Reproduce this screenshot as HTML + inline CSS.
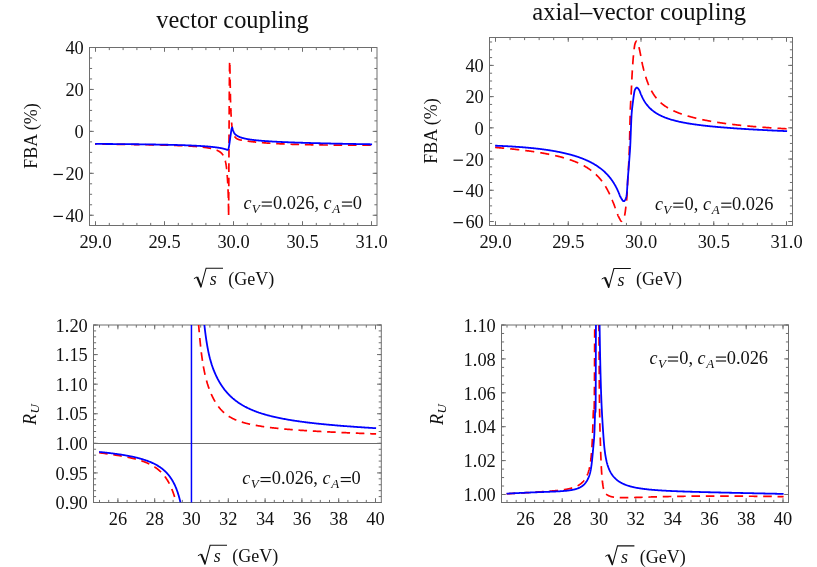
<!DOCTYPE html>
<html><head><meta charset="utf-8"><title>plot</title>
<style>
html,body{margin:0;padding:0;background:#fff;}
svg{display:block;font-family:"Liberation Serif", serif;fill:#111;will-change:transform;opacity:0.999;}
svg text{fill:#111;stroke:none;}
</style></head>
<body>
<svg width="817" height="567" viewBox="0 0 817 567">
<rect width="817" height="567" fill="#fff"/>
<clipPath id="clip1"><rect x="89.5" y="47.5" width="287.5" height="178.0"/></clipPath>
<line x1="95.50" y1="225.50" x2="95.50" y2="222.90" stroke="#6e6e6e" stroke-width="1"/>
<line x1="95.50" y1="47.50" x2="95.50" y2="50.10" stroke="#6e6e6e" stroke-width="1"/>
<line x1="109.30" y1="225.50" x2="109.30" y2="222.90" stroke="#6e6e6e" stroke-width="1"/>
<line x1="109.30" y1="47.50" x2="109.30" y2="50.10" stroke="#6e6e6e" stroke-width="1"/>
<line x1="123.10" y1="225.50" x2="123.10" y2="222.90" stroke="#6e6e6e" stroke-width="1"/>
<line x1="123.10" y1="47.50" x2="123.10" y2="50.10" stroke="#6e6e6e" stroke-width="1"/>
<line x1="136.90" y1="225.50" x2="136.90" y2="222.90" stroke="#6e6e6e" stroke-width="1"/>
<line x1="136.90" y1="47.50" x2="136.90" y2="50.10" stroke="#6e6e6e" stroke-width="1"/>
<line x1="150.70" y1="225.50" x2="150.70" y2="222.90" stroke="#6e6e6e" stroke-width="1"/>
<line x1="150.70" y1="47.50" x2="150.70" y2="50.10" stroke="#6e6e6e" stroke-width="1"/>
<line x1="164.50" y1="225.50" x2="164.50" y2="222.90" stroke="#6e6e6e" stroke-width="1"/>
<line x1="164.50" y1="47.50" x2="164.50" y2="50.10" stroke="#6e6e6e" stroke-width="1"/>
<line x1="178.30" y1="225.50" x2="178.30" y2="222.90" stroke="#6e6e6e" stroke-width="1"/>
<line x1="178.30" y1="47.50" x2="178.30" y2="50.10" stroke="#6e6e6e" stroke-width="1"/>
<line x1="192.10" y1="225.50" x2="192.10" y2="222.90" stroke="#6e6e6e" stroke-width="1"/>
<line x1="192.10" y1="47.50" x2="192.10" y2="50.10" stroke="#6e6e6e" stroke-width="1"/>
<line x1="205.90" y1="225.50" x2="205.90" y2="222.90" stroke="#6e6e6e" stroke-width="1"/>
<line x1="205.90" y1="47.50" x2="205.90" y2="50.10" stroke="#6e6e6e" stroke-width="1"/>
<line x1="219.70" y1="225.50" x2="219.70" y2="222.90" stroke="#6e6e6e" stroke-width="1"/>
<line x1="219.70" y1="47.50" x2="219.70" y2="50.10" stroke="#6e6e6e" stroke-width="1"/>
<line x1="233.50" y1="225.50" x2="233.50" y2="222.90" stroke="#6e6e6e" stroke-width="1"/>
<line x1="233.50" y1="47.50" x2="233.50" y2="50.10" stroke="#6e6e6e" stroke-width="1"/>
<line x1="247.30" y1="225.50" x2="247.30" y2="222.90" stroke="#6e6e6e" stroke-width="1"/>
<line x1="247.30" y1="47.50" x2="247.30" y2="50.10" stroke="#6e6e6e" stroke-width="1"/>
<line x1="261.10" y1="225.50" x2="261.10" y2="222.90" stroke="#6e6e6e" stroke-width="1"/>
<line x1="261.10" y1="47.50" x2="261.10" y2="50.10" stroke="#6e6e6e" stroke-width="1"/>
<line x1="274.90" y1="225.50" x2="274.90" y2="222.90" stroke="#6e6e6e" stroke-width="1"/>
<line x1="274.90" y1="47.50" x2="274.90" y2="50.10" stroke="#6e6e6e" stroke-width="1"/>
<line x1="288.70" y1="225.50" x2="288.70" y2="222.90" stroke="#6e6e6e" stroke-width="1"/>
<line x1="288.70" y1="47.50" x2="288.70" y2="50.10" stroke="#6e6e6e" stroke-width="1"/>
<line x1="302.50" y1="225.50" x2="302.50" y2="222.90" stroke="#6e6e6e" stroke-width="1"/>
<line x1="302.50" y1="47.50" x2="302.50" y2="50.10" stroke="#6e6e6e" stroke-width="1"/>
<line x1="316.30" y1="225.50" x2="316.30" y2="222.90" stroke="#6e6e6e" stroke-width="1"/>
<line x1="316.30" y1="47.50" x2="316.30" y2="50.10" stroke="#6e6e6e" stroke-width="1"/>
<line x1="330.10" y1="225.50" x2="330.10" y2="222.90" stroke="#6e6e6e" stroke-width="1"/>
<line x1="330.10" y1="47.50" x2="330.10" y2="50.10" stroke="#6e6e6e" stroke-width="1"/>
<line x1="343.90" y1="225.50" x2="343.90" y2="222.90" stroke="#6e6e6e" stroke-width="1"/>
<line x1="343.90" y1="47.50" x2="343.90" y2="50.10" stroke="#6e6e6e" stroke-width="1"/>
<line x1="357.70" y1="225.50" x2="357.70" y2="222.90" stroke="#6e6e6e" stroke-width="1"/>
<line x1="357.70" y1="47.50" x2="357.70" y2="50.10" stroke="#6e6e6e" stroke-width="1"/>
<line x1="371.50" y1="225.50" x2="371.50" y2="222.90" stroke="#6e6e6e" stroke-width="1"/>
<line x1="371.50" y1="47.50" x2="371.50" y2="50.10" stroke="#6e6e6e" stroke-width="1"/>
<line x1="95.50" y1="225.50" x2="95.50" y2="221.20" stroke="#6e6e6e" stroke-width="1"/>
<line x1="95.50" y1="47.50" x2="95.50" y2="51.80" stroke="#6e6e6e" stroke-width="1"/>
<text x="95.50" y="248.30" font-size="18.4" text-anchor="middle" font-style="normal">29.0</text>
<line x1="164.50" y1="225.50" x2="164.50" y2="221.20" stroke="#6e6e6e" stroke-width="1"/>
<line x1="164.50" y1="47.50" x2="164.50" y2="51.80" stroke="#6e6e6e" stroke-width="1"/>
<text x="164.50" y="248.30" font-size="18.4" text-anchor="middle" font-style="normal">29.5</text>
<line x1="233.50" y1="225.50" x2="233.50" y2="221.20" stroke="#6e6e6e" stroke-width="1"/>
<line x1="233.50" y1="47.50" x2="233.50" y2="51.80" stroke="#6e6e6e" stroke-width="1"/>
<text x="233.50" y="248.30" font-size="18.4" text-anchor="middle" font-style="normal">30.0</text>
<line x1="302.50" y1="225.50" x2="302.50" y2="221.20" stroke="#6e6e6e" stroke-width="1"/>
<line x1="302.50" y1="47.50" x2="302.50" y2="51.80" stroke="#6e6e6e" stroke-width="1"/>
<text x="302.50" y="248.30" font-size="18.4" text-anchor="middle" font-style="normal">30.5</text>
<line x1="371.50" y1="225.50" x2="371.50" y2="221.20" stroke="#6e6e6e" stroke-width="1"/>
<line x1="371.50" y1="47.50" x2="371.50" y2="51.80" stroke="#6e6e6e" stroke-width="1"/>
<text x="371.50" y="248.30" font-size="18.4" text-anchor="middle" font-style="normal">31.0</text>
<line x1="89.50" y1="47.50" x2="92.10" y2="47.50" stroke="#6e6e6e" stroke-width="1"/>
<line x1="377.00" y1="47.50" x2="374.40" y2="47.50" stroke="#6e6e6e" stroke-width="1"/>
<line x1="89.50" y1="57.98" x2="92.10" y2="57.98" stroke="#6e6e6e" stroke-width="1"/>
<line x1="377.00" y1="57.98" x2="374.40" y2="57.98" stroke="#6e6e6e" stroke-width="1"/>
<line x1="89.50" y1="68.47" x2="92.10" y2="68.47" stroke="#6e6e6e" stroke-width="1"/>
<line x1="377.00" y1="68.47" x2="374.40" y2="68.47" stroke="#6e6e6e" stroke-width="1"/>
<line x1="89.50" y1="78.95" x2="92.10" y2="78.95" stroke="#6e6e6e" stroke-width="1"/>
<line x1="377.00" y1="78.95" x2="374.40" y2="78.95" stroke="#6e6e6e" stroke-width="1"/>
<line x1="89.50" y1="89.44" x2="92.10" y2="89.44" stroke="#6e6e6e" stroke-width="1"/>
<line x1="377.00" y1="89.44" x2="374.40" y2="89.44" stroke="#6e6e6e" stroke-width="1"/>
<line x1="89.50" y1="99.92" x2="92.10" y2="99.92" stroke="#6e6e6e" stroke-width="1"/>
<line x1="377.00" y1="99.92" x2="374.40" y2="99.92" stroke="#6e6e6e" stroke-width="1"/>
<line x1="89.50" y1="110.41" x2="92.10" y2="110.41" stroke="#6e6e6e" stroke-width="1"/>
<line x1="377.00" y1="110.41" x2="374.40" y2="110.41" stroke="#6e6e6e" stroke-width="1"/>
<line x1="89.50" y1="120.89" x2="92.10" y2="120.89" stroke="#6e6e6e" stroke-width="1"/>
<line x1="377.00" y1="120.89" x2="374.40" y2="120.89" stroke="#6e6e6e" stroke-width="1"/>
<line x1="89.50" y1="131.38" x2="92.10" y2="131.38" stroke="#6e6e6e" stroke-width="1"/>
<line x1="377.00" y1="131.38" x2="374.40" y2="131.38" stroke="#6e6e6e" stroke-width="1"/>
<line x1="89.50" y1="141.87" x2="92.10" y2="141.87" stroke="#6e6e6e" stroke-width="1"/>
<line x1="377.00" y1="141.87" x2="374.40" y2="141.87" stroke="#6e6e6e" stroke-width="1"/>
<line x1="89.50" y1="152.35" x2="92.10" y2="152.35" stroke="#6e6e6e" stroke-width="1"/>
<line x1="377.00" y1="152.35" x2="374.40" y2="152.35" stroke="#6e6e6e" stroke-width="1"/>
<line x1="89.50" y1="162.83" x2="92.10" y2="162.83" stroke="#6e6e6e" stroke-width="1"/>
<line x1="377.00" y1="162.83" x2="374.40" y2="162.83" stroke="#6e6e6e" stroke-width="1"/>
<line x1="89.50" y1="173.32" x2="92.10" y2="173.32" stroke="#6e6e6e" stroke-width="1"/>
<line x1="377.00" y1="173.32" x2="374.40" y2="173.32" stroke="#6e6e6e" stroke-width="1"/>
<line x1="89.50" y1="183.81" x2="92.10" y2="183.81" stroke="#6e6e6e" stroke-width="1"/>
<line x1="377.00" y1="183.81" x2="374.40" y2="183.81" stroke="#6e6e6e" stroke-width="1"/>
<line x1="89.50" y1="194.29" x2="92.10" y2="194.29" stroke="#6e6e6e" stroke-width="1"/>
<line x1="377.00" y1="194.29" x2="374.40" y2="194.29" stroke="#6e6e6e" stroke-width="1"/>
<line x1="89.50" y1="204.78" x2="92.10" y2="204.78" stroke="#6e6e6e" stroke-width="1"/>
<line x1="377.00" y1="204.78" x2="374.40" y2="204.78" stroke="#6e6e6e" stroke-width="1"/>
<line x1="89.50" y1="215.26" x2="92.10" y2="215.26" stroke="#6e6e6e" stroke-width="1"/>
<line x1="377.00" y1="215.26" x2="374.40" y2="215.26" stroke="#6e6e6e" stroke-width="1"/>
<line x1="89.50" y1="47.50" x2="93.80" y2="47.50" stroke="#6e6e6e" stroke-width="1"/>
<line x1="377.00" y1="47.50" x2="372.70" y2="47.50" stroke="#6e6e6e" stroke-width="1"/>
<text x="83.80" y="54.20" font-size="18.4" text-anchor="end" font-style="normal">40</text>
<line x1="89.50" y1="89.44" x2="93.80" y2="89.44" stroke="#6e6e6e" stroke-width="1"/>
<line x1="377.00" y1="89.44" x2="372.70" y2="89.44" stroke="#6e6e6e" stroke-width="1"/>
<text x="83.80" y="96.14" font-size="18.4" text-anchor="end" font-style="normal">20</text>
<line x1="89.50" y1="131.38" x2="93.80" y2="131.38" stroke="#6e6e6e" stroke-width="1"/>
<line x1="377.00" y1="131.38" x2="372.70" y2="131.38" stroke="#6e6e6e" stroke-width="1"/>
<text x="83.80" y="138.08" font-size="18.4" text-anchor="end" font-style="normal">0</text>
<line x1="89.50" y1="173.32" x2="93.80" y2="173.32" stroke="#6e6e6e" stroke-width="1"/>
<line x1="377.00" y1="173.32" x2="372.70" y2="173.32" stroke="#6e6e6e" stroke-width="1"/>
<text x="83.80" y="180.02" font-size="18.4" text-anchor="end" font-style="normal">20</text>
<line x1="53.50" y1="174.47" x2="62.90" y2="174.47" stroke="#111" stroke-width="1.2"/>
<line x1="89.50" y1="215.26" x2="93.80" y2="215.26" stroke="#6e6e6e" stroke-width="1"/>
<line x1="377.00" y1="215.26" x2="372.70" y2="215.26" stroke="#6e6e6e" stroke-width="1"/>
<text x="83.80" y="221.96" font-size="18.4" text-anchor="end" font-style="normal">40</text>
<line x1="53.50" y1="216.41" x2="62.90" y2="216.41" stroke="#111" stroke-width="1.2"/>
<rect x="89.5" y="47.5" width="287.5" height="178.0" fill="none" stroke="#6e6e6e" stroke-width="1"/>
<path d="M95.10,144.06 L95.50,144.06 L96.32,144.07 L97.15,144.08 L97.96,144.09 L98.78,144.10 L99.59,144.10 L100.41,144.11 L101.21,144.12 L102.02,144.13 L102.82,144.14 L103.62,144.15 L104.42,144.16 L105.22,144.16 L106.01,144.17 L106.80,144.18 L107.59,144.19 L108.38,144.20 L109.16,144.21 L109.94,144.22 L110.72,144.23 L111.49,144.23 L112.27,144.24 L113.04,144.25 L113.81,144.26 L114.57,144.27 L115.33,144.28 L116.09,144.29 L116.85,144.30 L117.61,144.31 L118.36,144.32 L119.11,144.33 L119.86,144.33 L120.60,144.34 L121.34,144.35 L122.08,144.36 L122.82,144.37 L123.55,144.38 L124.29,144.39 L125.02,144.40 L125.74,144.41 L126.47,144.42 L127.19,144.43 L127.91,144.44 L128.63,144.45 L129.34,144.46 L130.05,144.47 L130.76,144.48 L131.47,144.49 L132.17,144.50 L132.87,144.51 L133.57,144.52 L134.27,144.53 L134.96,144.54 L135.65,144.55 L136.34,144.56 L137.03,144.57 L137.71,144.58 L138.39,144.60 L139.07,144.61 L139.75,144.62 L140.42,144.63 L141.09,144.64 L141.76,144.65 L142.43,144.66 L143.09,144.67 L143.75,144.68 L144.41,144.69 L145.06,144.71 L145.72,144.72 L146.37,144.73 L147.02,144.74 L147.66,144.75 L148.30,144.76 L148.94,144.78 L149.58,144.79 L150.22,144.80 L150.85,144.81 L151.48,144.83 L152.11,144.84 L152.73,144.85 L153.35,144.86 L153.97,144.88 L154.59,144.89 L155.21,144.90 L155.82,144.91 L156.43,144.93 L157.03,144.94 L157.64,144.95 L158.24,144.97 L158.84,144.98 L159.44,145.00 L160.03,145.01 L160.62,145.02 L161.21,145.04 L161.80,145.05 L162.38,145.07 L162.97,145.08 L163.54,145.10 L164.12,145.11 L164.69,145.12 L165.27,145.14 L165.83,145.15 L166.40,145.17 L166.96,145.19 L167.53,145.20 L168.08,145.22 L168.64,145.23 L169.19,145.25 L169.74,145.27 L170.29,145.28 L170.84,145.30 L171.38,145.32 L171.92,145.33 L172.46,145.35 L173.00,145.37 L173.53,145.38 L174.06,145.40 L174.59,145.42 L175.11,145.44 L175.64,145.46 L176.16,145.47 L176.68,145.49 L177.19,145.51 L177.70,145.53 L178.21,145.55 L178.72,145.57 L179.23,145.59 L179.73,145.61 L180.23,145.63 L180.72,145.65 L181.22,145.67 L181.71,145.69 L182.20,145.71 L182.69,145.73 L183.17,145.76 L183.66,145.78 L184.13,145.80 L184.61,145.82 L185.09,145.85 L185.56,145.87 L186.03,145.89 L186.49,145.92 L186.96,145.94 L187.42,145.97 L187.88,145.99 L188.33,146.01 L188.79,146.04 L189.24,146.07 L189.69,146.09 L190.13,146.12 L190.58,146.15 L191.02,146.17 L191.46,146.20 L191.89,146.23 L192.33,146.26 L192.76,146.28 L193.19,146.31 L193.61,146.34 L194.03,146.37 L194.45,146.40 L194.87,146.43 L195.29,146.47 L195.70,146.50 L196.11,146.53 L196.52,146.56 L196.92,146.60 L197.33,146.63 L197.73,146.66 L198.12,146.70 L198.52,146.73 L198.91,146.77 L199.30,146.81 L199.69,146.84 L200.07,146.88 L200.45,146.92 L200.83,146.96 L201.21,147.00 L201.58,147.04 L201.96,147.08 L202.32,147.12 L202.69,147.16 L203.06,147.20 L203.42,147.25 L203.78,147.29 L204.13,147.33 L204.48,147.38 L204.84,147.43 L205.18,147.47 L205.53,147.52 L205.87,147.57 L206.21,147.62 L206.55,147.67 L206.89,147.72 L207.22,147.78 L207.55,147.83 L207.88,147.88 L208.20,147.94 L208.52,147.99 L208.84,148.05 L209.16,148.11 L209.47,148.17 L209.78,148.23 L210.09,148.29 L210.40,148.35 L210.70,148.42 L211.00,148.48 L211.30,148.55 L211.60,148.62 L211.89,148.69 L212.18,148.76 L212.47,148.83 L212.75,148.90 L213.03,148.98 L213.31,149.05 L213.59,149.13 L213.86,149.21 L214.13,149.29 L214.40,149.37 L214.67,149.45 L214.93,149.54 L215.19,149.63 L215.45,149.71 L215.70,149.81 L215.95,149.90 L216.20,149.99 L216.44,150.09 L216.69,150.19 L216.93,150.29 L217.16,150.39 L217.40,150.49 L217.63,150.60 L217.86,150.70 L218.08,150.82 L218.30,150.93 L218.52,151.04 L218.74,151.16 L218.95,151.28 L219.16,151.40 L219.36,151.53 L219.57,151.66 L219.77,151.79 L219.96,151.93 L220.15,152.06 L220.34,152.20 L220.53,152.35 L220.71,152.50 L220.89,152.65 L221.07,152.80 L221.24,152.96 L221.41,153.12 L221.57,153.29 L221.73,153.45 L221.89,153.62 L222.04,153.80 L222.19,153.98 L222.34,154.16 L222.48,154.35 L222.62,154.53 L222.76,154.73 L222.89,154.92 L223.02,155.12 L223.15,155.32 L223.27,155.53 L223.39,155.74 L223.51,155.95 L223.62,156.17 L223.73,156.38 L223.84,156.61 L223.95,156.83 L224.05,157.06 L224.15,157.29 L224.25,157.52 L224.34,157.76 L224.43,158.00 L224.52,158.24 L224.61,158.49 L224.69,158.73 L224.78,158.98 L224.86,159.24 L224.94,159.49 L225.01,159.75 L225.09,160.01 L225.16,160.27 L225.23,160.54 L225.30,160.81 L225.36,161.08 L225.43,161.35 L225.49,161.63 L225.56,161.91 L225.62,162.19 L225.68,162.47 L225.73,162.76 L225.79,163.05 L225.84,163.34 L225.90,163.63 L225.95,163.93 L226.00,164.22 L226.05,164.52 L226.10,164.83 L226.15,165.13 L226.19,165.44 L226.24,165.74 L226.28,166.06 L226.33,166.37 L226.37,166.68 L226.41,167.00 L226.45,167.32 L226.49,167.64 L226.53,167.97 L226.57,168.29 L226.61,168.62 L226.64,168.95 L226.68,169.28 L226.71,169.61 L226.75,169.95 L226.78,170.29 L226.81,170.63 L226.85,170.97 L226.88,171.31 L226.91,171.65 L226.94,171.99 L226.97,172.34 L227.00,172.68 L227.03,173.03 L227.06,173.37 L227.09,173.72 L227.11,174.07 L227.14,174.42 L227.17,174.77 L227.20,175.11 L227.22,175.46 L227.25,175.81 L227.27,176.16 L227.30,176.51 L227.32,176.86 L227.35,177.20 L227.37,177.55 L227.39,177.90 L227.42,178.24 L227.44,178.59 L227.46,178.93 L227.49,179.28 L227.51,179.62 L227.53,179.96 L227.55,180.30 L227.57,180.64 L227.60,180.98 L227.62,181.32 L227.64,181.66 L227.66,181.99 L227.68,182.33 L227.70,182.67 L227.72,183.00 L227.74,183.34 L227.76,183.67 L227.77,184.01 L227.79,184.34 L227.81,184.67 L227.83,185.01 L227.85,185.34 L227.86,185.68 L227.88,186.01 L227.90,186.34 L227.92,186.68 L227.93,187.01 L227.95,187.35 L227.96,187.68 L227.98,188.02 L227.99,188.36 L228.01,188.70 L228.02,189.03 L228.04,189.37 L228.05,189.71 L228.07,190.06 L228.08,190.40 L228.09,190.74 L228.11,191.08 L228.12,191.43 L228.13,191.78 L228.15,192.12 L228.16,192.47 L228.17,192.82 L228.18,193.18 L228.19,193.53 L228.21,193.88 L228.22,194.24 L228.23,194.60 L228.24,194.96 L228.25,195.32 L228.26,195.68 L228.27,196.05 L228.28,196.41 L228.29,196.78 L228.30,197.15 L228.31,197.52 L228.32,197.90 L228.33,198.27 L228.34,198.65 L228.35,199.03 L228.36,199.41 L228.36,199.80 L228.37,200.18 L228.38,200.57 L228.39,200.96 L228.40,201.35 L228.40,201.75 L228.41,202.14 L228.42,202.54 L228.43,202.94 L228.43,203.35 L228.44,203.75 L228.45,204.16 L228.45,204.57 L228.46,204.98 L228.47,205.40 L228.47,205.81 L228.48,206.23 L228.49,206.65 L228.49,207.08 L228.50,207.50 L228.50,207.93 L228.51,208.36 L228.52,208.80 L228.52,209.23 L228.53,209.67 L228.53,210.11 L228.54,210.55 L228.54,211.00 L228.55,211.44 L228.55,211.89 L228.56,212.35 L228.56,212.85 L228.57,213.43 L228.57,214.04 L228.58,214.66 L228.58,215.23 L228.58,215.74 L228.59,216.14 L228.59,216.39 L228.60,216.47 L228.61,216.28 L228.62,215.79 L228.62,215.02 L228.63,213.97 L228.64,212.66 L228.65,211.09 L228.67,209.29 L228.68,207.25 L228.69,205.00 L228.71,202.53 L228.72,199.87 L228.73,197.03 L228.75,194.01 L228.77,190.83 L228.78,187.50 L228.80,184.04 L228.82,180.44 L228.84,176.73 L228.86,172.91 L228.88,168.99 L228.89,165.00 L228.92,160.93 L228.94,156.81 L228.96,152.63 L228.98,148.42 L229.00,144.18 L229.02,139.93 L229.04,135.68 L229.07,131.43 L229.09,127.20 L229.11,123.01 L229.14,118.85 L229.16,114.75 L229.19,110.72 L229.21,106.76 L229.23,102.89 L229.26,99.12 L229.28,95.46 L229.31,91.92 L229.33,88.51 L229.36,85.25 L229.38,82.14 L229.41,79.21 L229.43,76.45 L229.46,73.88 L229.48,71.51 L229.51,69.35 L229.54,67.42 L229.56,65.72 L229.59,64.27 L229.61,63.08 L229.63,62.16 L229.66,61.52 L229.68,61.17 L229.71,61.12 L229.73,61.34 L229.76,61.80 L229.79,62.49 L229.82,63.39 L229.85,64.48 L229.88,65.74 L229.91,67.15 L229.95,68.70 L229.98,70.37 L230.01,72.14 L230.05,73.99 L230.08,75.90 L230.12,77.86 L230.15,79.84 L230.18,81.84 L230.21,83.82 L230.25,85.78 L230.28,87.69 L230.31,89.54 L230.34,91.31 L230.37,92.98 L230.39,94.54 L230.42,95.95 L230.44,97.22 L230.46,98.31 L230.48,99.22 L230.50,99.91 L230.52,100.46 L230.53,100.93 L230.54,101.35 L230.55,101.73 L230.57,102.10 L230.58,102.45 L230.59,102.82 L230.60,103.21 L230.61,103.62 L230.63,104.02 L230.64,104.43 L230.66,104.84 L230.67,105.24 L230.68,105.64 L230.70,106.04 L230.71,106.45 L230.73,106.85 L230.74,107.24 L230.76,107.64 L230.77,108.04 L230.79,108.43 L230.81,108.83 L230.82,109.22 L230.84,109.62 L230.86,110.01 L230.87,110.40 L230.89,110.79 L230.91,111.17 L230.92,111.56 L230.94,111.94 L230.96,112.33 L230.98,112.71 L231.00,113.09 L231.02,113.47 L231.03,113.85 L231.05,114.23 L231.07,114.60 L231.09,114.98 L231.11,115.35 L231.13,115.72 L231.16,116.09 L231.18,116.46 L231.20,116.82 L231.22,117.19 L231.24,117.55 L231.26,117.91 L231.29,118.27 L231.31,118.63 L231.33,118.99 L231.36,119.34 L231.38,119.69 L231.41,120.05 L231.43,120.39 L231.46,120.74 L231.49,121.09 L231.51,121.43 L231.54,121.77 L231.57,122.11 L231.60,122.45 L231.63,122.78 L231.65,123.11 L231.68,123.44 L231.72,123.77 L231.75,124.10 L231.78,124.42 L231.81,124.74 L231.84,125.06 L231.88,125.38 L231.91,125.69 L231.95,126.00 L231.98,126.31 L232.02,126.62 L232.06,126.92 L232.10,127.22 L232.13,127.52 L232.17,127.81 L232.22,128.10 L232.26,128.39 L232.30,128.68 L232.35,128.96 L232.39,129.25 L232.44,129.52 L232.48,129.80 L232.53,130.07 L232.58,130.34 L232.63,130.61 L232.69,130.87 L232.74,131.13 L232.80,131.39 L232.85,131.64 L232.91,131.89 L232.97,132.14 L233.03,132.39 L233.09,132.63 L233.16,132.87 L233.23,133.10 L233.29,133.34 L233.36,133.56 L233.44,133.79 L233.51,134.01 L233.59,134.23 L233.67,134.45 L233.75,134.66 L233.83,134.87 L233.92,135.07 L234.01,135.28 L234.10,135.47 L234.19,135.67 L234.29,135.86 L234.39,136.04 L234.49,136.23 L234.60,136.40 L234.71,136.58 L234.82,136.75 L234.94,136.91 L235.06,137.07 L235.18,137.23 L235.31,137.38 L235.44,137.53 L235.57,137.67 L235.71,137.81 L235.85,137.94 L235.99,138.07 L236.14,138.19 L236.29,138.31 L236.44,138.42 L236.60,138.53 L236.76,138.64 L236.93,138.74 L237.09,138.84 L237.27,138.93 L237.44,139.02 L237.62,139.10 L237.79,139.18 L237.98,139.26 L238.16,139.33 L238.35,139.40 L238.54,139.47 L238.73,139.53 L238.93,139.60 L239.12,139.65 L239.32,139.71 L239.53,139.77 L239.73,139.82 L239.94,139.87 L240.15,139.92 L240.36,139.96 L240.57,140.01 L240.79,140.05 L241.01,140.10 L241.23,140.14 L241.45,140.18 L241.68,140.22 L241.90,140.26 L242.13,140.30 L242.37,140.34 L242.60,140.38 L242.83,140.41 L243.07,140.45 L243.31,140.49 L243.55,140.53 L243.80,140.56 L244.04,140.60 L244.29,140.64 L244.54,140.67 L244.80,140.71 L245.05,140.75 L245.31,140.79 L245.57,140.82 L245.83,140.86 L246.09,140.90 L246.35,140.94 L246.62,140.98 L246.89,141.01 L247.16,141.05 L247.44,141.09 L247.71,141.13 L247.99,141.16 L248.27,141.20 L248.55,141.24 L248.83,141.28 L249.12,141.31 L249.41,141.35 L249.70,141.39 L249.99,141.42 L250.29,141.46 L250.58,141.50 L250.88,141.53 L251.18,141.57 L251.48,141.61 L251.79,141.64 L252.10,141.68 L252.40,141.72 L252.72,141.75 L253.03,141.79 L253.35,141.82 L253.66,141.86 L253.98,141.89 L254.30,141.93 L254.63,141.96 L254.95,142.00 L255.28,142.03 L255.61,142.07 L255.94,142.10 L256.28,142.13 L256.62,142.17 L256.95,142.20 L257.29,142.23 L257.64,142.27 L257.98,142.30 L258.33,142.33 L258.68,142.37 L259.03,142.40 L259.38,142.43 L259.74,142.46 L260.10,142.50 L260.46,142.53 L260.82,142.56 L261.18,142.59 L261.55,142.62 L261.92,142.65 L262.29,142.68 L262.66,142.71 L263.03,142.74 L263.41,142.77 L263.79,142.80 L264.17,142.83 L264.55,142.86 L264.94,142.89 L265.32,142.92 L265.71,142.95 L266.10,142.98 L266.50,143.01 L266.89,143.03 L267.29,143.06 L267.69,143.09 L268.09,143.12 L268.50,143.15 L268.90,143.17 L269.31,143.20 L269.72,143.23 L270.13,143.25 L270.55,143.28 L270.96,143.31 L271.38,143.33 L271.80,143.36 L272.22,143.38 L272.65,143.41 L273.08,143.43 L273.51,143.46 L273.94,143.48 L274.37,143.51 L274.81,143.53 L275.24,143.56 L275.68,143.58 L276.12,143.60 L276.57,143.63 L277.01,143.65 L277.46,143.67 L277.91,143.70 L278.36,143.72 L278.82,143.74 L279.27,143.76 L279.73,143.79 L280.19,143.81 L280.66,143.83 L281.12,143.85 L281.59,143.87 L282.06,143.89 L282.53,143.91 L283.00,143.94 L283.48,143.96 L283.95,143.98 L284.43,144.00 L284.92,144.02 L285.40,144.04 L285.88,144.06 L286.37,144.07 L286.86,144.09 L287.35,144.11 L287.85,144.13 L288.35,144.15 L288.84,144.17 L289.34,144.19 L289.85,144.21 L290.35,144.22 L290.86,144.24 L291.37,144.26 L291.88,144.28 L292.39,144.29 L292.91,144.31 L293.42,144.33 L293.94,144.34 L294.46,144.36 L294.99,144.38 L295.51,144.39 L296.04,144.41 L296.57,144.42 L297.10,144.44 L297.64,144.46 L298.17,144.47 L298.71,144.49 L299.25,144.50 L299.80,144.52 L300.34,144.53 L300.89,144.54 L301.44,144.56 L301.99,144.57 L302.54,144.59 L303.09,144.60 L303.65,144.61 L304.21,144.63 L304.77,144.64 L305.34,144.65 L305.90,144.67 L306.47,144.68 L307.04,144.69 L307.61,144.70 L308.18,144.72 L308.76,144.73 L309.34,144.74 L309.92,144.75 L310.50,144.76 L311.09,144.78 L311.67,144.79 L312.26,144.80 L312.85,144.81 L313.44,144.82 L314.04,144.83 L314.64,144.84 L315.24,144.85 L315.84,144.86 L316.44,144.87 L317.05,144.88 L317.65,144.89 L318.26,144.90 L318.87,144.91 L319.49,144.92 L320.10,144.93 L320.72,144.94 L321.34,144.95 L321.96,144.96 L322.59,144.97 L323.22,144.98 L323.84,144.98 L324.47,144.99 L325.11,145.00 L325.74,145.01 L326.38,145.02 L327.02,145.02 L327.66,145.03 L328.30,145.04 L328.95,145.05 L329.59,145.05 L330.24,145.06 L330.90,145.07 L331.55,145.07 L332.20,145.08 L332.86,145.09 L333.52,145.09 L334.18,145.10 L334.85,145.11 L335.52,145.11 L336.18,145.12 L336.85,145.12 L337.53,145.13 L338.20,145.13 L338.88,145.14 L339.56,145.15 L340.24,145.15 L340.92,145.16 L341.61,145.16 L342.29,145.16 L342.98,145.17 L343.67,145.17 L344.37,145.18 L345.06,145.18 L345.76,145.19 L346.46,145.19 L347.16,145.20 L347.87,145.20 L348.57,145.20 L349.28,145.21 L349.99,145.21 L350.70,145.21 L351.42,145.22 L352.13,145.22 L352.85,145.22 L353.57,145.22 L354.30,145.23 L355.02,145.23 L355.75,145.23 L356.48,145.24 L357.21,145.24 L357.94,145.24 L358.68,145.24 L359.41,145.24 L360.15,145.25 L360.90,145.25 L361.64,145.25 L362.39,145.25 L363.13,145.25 L363.88,145.25 L364.64,145.25 L365.39,145.26 L366.15,145.26 L366.90,145.26 L367.67,145.26 L368.43,145.26 L369.19,145.26 L369.96,145.26 L370.73,145.26 L371.50,145.26 L372.10,145.26" fill="none" stroke="#ff0000" stroke-width="1.7" stroke-linejoin="round" stroke-linecap="butt" stroke-dasharray="8.6 5.75" stroke-dashoffset="7.2"/>
<path d="M95.10,143.91 L95.50,143.91 L96.59,143.92 L97.67,143.92 L98.75,143.93 L99.82,143.94 L100.89,143.94 L101.96,143.95 L103.02,143.96 L104.07,143.96 L105.12,143.97 L106.17,143.98 L107.21,143.98 L108.25,143.99 L109.29,144.00 L110.32,144.00 L111.34,144.01 L112.36,144.02 L113.38,144.03 L114.39,144.04 L115.40,144.04 L116.40,144.05 L117.40,144.06 L118.40,144.07 L119.39,144.08 L120.37,144.08 L121.36,144.09 L122.33,144.10 L123.31,144.11 L124.27,144.12 L125.24,144.13 L126.20,144.14 L127.15,144.15 L128.10,144.16 L129.05,144.17 L129.99,144.18 L130.93,144.19 L131.87,144.20 L132.79,144.21 L133.72,144.22 L134.64,144.23 L135.56,144.24 L136.47,144.25 L137.37,144.26 L138.28,144.27 L139.18,144.28 L140.07,144.29 L140.96,144.30 L141.85,144.32 L142.73,144.33 L143.60,144.34 L144.48,144.35 L145.34,144.36 L146.21,144.38 L147.07,144.39 L147.92,144.40 L148.77,144.41 L149.62,144.43 L150.46,144.44 L151.30,144.45 L152.13,144.47 L152.96,144.48 L153.78,144.49 L154.60,144.51 L155.42,144.52 L156.23,144.54 L157.03,144.55 L157.84,144.56 L158.63,144.58 L159.43,144.59 L160.22,144.61 L161.00,144.62 L161.78,144.64 L162.56,144.66 L163.33,144.67 L164.10,144.69 L164.86,144.70 L165.62,144.72 L166.37,144.74 L167.12,144.75 L167.87,144.77 L168.61,144.79 L169.35,144.81 L170.08,144.82 L170.81,144.84 L171.53,144.86 L172.25,144.88 L172.96,144.90 L173.67,144.91 L174.38,144.93 L175.08,144.95 L175.78,144.97 L176.47,144.99 L177.16,145.01 L177.84,145.03 L178.52,145.05 L179.20,145.07 L179.87,145.09 L180.54,145.11 L181.20,145.14 L181.86,145.16 L182.51,145.18 L183.16,145.20 L183.80,145.22 L184.44,145.25 L185.08,145.27 L185.71,145.29 L186.34,145.31 L186.96,145.34 L187.58,145.36 L188.19,145.39 L188.80,145.41 L189.41,145.44 L190.01,145.46 L190.60,145.49 L191.20,145.51 L191.78,145.54 L192.37,145.56 L192.95,145.59 L193.52,145.62 L194.09,145.64 L194.66,145.67 L195.22,145.70 L195.78,145.73 L196.33,145.76 L196.88,145.78 L197.42,145.81 L197.96,145.84 L198.50,145.87 L199.03,145.90 L199.55,145.93 L200.07,145.96 L200.59,145.99 L201.11,146.03 L201.61,146.06 L202.12,146.09 L202.62,146.12 L203.11,146.16 L203.61,146.19 L204.09,146.22 L204.57,146.26 L205.05,146.29 L205.53,146.33 L206.00,146.36 L206.46,146.40 L206.92,146.43 L207.38,146.47 L207.83,146.51 L208.28,146.55 L208.72,146.58 L209.16,146.62 L209.59,146.66 L210.02,146.70 L210.45,146.74 L210.87,146.78 L211.28,146.82 L211.70,146.86 L212.10,146.90 L212.51,146.95 L212.91,146.99 L213.30,147.03 L213.69,147.08 L214.08,147.12 L214.46,147.17 L214.84,147.21 L215.21,147.26 L215.58,147.30 L215.94,147.35 L216.30,147.40 L216.65,147.44 L217.00,147.49 L217.35,147.54 L217.69,147.59 L218.03,147.64 L218.36,147.69 L218.69,147.74 L219.01,147.80 L219.33,147.85 L219.65,147.90 L219.96,147.96 L220.27,148.01 L220.57,148.06 L220.87,148.12 L221.16,148.18 L221.45,148.23 L221.73,148.29 L222.01,148.35 L222.29,148.41 L222.56,148.46 L222.82,148.52 L223.09,148.58 L223.34,148.65 L223.60,148.71 L223.84,148.77 L224.09,148.83 L224.33,148.89 L224.56,148.96 L224.79,149.02 L225.02,149.08 L225.24,149.15 L225.46,149.21 L225.67,149.28 L225.88,149.35 L226.08,149.41 L226.28,149.47 L226.49,149.55 L226.69,149.66 L226.89,149.76 L227.09,149.82 L227.28,149.87 L227.47,149.90 L227.66,149.86 L227.84,149.74 L228.01,149.59 L228.15,149.39 L228.28,149.12 L228.41,148.78 L228.54,148.39 L228.68,147.93 L228.82,147.32 L228.97,146.57 L229.12,145.69 L229.28,144.71 L229.43,143.66 L229.59,142.56 L229.74,141.43 L229.90,140.30 L230.05,139.19 L230.19,138.13 L230.33,137.13 L230.46,136.23 L230.59,135.41 L230.71,134.58 L230.83,133.75 L230.94,132.93 L231.06,132.14 L231.17,131.38 L231.27,130.68 L231.38,130.04 L231.49,129.48 L231.60,129.00 L231.71,128.55 L231.81,128.12 L231.92,127.76 L232.03,127.54 L232.15,127.52 L232.27,127.74 L232.40,128.15 L232.53,128.66 L232.67,129.22 L232.82,129.76 L232.99,130.24 L233.20,130.77 L233.43,131.34 L233.67,131.91 L233.92,132.46 L234.16,132.95 L234.38,133.33 L234.55,133.59 L234.70,133.76 L234.84,133.90 L234.98,134.05 L235.14,134.20 L235.30,134.35 L235.46,134.50 L235.63,134.64 L235.80,134.79 L235.97,134.93 L236.15,135.06 L236.33,135.20 L236.52,135.33 L236.71,135.46 L236.90,135.59 L237.10,135.72 L237.30,135.84 L237.51,135.96 L237.72,136.08 L237.93,136.19 L238.15,136.31 L238.37,136.42 L238.60,136.53 L238.82,136.64 L239.06,136.74 L239.29,136.84 L239.53,136.94 L239.78,137.04 L240.02,137.14 L240.27,137.23 L240.53,137.33 L240.79,137.42 L241.05,137.51 L241.31,137.60 L241.58,137.68 L241.86,137.77 L242.13,137.85 L242.41,137.93 L242.69,138.01 L242.98,138.09 L243.27,138.17 L243.57,138.24 L243.86,138.32 L244.16,138.39 L244.47,138.46 L244.77,138.53 L245.09,138.60 L245.40,138.67 L245.72,138.74 L246.04,138.80 L246.36,138.87 L246.69,138.93 L247.02,139.00 L247.36,139.06 L247.70,139.12 L248.04,139.18 L248.38,139.24 L248.73,139.29 L249.08,139.35 L249.44,139.41 L249.80,139.46 L250.16,139.52 L250.52,139.57 L250.89,139.62 L251.26,139.68 L251.64,139.73 L252.02,139.78 L252.40,139.83 L252.79,139.88 L253.18,139.93 L253.57,139.97 L253.96,140.02 L254.36,140.07 L254.77,140.12 L255.17,140.16 L255.58,140.21 L255.99,140.25 L256.41,140.29 L256.83,140.34 L257.25,140.38 L257.68,140.42 L258.10,140.46 L258.54,140.50 L258.97,140.55 L259.41,140.59 L259.85,140.63 L260.30,140.67 L260.75,140.70 L261.20,140.74 L261.66,140.78 L262.12,140.82 L262.58,140.86 L263.04,140.89 L263.51,140.93 L263.99,140.96 L264.46,141.00 L264.94,141.04 L265.42,141.07 L265.91,141.11 L266.40,141.14 L266.89,141.17 L267.39,141.21 L267.89,141.24 L268.39,141.27 L268.89,141.31 L269.40,141.34 L269.92,141.37 L270.43,141.40 L270.95,141.43 L271.47,141.46 L272.00,141.50 L272.53,141.53 L273.06,141.56 L273.60,141.59 L274.13,141.62 L274.68,141.65 L275.22,141.67 L275.77,141.70 L276.32,141.73 L276.88,141.76 L277.44,141.79 L278.00,141.82 L278.57,141.85 L279.14,141.87 L279.71,141.90 L280.28,141.93 L280.86,141.96 L281.44,141.98 L282.03,142.01 L282.62,142.04 L283.21,142.06 L283.81,142.09 L284.40,142.11 L285.01,142.14 L285.61,142.16 L286.22,142.19 L286.83,142.22 L287.45,142.24 L288.07,142.27 L288.69,142.29 L289.31,142.31 L289.94,142.34 L290.58,142.36 L291.21,142.39 L291.85,142.41 L292.49,142.43 L293.14,142.46 L293.79,142.48 L294.44,142.50 L295.09,142.53 L295.75,142.55 L296.41,142.57 L297.08,142.60 L297.75,142.62 L298.42,142.64 L299.09,142.66 L299.77,142.69 L300.45,142.71 L301.14,142.73 L301.83,142.75 L302.52,142.77 L303.21,142.80 L303.91,142.82 L304.61,142.84 L305.32,142.86 L306.03,142.88 L306.74,142.90 L307.45,142.92 L308.17,142.94 L308.89,142.97 L309.62,142.99 L310.35,143.01 L311.08,143.03 L311.81,143.05 L312.55,143.07 L313.29,143.09 L314.04,143.11 L314.79,143.13 L315.54,143.15 L316.29,143.17 L317.05,143.19 L317.81,143.21 L318.58,143.23 L319.35,143.25 L320.12,143.27 L320.89,143.28 L321.67,143.30 L322.45,143.32 L323.24,143.34 L324.02,143.36 L324.81,143.38 L325.61,143.40 L326.41,143.42 L327.21,143.44 L328.01,143.45 L328.82,143.47 L329.63,143.49 L330.45,143.51 L331.26,143.53 L332.09,143.55 L332.91,143.56 L333.74,143.58 L334.57,143.60 L335.40,143.62 L336.24,143.64 L337.08,143.65 L337.93,143.67 L338.77,143.69 L339.62,143.71 L340.48,143.73 L341.34,143.74 L342.20,143.76 L343.06,143.78 L343.93,143.80 L344.80,143.81 L345.68,143.83 L346.55,143.85 L347.43,143.86 L348.32,143.88 L349.20,143.90 L350.10,143.92 L350.99,143.93 L351.89,143.95 L352.79,143.97 L353.69,143.98 L354.60,144.00 L355.51,144.02 L356.42,144.03 L357.34,144.05 L358.26,144.07 L359.19,144.08 L360.11,144.10 L361.04,144.12 L361.98,144.13 L362.92,144.15 L363.86,144.16 L364.80,144.18 L365.75,144.20 L366.70,144.21 L367.65,144.23 L368.61,144.25 L369.57,144.26 L370.53,144.28 L371.50,144.29 L372.10,144.30" fill="none" stroke="#0000ff" stroke-width="1.8" stroke-linejoin="round" stroke-linecap="butt"/>
<text x="243.40" y="208.90" font-size="18" text-anchor="start" font-style="italic">c</text>
<text x="251.85" y="212.90" font-size="13" text-anchor="start" font-style="italic">V</text>
<line x1="261.70" y1="202.10" x2="271.90" y2="202.10" stroke="#111" stroke-width="1.15"/>
<line x1="261.70" y1="206.00" x2="271.90" y2="206.00" stroke="#111" stroke-width="1.15"/>
<text x="273.00" y="208.90" font-size="18.4" text-anchor="start" font-style="normal">0.026,</text>
<text x="323.60" y="208.90" font-size="18" text-anchor="start" font-style="italic">c</text>
<text x="332.35" y="212.90" font-size="13" text-anchor="start" font-style="italic">A</text>
<line x1="341.90" y1="202.10" x2="352.10" y2="202.10" stroke="#111" stroke-width="1.15"/>
<line x1="341.90" y1="206.00" x2="352.10" y2="206.00" stroke="#111" stroke-width="1.15"/>
<text x="352.70" y="208.90" font-size="18.4" text-anchor="start" font-style="normal">0</text>
<text x="232.50" y="28.10" font-size="24.4" text-anchor="middle" font-style="normal">vector coupling</text>
<path d="M193.90,278.70 L197.00,276.90" fill="none" stroke="#111" stroke-width="1.0"/>
<path d="M196.20,277.50 L198.10,276.60 L201.60,285.20 L201.00,287.50 L200.40,287.50 Z" fill="#111" stroke="none"/>
<path d="M200.90,287.40 L206.10,268.15 L223.00,268.15" fill="none" stroke="#111" stroke-width="1.05" stroke-linejoin="miter"/>
<text x="209.70" y="285.30" font-size="18" text-anchor="start" font-style="italic">s</text>
<text x="228.30" y="284.90" font-size="18" text-anchor="start" font-style="normal">(GeV)</text>
<text transform="translate(37.1,135.9) rotate(-90)" font-size="18" text-anchor="middle">FBA (%)</text>
<clipPath id="clip2"><rect x="489.5" y="37.5" width="303.0" height="188.0"/></clipPath>
<line x1="495.50" y1="225.50" x2="495.50" y2="222.90" stroke="#6e6e6e" stroke-width="1"/>
<line x1="495.50" y1="37.50" x2="495.50" y2="40.10" stroke="#6e6e6e" stroke-width="1"/>
<line x1="510.05" y1="225.50" x2="510.05" y2="222.90" stroke="#6e6e6e" stroke-width="1"/>
<line x1="510.05" y1="37.50" x2="510.05" y2="40.10" stroke="#6e6e6e" stroke-width="1"/>
<line x1="524.60" y1="225.50" x2="524.60" y2="222.90" stroke="#6e6e6e" stroke-width="1"/>
<line x1="524.60" y1="37.50" x2="524.60" y2="40.10" stroke="#6e6e6e" stroke-width="1"/>
<line x1="539.15" y1="225.50" x2="539.15" y2="222.90" stroke="#6e6e6e" stroke-width="1"/>
<line x1="539.15" y1="37.50" x2="539.15" y2="40.10" stroke="#6e6e6e" stroke-width="1"/>
<line x1="553.70" y1="225.50" x2="553.70" y2="222.90" stroke="#6e6e6e" stroke-width="1"/>
<line x1="553.70" y1="37.50" x2="553.70" y2="40.10" stroke="#6e6e6e" stroke-width="1"/>
<line x1="568.25" y1="225.50" x2="568.25" y2="222.90" stroke="#6e6e6e" stroke-width="1"/>
<line x1="568.25" y1="37.50" x2="568.25" y2="40.10" stroke="#6e6e6e" stroke-width="1"/>
<line x1="582.80" y1="225.50" x2="582.80" y2="222.90" stroke="#6e6e6e" stroke-width="1"/>
<line x1="582.80" y1="37.50" x2="582.80" y2="40.10" stroke="#6e6e6e" stroke-width="1"/>
<line x1="597.35" y1="225.50" x2="597.35" y2="222.90" stroke="#6e6e6e" stroke-width="1"/>
<line x1="597.35" y1="37.50" x2="597.35" y2="40.10" stroke="#6e6e6e" stroke-width="1"/>
<line x1="611.90" y1="225.50" x2="611.90" y2="222.90" stroke="#6e6e6e" stroke-width="1"/>
<line x1="611.90" y1="37.50" x2="611.90" y2="40.10" stroke="#6e6e6e" stroke-width="1"/>
<line x1="626.45" y1="225.50" x2="626.45" y2="222.90" stroke="#6e6e6e" stroke-width="1"/>
<line x1="626.45" y1="37.50" x2="626.45" y2="40.10" stroke="#6e6e6e" stroke-width="1"/>
<line x1="641.00" y1="225.50" x2="641.00" y2="222.90" stroke="#6e6e6e" stroke-width="1"/>
<line x1="641.00" y1="37.50" x2="641.00" y2="40.10" stroke="#6e6e6e" stroke-width="1"/>
<line x1="655.55" y1="225.50" x2="655.55" y2="222.90" stroke="#6e6e6e" stroke-width="1"/>
<line x1="655.55" y1="37.50" x2="655.55" y2="40.10" stroke="#6e6e6e" stroke-width="1"/>
<line x1="670.10" y1="225.50" x2="670.10" y2="222.90" stroke="#6e6e6e" stroke-width="1"/>
<line x1="670.10" y1="37.50" x2="670.10" y2="40.10" stroke="#6e6e6e" stroke-width="1"/>
<line x1="684.65" y1="225.50" x2="684.65" y2="222.90" stroke="#6e6e6e" stroke-width="1"/>
<line x1="684.65" y1="37.50" x2="684.65" y2="40.10" stroke="#6e6e6e" stroke-width="1"/>
<line x1="699.20" y1="225.50" x2="699.20" y2="222.90" stroke="#6e6e6e" stroke-width="1"/>
<line x1="699.20" y1="37.50" x2="699.20" y2="40.10" stroke="#6e6e6e" stroke-width="1"/>
<line x1="713.75" y1="225.50" x2="713.75" y2="222.90" stroke="#6e6e6e" stroke-width="1"/>
<line x1="713.75" y1="37.50" x2="713.75" y2="40.10" stroke="#6e6e6e" stroke-width="1"/>
<line x1="728.30" y1="225.50" x2="728.30" y2="222.90" stroke="#6e6e6e" stroke-width="1"/>
<line x1="728.30" y1="37.50" x2="728.30" y2="40.10" stroke="#6e6e6e" stroke-width="1"/>
<line x1="742.85" y1="225.50" x2="742.85" y2="222.90" stroke="#6e6e6e" stroke-width="1"/>
<line x1="742.85" y1="37.50" x2="742.85" y2="40.10" stroke="#6e6e6e" stroke-width="1"/>
<line x1="757.40" y1="225.50" x2="757.40" y2="222.90" stroke="#6e6e6e" stroke-width="1"/>
<line x1="757.40" y1="37.50" x2="757.40" y2="40.10" stroke="#6e6e6e" stroke-width="1"/>
<line x1="771.95" y1="225.50" x2="771.95" y2="222.90" stroke="#6e6e6e" stroke-width="1"/>
<line x1="771.95" y1="37.50" x2="771.95" y2="40.10" stroke="#6e6e6e" stroke-width="1"/>
<line x1="786.50" y1="225.50" x2="786.50" y2="222.90" stroke="#6e6e6e" stroke-width="1"/>
<line x1="786.50" y1="37.50" x2="786.50" y2="40.10" stroke="#6e6e6e" stroke-width="1"/>
<line x1="495.50" y1="225.50" x2="495.50" y2="221.20" stroke="#6e6e6e" stroke-width="1"/>
<line x1="495.50" y1="37.50" x2="495.50" y2="41.80" stroke="#6e6e6e" stroke-width="1"/>
<text x="495.50" y="248.30" font-size="18.4" text-anchor="middle" font-style="normal">29.0</text>
<line x1="568.25" y1="225.50" x2="568.25" y2="221.20" stroke="#6e6e6e" stroke-width="1"/>
<line x1="568.25" y1="37.50" x2="568.25" y2="41.80" stroke="#6e6e6e" stroke-width="1"/>
<text x="568.25" y="248.30" font-size="18.4" text-anchor="middle" font-style="normal">29.5</text>
<line x1="641.00" y1="225.50" x2="641.00" y2="221.20" stroke="#6e6e6e" stroke-width="1"/>
<line x1="641.00" y1="37.50" x2="641.00" y2="41.80" stroke="#6e6e6e" stroke-width="1"/>
<text x="641.00" y="248.30" font-size="18.4" text-anchor="middle" font-style="normal">30.0</text>
<line x1="713.75" y1="225.50" x2="713.75" y2="221.20" stroke="#6e6e6e" stroke-width="1"/>
<line x1="713.75" y1="37.50" x2="713.75" y2="41.80" stroke="#6e6e6e" stroke-width="1"/>
<text x="713.75" y="248.30" font-size="18.4" text-anchor="middle" font-style="normal">30.5</text>
<line x1="786.50" y1="225.50" x2="786.50" y2="221.20" stroke="#6e6e6e" stroke-width="1"/>
<line x1="786.50" y1="37.50" x2="786.50" y2="41.80" stroke="#6e6e6e" stroke-width="1"/>
<text x="786.50" y="248.30" font-size="18.4" text-anchor="middle" font-style="normal">31.0</text>
<line x1="489.50" y1="41.99" x2="492.10" y2="41.99" stroke="#6e6e6e" stroke-width="1"/>
<line x1="792.50" y1="41.99" x2="789.90" y2="41.99" stroke="#6e6e6e" stroke-width="1"/>
<line x1="489.50" y1="49.79" x2="492.10" y2="49.79" stroke="#6e6e6e" stroke-width="1"/>
<line x1="792.50" y1="49.79" x2="789.90" y2="49.79" stroke="#6e6e6e" stroke-width="1"/>
<line x1="489.50" y1="57.59" x2="492.10" y2="57.59" stroke="#6e6e6e" stroke-width="1"/>
<line x1="792.50" y1="57.59" x2="789.90" y2="57.59" stroke="#6e6e6e" stroke-width="1"/>
<line x1="489.50" y1="65.40" x2="492.10" y2="65.40" stroke="#6e6e6e" stroke-width="1"/>
<line x1="792.50" y1="65.40" x2="789.90" y2="65.40" stroke="#6e6e6e" stroke-width="1"/>
<line x1="489.50" y1="73.21" x2="492.10" y2="73.21" stroke="#6e6e6e" stroke-width="1"/>
<line x1="792.50" y1="73.21" x2="789.90" y2="73.21" stroke="#6e6e6e" stroke-width="1"/>
<line x1="489.50" y1="81.01" x2="492.10" y2="81.01" stroke="#6e6e6e" stroke-width="1"/>
<line x1="792.50" y1="81.01" x2="789.90" y2="81.01" stroke="#6e6e6e" stroke-width="1"/>
<line x1="489.50" y1="88.81" x2="492.10" y2="88.81" stroke="#6e6e6e" stroke-width="1"/>
<line x1="792.50" y1="88.81" x2="789.90" y2="88.81" stroke="#6e6e6e" stroke-width="1"/>
<line x1="489.50" y1="96.62" x2="492.10" y2="96.62" stroke="#6e6e6e" stroke-width="1"/>
<line x1="792.50" y1="96.62" x2="789.90" y2="96.62" stroke="#6e6e6e" stroke-width="1"/>
<line x1="489.50" y1="104.43" x2="492.10" y2="104.43" stroke="#6e6e6e" stroke-width="1"/>
<line x1="792.50" y1="104.43" x2="789.90" y2="104.43" stroke="#6e6e6e" stroke-width="1"/>
<line x1="489.50" y1="112.23" x2="492.10" y2="112.23" stroke="#6e6e6e" stroke-width="1"/>
<line x1="792.50" y1="112.23" x2="789.90" y2="112.23" stroke="#6e6e6e" stroke-width="1"/>
<line x1="489.50" y1="120.03" x2="492.10" y2="120.03" stroke="#6e6e6e" stroke-width="1"/>
<line x1="792.50" y1="120.03" x2="789.90" y2="120.03" stroke="#6e6e6e" stroke-width="1"/>
<line x1="489.50" y1="127.84" x2="492.10" y2="127.84" stroke="#6e6e6e" stroke-width="1"/>
<line x1="792.50" y1="127.84" x2="789.90" y2="127.84" stroke="#6e6e6e" stroke-width="1"/>
<line x1="489.50" y1="135.65" x2="492.10" y2="135.65" stroke="#6e6e6e" stroke-width="1"/>
<line x1="792.50" y1="135.65" x2="789.90" y2="135.65" stroke="#6e6e6e" stroke-width="1"/>
<line x1="489.50" y1="143.45" x2="492.10" y2="143.45" stroke="#6e6e6e" stroke-width="1"/>
<line x1="792.50" y1="143.45" x2="789.90" y2="143.45" stroke="#6e6e6e" stroke-width="1"/>
<line x1="489.50" y1="151.25" x2="492.10" y2="151.25" stroke="#6e6e6e" stroke-width="1"/>
<line x1="792.50" y1="151.25" x2="789.90" y2="151.25" stroke="#6e6e6e" stroke-width="1"/>
<line x1="489.50" y1="159.06" x2="492.10" y2="159.06" stroke="#6e6e6e" stroke-width="1"/>
<line x1="792.50" y1="159.06" x2="789.90" y2="159.06" stroke="#6e6e6e" stroke-width="1"/>
<line x1="489.50" y1="166.87" x2="492.10" y2="166.87" stroke="#6e6e6e" stroke-width="1"/>
<line x1="792.50" y1="166.87" x2="789.90" y2="166.87" stroke="#6e6e6e" stroke-width="1"/>
<line x1="489.50" y1="174.67" x2="492.10" y2="174.67" stroke="#6e6e6e" stroke-width="1"/>
<line x1="792.50" y1="174.67" x2="789.90" y2="174.67" stroke="#6e6e6e" stroke-width="1"/>
<line x1="489.50" y1="182.47" x2="492.10" y2="182.47" stroke="#6e6e6e" stroke-width="1"/>
<line x1="792.50" y1="182.47" x2="789.90" y2="182.47" stroke="#6e6e6e" stroke-width="1"/>
<line x1="489.50" y1="190.28" x2="492.10" y2="190.28" stroke="#6e6e6e" stroke-width="1"/>
<line x1="792.50" y1="190.28" x2="789.90" y2="190.28" stroke="#6e6e6e" stroke-width="1"/>
<line x1="489.50" y1="198.09" x2="492.10" y2="198.09" stroke="#6e6e6e" stroke-width="1"/>
<line x1="792.50" y1="198.09" x2="789.90" y2="198.09" stroke="#6e6e6e" stroke-width="1"/>
<line x1="489.50" y1="205.89" x2="492.10" y2="205.89" stroke="#6e6e6e" stroke-width="1"/>
<line x1="792.50" y1="205.89" x2="789.90" y2="205.89" stroke="#6e6e6e" stroke-width="1"/>
<line x1="489.50" y1="213.69" x2="492.10" y2="213.69" stroke="#6e6e6e" stroke-width="1"/>
<line x1="792.50" y1="213.69" x2="789.90" y2="213.69" stroke="#6e6e6e" stroke-width="1"/>
<line x1="489.50" y1="221.50" x2="492.10" y2="221.50" stroke="#6e6e6e" stroke-width="1"/>
<line x1="792.50" y1="221.50" x2="789.90" y2="221.50" stroke="#6e6e6e" stroke-width="1"/>
<line x1="489.50" y1="65.40" x2="493.80" y2="65.40" stroke="#6e6e6e" stroke-width="1"/>
<line x1="792.50" y1="65.40" x2="788.20" y2="65.40" stroke="#6e6e6e" stroke-width="1"/>
<text x="483.80" y="72.10" font-size="18.4" text-anchor="end" font-style="normal">40</text>
<line x1="489.50" y1="96.62" x2="493.80" y2="96.62" stroke="#6e6e6e" stroke-width="1"/>
<line x1="792.50" y1="96.62" x2="788.20" y2="96.62" stroke="#6e6e6e" stroke-width="1"/>
<text x="483.80" y="103.32" font-size="18.4" text-anchor="end" font-style="normal">20</text>
<line x1="489.50" y1="127.84" x2="493.80" y2="127.84" stroke="#6e6e6e" stroke-width="1"/>
<line x1="792.50" y1="127.84" x2="788.20" y2="127.84" stroke="#6e6e6e" stroke-width="1"/>
<text x="483.80" y="134.54" font-size="18.4" text-anchor="end" font-style="normal">0</text>
<line x1="489.50" y1="159.06" x2="493.80" y2="159.06" stroke="#6e6e6e" stroke-width="1"/>
<line x1="792.50" y1="159.06" x2="788.20" y2="159.06" stroke="#6e6e6e" stroke-width="1"/>
<text x="483.80" y="165.76" font-size="18.4" text-anchor="end" font-style="normal">20</text>
<line x1="453.50" y1="160.21" x2="462.90" y2="160.21" stroke="#111" stroke-width="1.2"/>
<line x1="489.50" y1="190.28" x2="493.80" y2="190.28" stroke="#6e6e6e" stroke-width="1"/>
<line x1="792.50" y1="190.28" x2="788.20" y2="190.28" stroke="#6e6e6e" stroke-width="1"/>
<text x="483.80" y="196.98" font-size="18.4" text-anchor="end" font-style="normal">40</text>
<line x1="453.50" y1="191.43" x2="462.90" y2="191.43" stroke="#111" stroke-width="1.2"/>
<line x1="489.50" y1="221.50" x2="493.80" y2="221.50" stroke="#6e6e6e" stroke-width="1"/>
<line x1="792.50" y1="221.50" x2="788.20" y2="221.50" stroke="#6e6e6e" stroke-width="1"/>
<text x="483.80" y="228.20" font-size="18.4" text-anchor="end" font-style="normal">60</text>
<line x1="453.50" y1="222.65" x2="462.90" y2="222.65" stroke="#111" stroke-width="1.2"/>
<rect x="489.5" y="37.5" width="303.0" height="188.0" fill="none" stroke="#6e6e6e" stroke-width="1"/>
<path d="M495.10,147.42 L495.50,147.45 L496.18,147.51 L496.86,147.57 L497.53,147.63 L498.21,147.69 L498.88,147.75 L499.55,147.81 L500.22,147.87 L500.89,147.93 L501.55,147.99 L502.22,148.05 L502.88,148.11 L503.54,148.17 L504.20,148.23 L504.86,148.29 L505.51,148.36 L506.16,148.42 L506.82,148.48 L507.47,148.55 L508.11,148.61 L508.76,148.67 L509.40,148.74 L510.05,148.80 L510.69,148.87 L511.33,148.94 L511.96,149.00 L512.60,149.07 L513.23,149.14 L513.87,149.20 L514.50,149.27 L515.13,149.34 L515.75,149.41 L516.38,149.48 L517.00,149.55 L517.62,149.62 L518.24,149.69 L518.86,149.76 L519.48,149.83 L520.09,149.90 L520.70,149.97 L521.32,150.04 L521.92,150.12 L522.53,150.19 L523.14,150.26 L523.74,150.34 L524.34,150.41 L524.94,150.49 L525.54,150.56 L526.14,150.64 L526.73,150.72 L527.33,150.80 L527.92,150.87 L528.51,150.95 L529.10,151.03 L529.68,151.11 L530.27,151.19 L530.85,151.27 L531.43,151.35 L532.01,151.44 L532.59,151.52 L533.16,151.60 L533.74,151.68 L534.31,151.77 L534.88,151.85 L535.45,151.94 L536.01,152.03 L536.58,152.11 L537.14,152.20 L537.70,152.29 L538.26,152.38 L538.82,152.47 L539.38,152.56 L539.93,152.65 L540.48,152.74 L541.03,152.83 L541.58,152.92 L542.13,153.02 L542.67,153.11 L543.22,153.20 L543.76,153.30 L544.30,153.40 L544.84,153.49 L545.37,153.59 L545.91,153.69 L546.44,153.79 L546.97,153.89 L547.50,153.99 L548.03,154.09 L548.55,154.20 L549.07,154.30 L549.60,154.40 L550.11,154.51 L550.63,154.61 L551.15,154.72 L551.66,154.83 L552.18,154.94 L552.69,155.05 L553.19,155.16 L553.70,155.27 L554.21,155.38 L554.71,155.49 L555.21,155.61 L555.71,155.72 L556.21,155.84 L556.70,155.96 L557.20,156.07 L557.69,156.19 L558.18,156.31 L558.67,156.43 L559.16,156.56 L559.64,156.68 L560.12,156.80 L560.60,156.93 L561.08,157.06 L561.56,157.18 L562.03,157.31 L562.51,157.44 L562.98,157.57 L563.45,157.70 L563.92,157.84 L564.38,157.97 L564.85,158.11 L565.31,158.24 L565.77,158.38 L566.23,158.52 L566.68,158.66 L567.14,158.80 L567.59,158.95 L568.04,159.09 L568.49,159.24 L568.93,159.38 L569.38,159.53 L569.82,159.68 L570.26,159.83 L570.70,159.98 L571.14,160.14 L571.57,160.29 L572.01,160.45 L572.44,160.61 L572.87,160.76 L573.29,160.93 L573.72,161.09 L574.14,161.25 L574.56,161.42 L574.98,161.58 L575.40,161.75 L575.81,161.92 L576.22,162.09 L576.64,162.26 L577.04,162.44 L577.45,162.61 L577.86,162.79 L578.26,162.97 L578.66,163.15 L579.06,163.33 L579.45,163.52 L579.85,163.70 L580.24,163.89 L580.63,164.08 L581.02,164.27 L581.40,164.46 L581.79,164.65 L582.17,164.85 L582.55,165.05 L582.93,165.25 L583.30,165.45 L583.68,165.65 L584.05,165.85 L584.42,166.06 L584.78,166.27 L585.15,166.48 L585.51,166.69 L585.87,166.91 L586.23,167.12 L586.58,167.34 L586.94,167.56 L587.29,167.78 L587.64,168.00 L587.98,168.23 L588.33,168.45 L588.67,168.68 L589.01,168.91 L589.35,169.14 L589.68,169.38 L590.02,169.62 L590.35,169.85 L590.68,170.09 L591.00,170.34 L591.33,170.58 L591.65,170.83 L591.97,171.07 L592.29,171.32 L592.60,171.57 L592.92,171.83 L593.23,172.08 L593.54,172.34 L593.84,172.60 L594.15,172.86 L594.45,173.12 L594.75,173.39 L595.05,173.66 L595.34,173.92 L595.63,174.19 L595.92,174.47 L596.21,174.74 L596.50,175.02 L596.78,175.30 L597.06,175.58 L597.34,175.86 L597.62,176.14 L597.89,176.43 L598.17,176.71 L598.44,177.00 L598.70,177.29 L598.97,177.59 L599.23,177.88 L599.50,178.18 L599.75,178.48 L600.01,178.78 L600.27,179.08 L600.52,179.38 L600.77,179.69 L601.02,179.99 L601.26,180.30 L601.51,180.61 L601.75,180.93 L601.99,181.24 L602.22,181.56 L602.46,181.87 L602.69,182.19 L602.92,182.51 L603.15,182.83 L603.38,183.16 L603.60,183.48 L603.82,183.81 L604.04,184.14 L604.26,184.47 L604.48,184.80 L604.69,185.14 L604.91,185.47 L605.12,185.81 L605.33,186.15 L605.53,186.49 L605.74,186.83 L605.94,187.17 L606.14,187.51 L606.34,187.86 L606.54,188.20 L606.73,188.55 L606.93,188.90 L607.12,189.25 L607.31,189.59 L607.50,189.95 L607.68,190.30 L607.87,190.65 L608.05,191.00 L608.24,191.36 L608.42,191.71 L608.60,192.07 L608.77,192.42 L608.95,192.78 L609.13,193.14 L609.30,193.50 L609.47,193.85 L609.64,194.21 L609.81,194.57 L609.98,194.93 L610.14,195.29 L610.31,195.65 L610.47,196.01 L610.63,196.37 L610.80,196.74 L610.95,197.10 L611.11,197.46 L611.27,197.82 L611.43,198.18 L611.58,198.54 L611.73,198.91 L611.89,199.27 L612.04,199.63 L612.19,199.99 L612.34,200.35 L612.49,200.71 L612.63,201.08 L612.78,201.44 L612.92,201.80 L613.07,202.16 L613.21,202.52 L613.35,202.88 L613.49,203.24 L613.63,203.60 L613.77,203.95 L613.91,204.31 L614.04,204.67 L614.18,205.03 L614.31,205.38 L614.45,205.74 L614.58,206.09 L614.71,206.45 L614.85,206.80 L614.98,207.15 L615.11,207.50 L615.23,207.85 L615.36,208.20 L615.49,208.55 L615.62,208.90 L615.74,209.24 L615.87,209.59 L615.99,209.93 L616.12,210.28 L616.24,210.62 L616.36,210.96 L616.48,211.30 L616.60,211.63 L616.72,211.97 L616.84,212.30 L616.96,212.63 L617.08,212.96 L617.20,213.29 L617.32,213.62 L617.44,213.95 L617.55,214.27 L617.66,214.59 L617.77,214.90 L617.89,215.22 L618.02,215.54 L618.19,215.93 L618.41,216.39 L618.67,216.92 L618.96,217.48 L619.26,218.06 L619.57,218.63 L619.86,219.17 L620.13,219.67 L620.37,220.11 L620.61,220.51 L620.85,220.85 L621.09,221.11 L621.34,221.27 L621.58,221.29 L621.84,221.20 L622.10,221.00 L622.37,220.74 L622.63,220.42 L622.88,220.09 L623.13,219.75 L623.36,219.39 L623.57,219.02 L623.77,218.61 L623.96,218.15 L624.13,217.64 L624.29,217.07 L624.43,216.46 L624.57,215.82 L624.71,215.14 L624.84,214.43 L624.97,213.69 L625.09,212.92 L625.21,212.12 L625.32,211.30 L625.43,210.45 L625.54,209.57 L625.65,208.67 L625.76,207.77 L625.87,206.85 L625.99,205.93 L626.10,205.00 L626.21,204.06 L626.32,203.11 L626.43,202.16 L626.53,201.19 L626.63,200.21 L626.72,199.21 L626.81,198.21 L626.89,197.19 L626.96,196.16 L627.02,195.11 L627.07,194.03 L627.13,192.94 L627.18,191.82 L627.24,190.69 L627.30,189.54 L627.35,188.39 L627.41,187.23 L627.46,186.08 L627.52,184.93 L627.57,183.79 L627.63,182.67 L627.68,181.56 L627.74,180.48 L627.79,179.43 L627.85,178.41 L627.90,177.42 L627.96,176.45 L628.02,175.48 L628.08,174.51 L628.14,173.54 L628.20,172.58 L628.25,171.61 L628.31,170.65 L628.37,169.68 L628.43,168.71 L628.49,167.75 L628.54,166.78 L628.59,165.82 L628.65,164.85 L628.70,163.88 L628.74,162.92 L628.79,161.95 L628.83,160.98 L628.88,160.01 L628.92,159.04 L628.96,158.07 L629.00,157.10 L629.04,156.13 L629.08,155.16 L629.12,154.19 L629.17,153.22 L629.21,152.24 L629.25,151.27 L629.29,150.30 L629.33,149.28 L629.37,148.14 L629.41,146.87 L629.45,145.48 L629.49,143.98 L629.54,142.39 L629.58,140.72 L629.62,138.98 L629.66,137.17 L629.70,135.32 L629.74,133.43 L629.78,131.52 L629.82,129.60 L629.86,127.67 L629.91,125.75 L629.95,123.85 L629.99,121.99 L630.03,120.16 L630.07,118.40 L630.11,116.70 L630.16,115.08 L630.20,113.55 L630.24,112.12 L630.28,110.80 L630.33,109.59 L630.37,108.39 L630.42,107.19 L630.48,106.00 L630.54,104.82 L630.60,103.64 L630.66,102.47 L630.72,101.31 L630.79,100.15 L630.85,99.00 L630.92,97.87 L630.98,96.74 L631.05,95.62 L631.11,94.50 L631.17,93.41 L631.23,92.32 L631.29,91.24 L631.34,90.17 L631.40,89.10 L631.45,88.03 L631.50,86.96 L631.55,85.89 L631.60,84.82 L631.65,83.76 L631.70,82.69 L631.75,81.63 L631.80,80.56 L631.85,79.50 L631.90,78.45 L631.95,77.40 L632.00,76.35 L632.06,75.30 L632.11,74.26 L632.17,73.23 L632.23,72.19 L632.29,71.17 L632.35,70.15 L632.41,69.13 L632.48,68.11 L632.55,67.10 L632.62,66.09 L632.69,65.08 L632.76,64.07 L632.83,63.07 L632.90,62.06 L632.98,61.06 L633.05,60.05 L633.13,59.05 L633.21,58.06 L633.29,57.07 L633.38,56.10 L633.47,55.14 L633.56,54.20 L633.66,53.27 L633.76,52.35 L633.86,51.44 L633.96,50.55 L634.06,49.67 L634.17,48.81 L634.28,47.96 L634.38,47.13 L634.49,46.34 L634.60,45.65 L634.71,45.04 L634.83,44.49 L634.96,43.99 L635.10,43.53 L635.26,43.10 L635.43,42.67 L635.62,42.24 L635.81,41.83 L636.02,41.49 L636.23,41.26 L636.44,41.19 L636.65,41.28 L636.87,41.48 L637.10,41.76 L637.32,42.09 L637.52,42.45 L637.71,42.83 L637.88,43.21 L638.02,43.61 L638.16,44.03 L638.29,44.48 L638.42,44.96 L638.57,45.49 L638.73,46.09 L638.91,46.80 L639.09,47.60 L639.28,48.45 L639.47,49.35 L639.66,50.27 L639.85,51.18 L640.02,52.07 L640.19,52.91 L640.35,53.68 L640.48,54.35 L640.60,54.91 L640.70,55.40 L640.79,55.89 L640.88,56.38 L640.96,56.87 L641.04,57.35 L641.12,57.84 L641.21,58.32 L641.31,58.80 L641.40,59.28 L641.49,59.76 L641.58,60.24 L641.68,60.72 L641.77,61.19 L641.87,61.67 L641.96,62.14 L642.06,62.62 L642.16,63.09 L642.26,63.56 L642.36,64.03 L642.46,64.50 L642.57,64.96 L642.67,65.43 L642.78,65.89 L642.88,66.36 L642.99,66.82 L643.10,67.28 L643.21,67.74 L643.32,68.19 L643.43,68.65 L643.54,69.10 L643.65,69.56 L643.77,70.01 L643.88,70.46 L644.00,70.91 L644.12,71.36 L644.24,71.81 L644.36,72.25 L644.48,72.69 L644.60,73.14 L644.73,73.58 L644.86,74.02 L644.98,74.45 L645.11,74.89 L645.24,75.33 L645.37,75.76 L645.50,76.19 L645.64,76.62 L645.77,77.05 L645.91,77.48 L646.05,77.90 L646.19,78.33 L646.33,78.75 L646.47,79.17 L646.61,79.59 L646.76,80.01 L646.91,80.42 L647.06,80.84 L647.21,81.25 L647.36,81.66 L647.51,82.07 L647.67,82.48 L647.82,82.88 L647.98,83.28 L648.14,83.69 L648.30,84.09 L648.47,84.48 L648.63,84.88 L648.80,85.27 L648.97,85.67 L649.14,86.06 L649.32,86.44 L649.49,86.83 L649.67,87.21 L649.85,87.60 L650.03,87.98 L650.21,88.36 L650.40,88.73 L650.58,89.10 L650.77,89.48 L650.96,89.85 L651.16,90.21 L651.35,90.58 L651.55,90.94 L651.75,91.30 L651.95,91.66 L652.16,92.02 L652.36,92.37 L652.57,92.72 L652.78,93.07 L653.00,93.41 L653.21,93.76 L653.43,94.10 L653.65,94.44 L653.88,94.77 L654.10,95.11 L654.33,95.44 L654.56,95.76 L654.79,96.09 L655.03,96.41 L655.27,96.73 L655.51,97.05 L655.75,97.36 L656.00,97.67 L656.25,97.98 L656.50,98.29 L656.75,98.59 L657.01,98.89 L657.27,99.19 L657.53,99.48 L657.80,99.78 L658.06,100.07 L658.33,100.35 L658.61,100.64 L658.88,100.92 L659.16,101.19 L659.44,101.47 L659.72,101.74 L660.01,102.01 L660.30,102.28 L660.59,102.54 L660.88,102.80 L661.18,103.06 L661.48,103.32 L661.78,103.57 L662.08,103.82 L662.39,104.07 L662.70,104.32 L663.01,104.56 L663.33,104.80 L663.64,105.04 L663.96,105.27 L664.28,105.51 L664.61,105.74 L664.93,105.97 L665.26,106.19 L665.60,106.41 L665.93,106.63 L666.27,106.85 L666.60,107.07 L666.95,107.28 L667.29,107.49 L667.64,107.70 L667.98,107.91 L668.34,108.11 L668.69,108.31 L669.04,108.51 L669.40,108.71 L669.76,108.91 L670.12,109.10 L670.49,109.30 L670.86,109.49 L671.23,109.67 L671.60,109.86 L671.97,110.04 L672.35,110.23 L672.72,110.41 L673.10,110.59 L673.49,110.76 L673.87,110.94 L674.26,111.11 L674.65,111.29 L675.04,111.46 L675.43,111.63 L675.83,111.79 L676.22,111.96 L676.62,112.13 L677.02,112.29 L677.43,112.45 L677.83,112.61 L678.24,112.77 L678.65,112.93 L679.06,113.09 L679.48,113.24 L679.89,113.40 L680.31,113.55 L680.73,113.70 L681.15,113.85 L681.57,114.00 L682.00,114.15 L682.43,114.30 L682.86,114.45 L683.29,114.59 L683.72,114.74 L684.16,114.88 L684.60,115.02 L685.04,115.16 L685.48,115.30 L685.92,115.44 L686.37,115.58 L686.82,115.72 L687.26,115.85 L687.72,115.99 L688.17,116.12 L688.63,116.26 L689.08,116.39 L689.54,116.52 L690.00,116.65 L690.47,116.78 L690.93,116.91 L691.40,117.03 L691.87,117.16 L692.34,117.28 L692.81,117.41 L693.29,117.53 L693.76,117.65 L694.24,117.78 L694.72,117.90 L695.21,118.02 L695.69,118.13 L696.18,118.25 L696.67,118.37 L697.16,118.49 L697.65,118.60 L698.14,118.72 L698.64,118.83 L699.14,118.94 L699.64,119.05 L700.14,119.17 L700.64,119.28 L701.15,119.39 L701.65,119.49 L702.16,119.60 L702.67,119.71 L703.19,119.82 L703.70,119.92 L704.22,120.03 L704.74,120.13 L705.26,120.23 L705.78,120.34 L706.31,120.44 L706.83,120.54 L707.36,120.64 L707.89,120.74 L708.42,120.84 L708.96,120.94 L709.49,121.03 L710.03,121.13 L710.57,121.23 L711.11,121.32 L711.66,121.42 L712.20,121.51 L712.75,121.60 L713.30,121.69 L713.85,121.79 L714.40,121.88 L714.96,121.97 L715.51,122.06 L716.07,122.15 L716.63,122.24 L717.19,122.32 L717.76,122.41 L718.32,122.50 L718.89,122.58 L719.46,122.67 L720.03,122.75 L720.61,122.84 L721.18,122.92 L721.76,123.00 L722.34,123.09 L722.92,123.17 L723.50,123.25 L724.08,123.33 L724.67,123.41 L725.26,123.49 L725.85,123.57 L726.44,123.65 L727.03,123.72 L727.63,123.80 L728.23,123.88 L728.83,123.95 L729.43,124.03 L730.03,124.11 L730.64,124.18 L731.24,124.25 L731.85,124.33 L732.46,124.40 L733.07,124.47 L733.69,124.54 L734.30,124.62 L734.92,124.69 L735.54,124.76 L736.16,124.83 L736.79,124.90 L737.41,124.97 L738.04,125.03 L738.67,125.10 L739.30,125.17 L739.93,125.24 L740.57,125.30 L741.20,125.37 L741.84,125.43 L742.48,125.50 L743.12,125.56 L743.77,125.63 L744.41,125.69 L745.06,125.75 L745.71,125.82 L746.36,125.88 L747.01,125.94 L747.67,126.00 L748.32,126.06 L748.98,126.13 L749.64,126.19 L750.30,126.25 L750.97,126.30 L751.63,126.36 L752.30,126.42 L752.97,126.48 L753.64,126.54 L754.31,126.60 L754.99,126.65 L755.67,126.71 L756.34,126.76 L757.03,126.82 L757.71,126.88 L758.39,126.93 L759.08,126.99 L759.77,127.04 L760.46,127.09 L761.15,127.15 L761.84,127.20 L762.53,127.25 L763.23,127.30 L763.93,127.36 L764.63,127.41 L765.33,127.46 L766.04,127.51 L766.74,127.56 L767.45,127.61 L768.16,127.66 L768.87,127.71 L769.59,127.76 L770.30,127.81 L771.02,127.86 L771.74,127.90 L772.46,127.95 L773.18,128.00 L773.91,128.05 L774.63,128.09 L775.36,128.14 L776.09,128.18 L776.82,128.23 L777.55,128.28 L778.29,128.32 L779.03,128.37 L779.77,128.41 L780.51,128.45 L781.25,128.50 L781.99,128.54 L782.74,128.58 L783.49,128.63 L784.24,128.67 L784.99,128.71 L785.74,128.75 L786.50,128.80 L787.10,128.83" fill="none" stroke="#ff0000" stroke-width="1.7" stroke-linejoin="round" stroke-linecap="butt" stroke-dasharray="9.1 6.06"/>
<path d="M495.10,145.68 L495.50,145.70 L496.28,145.73 L497.05,145.76 L497.82,145.79 L498.59,145.82 L499.36,145.85 L500.12,145.89 L500.88,145.92 L501.64,145.95 L502.40,145.99 L503.16,146.03 L503.91,146.06 L504.66,146.10 L505.41,146.14 L506.16,146.18 L506.90,146.21 L507.64,146.25 L508.38,146.29 L509.12,146.34 L509.86,146.38 L510.59,146.42 L511.32,146.46 L512.05,146.51 L512.77,146.55 L513.50,146.60 L514.22,146.64 L514.94,146.69 L515.65,146.74 L516.37,146.79 L517.08,146.84 L517.79,146.89 L518.50,146.94 L519.20,146.99 L519.91,147.04 L520.61,147.09 L521.30,147.15 L522.00,147.20 L522.69,147.26 L523.39,147.31 L524.08,147.37 L524.76,147.43 L525.45,147.48 L526.13,147.54 L526.81,147.60 L527.49,147.66 L528.16,147.73 L528.84,147.79 L529.51,147.85 L530.18,147.92 L530.84,147.98 L531.51,148.05 L532.17,148.11 L532.83,148.18 L533.48,148.25 L534.14,148.32 L534.79,148.39 L535.44,148.46 L536.09,148.53 L536.73,148.60 L537.38,148.68 L538.02,148.75 L538.66,148.83 L539.29,148.90 L539.93,148.98 L540.56,149.06 L541.19,149.14 L541.81,149.22 L542.44,149.30 L543.06,149.38 L543.68,149.46 L544.30,149.55 L544.91,149.63 L545.53,149.72 L546.14,149.80 L546.75,149.89 L547.35,149.98 L547.95,150.07 L548.56,150.16 L549.15,150.25 L549.75,150.35 L550.35,150.44 L550.94,150.54 L551.53,150.63 L552.11,150.73 L552.70,150.83 L553.28,150.93 L553.86,151.03 L554.44,151.13 L555.01,151.23 L555.59,151.33 L556.16,151.44 L556.73,151.54 L557.29,151.65 L557.86,151.76 L558.42,151.87 L558.98,151.98 L559.53,152.09 L560.09,152.20 L560.64,152.32 L561.19,152.43 L561.74,152.55 L562.28,152.66 L562.82,152.78 L563.36,152.90 L563.90,153.02 L564.43,153.14 L564.97,153.27 L565.50,153.39 L566.02,153.52 L566.55,153.64 L567.07,153.77 L567.59,153.90 L568.11,154.03 L568.63,154.17 L569.14,154.30 L569.65,154.43 L570.16,154.57 L570.67,154.71 L571.17,154.84 L571.67,154.98 L572.17,155.13 L572.67,155.27 L573.16,155.41 L573.65,155.56 L574.14,155.70 L574.63,155.85 L575.11,156.00 L575.59,156.15 L576.07,156.30 L576.55,156.46 L577.02,156.61 L577.49,156.77 L577.96,156.93 L578.43,157.08 L578.89,157.25 L579.35,157.41 L579.81,157.57 L580.27,157.74 L580.72,157.90 L581.18,158.07 L581.62,158.24 L582.07,158.41 L582.52,158.58 L582.96,158.75 L583.40,158.93 L583.83,159.11 L584.27,159.28 L584.70,159.46 L585.13,159.65 L585.55,159.83 L585.98,160.01 L586.40,160.20 L586.82,160.39 L587.23,160.57 L587.65,160.76 L588.06,160.96 L588.47,161.15 L588.87,161.34 L589.27,161.54 L589.67,161.74 L590.07,161.94 L590.47,162.14 L590.86,162.34 L591.25,162.55 L591.64,162.75 L592.02,162.96 L592.41,163.17 L592.79,163.38 L593.16,163.59 L593.54,163.80 L593.91,164.02 L594.28,164.24 L594.64,164.45 L595.01,164.67 L595.37,164.90 L595.73,165.12 L596.08,165.34 L596.44,165.57 L596.79,165.80 L597.14,166.03 L597.48,166.26 L597.83,166.49 L598.17,166.72 L598.50,166.96 L598.84,167.19 L599.17,167.43 L599.50,167.67 L599.83,167.91 L600.15,168.16 L600.47,168.40 L600.79,168.65 L601.11,168.89 L601.42,169.14 L601.73,169.39 L602.04,169.64 L602.35,169.90 L602.65,170.15 L602.95,170.41 L603.25,170.67 L603.54,170.92 L603.84,171.19 L604.13,171.45 L604.41,171.71 L604.70,171.97 L604.98,172.24 L605.26,172.51 L605.54,172.78 L605.81,173.04 L606.08,173.32 L606.35,173.59 L606.62,173.86 L606.88,174.14 L607.15,174.41 L607.41,174.69 L607.66,174.97 L607.92,175.25 L608.17,175.53 L608.42,175.81 L608.66,176.09 L608.91,176.38 L609.15,176.66 L609.39,176.95 L609.63,177.24 L609.86,177.53 L610.09,177.82 L610.32,178.11 L610.55,178.40 L610.77,178.69 L611.00,178.99 L611.22,179.28 L611.43,179.58 L611.65,179.87 L611.86,180.17 L612.07,180.47 L612.28,180.77 L612.49,181.07 L612.69,181.37 L612.90,181.67 L613.10,181.98 L613.29,182.28 L613.49,182.58 L613.68,182.89 L613.87,183.19 L614.06,183.50 L614.25,183.81 L614.43,184.12 L614.62,184.43 L614.80,184.74 L614.97,185.05 L615.15,185.36 L615.33,185.67 L615.50,185.98 L615.67,186.29 L615.84,186.61 L616.00,186.92 L616.17,187.23 L616.33,187.55 L616.49,187.87 L616.65,188.18 L616.81,188.50 L616.96,188.81 L617.12,189.13 L617.27,189.45 L617.42,189.77 L617.57,190.09 L617.71,190.41 L617.86,190.73 L618.00,191.04 L618.14,191.37 L618.28,191.69 L618.42,192.01 L618.56,192.33 L618.69,192.65 L618.83,192.97 L618.96,193.29 L619.09,193.61 L619.22,193.94 L619.34,194.26 L619.47,194.58 L619.59,194.91 L619.70,195.23 L619.80,195.55 L619.91,195.88 L620.06,196.20 L620.26,196.56 L620.52,197.02 L620.82,197.56 L621.14,198.15 L621.49,198.75 L621.84,199.33 L622.18,199.87 L622.50,200.34 L622.82,200.72 L623.14,201.00 L623.46,201.17 L623.78,201.22 L624.10,201.13 L624.41,200.92 L624.70,200.59 L624.99,200.16 L625.26,199.63 L625.51,199.03 L625.75,198.38 L625.96,197.73 L626.15,197.06 L626.32,196.38 L626.47,195.67 L626.60,194.92 L626.72,194.12 L626.83,193.26 L626.92,192.33 L627.00,191.31 L627.07,190.25 L627.15,189.19 L627.21,188.13 L627.28,187.07 L627.34,186.00 L627.41,184.94 L627.47,183.87 L627.54,182.81 L627.60,181.75 L627.67,180.68 L627.74,179.62 L627.82,178.56 L627.90,177.50 L627.98,176.45 L628.07,175.39 L628.16,174.33 L628.24,173.27 L628.33,172.21 L628.42,171.16 L628.50,170.10 L628.59,169.04 L628.68,167.98 L628.76,166.93 L628.84,165.87 L628.92,164.81 L629.00,163.75 L629.08,162.69 L629.16,161.64 L629.24,160.58 L629.31,159.52 L629.39,158.46 L629.47,157.39 L629.54,156.33 L629.62,155.27 L629.70,154.21 L629.77,153.14 L629.85,152.08 L629.93,151.01 L630.00,149.95 L630.08,148.78 L630.16,147.45 L630.24,145.98 L630.31,144.37 L630.39,142.65 L630.47,140.82 L630.54,138.92 L630.62,136.95 L630.70,134.94 L630.78,132.90 L630.86,130.84 L630.94,128.79 L631.02,126.75 L631.10,124.76 L631.18,122.81 L631.26,120.94 L631.34,119.16 L631.43,117.48 L631.51,115.93 L631.59,114.51 L631.68,113.25 L631.77,112.11 L631.87,111.00 L631.97,109.92 L632.08,108.86 L632.19,107.83 L632.31,106.81 L632.43,105.82 L632.55,104.84 L632.67,103.88 L632.79,102.94 L632.92,102.01 L633.03,101.10 L633.15,100.20 L633.27,99.29 L633.39,98.39 L633.51,97.49 L633.63,96.60 L633.76,95.72 L633.88,94.87 L634.01,94.03 L634.14,93.23 L634.27,92.46 L634.40,91.72 L634.53,91.06 L634.69,90.48 L634.86,89.98 L635.05,89.53 L635.26,89.13 L635.50,88.75 L635.76,88.38 L636.03,88.05 L636.30,87.79 L636.58,87.63 L636.87,87.61 L637.16,87.71 L637.45,87.89 L637.74,88.13 L638.01,88.41 L638.26,88.72 L638.51,89.04 L638.75,89.39 L638.99,89.76 L639.24,90.18 L639.49,90.67 L639.74,91.26 L640.01,91.93 L640.27,92.63 L640.53,93.33 L640.79,93.98 L641.03,94.56 L641.25,95.01 L641.45,95.35 L641.60,95.69 L641.73,96.02 L641.86,96.35 L642.01,96.68 L642.16,97.01 L642.32,97.33 L642.48,97.66 L642.63,97.98 L642.80,98.30 L642.96,98.62 L643.13,98.94 L643.30,99.26 L643.47,99.57 L643.64,99.88 L643.82,100.19 L644.00,100.50 L644.18,100.81 L644.36,101.11 L644.55,101.41 L644.74,101.72 L644.93,102.01 L645.12,102.31 L645.32,102.60 L645.51,102.90 L645.71,103.19 L645.92,103.47 L646.12,103.76 L646.33,104.04 L646.54,104.33 L646.76,104.61 L646.97,104.88 L647.19,105.16 L647.41,105.43 L647.64,105.70 L647.87,105.97 L648.10,106.24 L648.33,106.50 L648.56,106.76 L648.80,107.02 L649.04,107.28 L649.29,107.54 L649.53,107.79 L649.78,108.04 L650.03,108.29 L650.29,108.54 L650.55,108.78 L650.81,109.02 L651.07,109.26 L651.34,109.50 L651.60,109.73 L651.88,109.96 L652.15,110.19 L652.43,110.42 L652.71,110.65 L652.99,110.87 L653.27,111.09 L653.56,111.31 L653.85,111.53 L654.15,111.74 L654.44,111.95 L654.74,112.16 L655.04,112.37 L655.35,112.57 L655.65,112.78 L655.96,112.98 L656.28,113.18 L656.59,113.37 L656.91,113.57 L657.23,113.76 L657.55,113.95 L657.88,114.14 L658.21,114.32 L658.54,114.50 L658.87,114.69 L659.21,114.87 L659.55,115.04 L659.89,115.22 L660.23,115.39 L660.58,115.56 L660.93,115.73 L661.28,115.90 L661.63,116.07 L661.99,116.23 L662.35,116.39 L662.71,116.55 L663.07,116.71 L663.44,116.86 L663.81,117.02 L664.18,117.17 L664.56,117.32 L664.93,117.47 L665.31,117.62 L665.69,117.76 L666.08,117.91 L666.46,118.05 L666.85,118.19 L667.24,118.33 L667.63,118.47 L668.03,118.60 L668.43,118.74 L668.83,118.87 L669.23,119.00 L669.64,119.13 L670.04,119.26 L670.45,119.39 L670.87,119.51 L671.28,119.64 L671.70,119.76 L672.12,119.88 L672.54,120.00 L672.96,120.12 L673.39,120.24 L673.82,120.36 L674.25,120.47 L674.68,120.58 L675.12,120.70 L675.55,120.81 L675.99,120.92 L676.43,121.03 L676.88,121.13 L677.33,121.24 L677.77,121.35 L678.23,121.45 L678.68,121.55 L679.13,121.66 L679.59,121.76 L680.05,121.86 L680.52,121.96 L680.98,122.05 L681.45,122.15 L681.92,122.25 L682.39,122.34 L682.86,122.43 L683.34,122.53 L683.81,122.62 L684.29,122.71 L684.78,122.80 L685.26,122.89 L685.75,122.98 L686.24,123.07 L686.73,123.15 L687.22,123.24 L687.72,123.32 L688.22,123.41 L688.72,123.49 L689.22,123.58 L689.72,123.66 L690.23,123.74 L690.74,123.82 L691.25,123.90 L691.76,123.98 L692.28,124.06 L692.80,124.13 L693.32,124.21 L693.84,124.29 L694.36,124.36 L694.89,124.44 L695.42,124.51 L695.95,124.58 L696.48,124.66 L697.01,124.73 L697.55,124.80 L698.09,124.87 L698.63,124.94 L699.18,125.01 L699.72,125.08 L700.27,125.15 L700.82,125.22 L701.37,125.29 L701.93,125.35 L702.48,125.42 L703.04,125.49 L703.60,125.55 L704.17,125.62 L704.73,125.68 L705.30,125.74 L705.87,125.81 L706.44,125.87 L707.02,125.93 L707.59,125.99 L708.17,126.06 L708.75,126.12 L709.33,126.18 L709.92,126.24 L710.50,126.30 L711.09,126.36 L711.68,126.42 L712.28,126.47 L712.87,126.53 L713.47,126.59 L714.07,126.65 L714.67,126.70 L715.28,126.76 L715.88,126.82 L716.49,126.87 L717.10,126.93 L717.71,126.98 L718.33,127.04 L718.95,127.09 L719.57,127.14 L720.19,127.20 L720.81,127.25 L721.44,127.30 L722.06,127.36 L722.69,127.41 L723.33,127.46 L723.96,127.51 L724.60,127.56 L725.23,127.61 L725.88,127.66 L726.52,127.71 L727.16,127.76 L727.81,127.81 L728.46,127.86 L729.11,127.91 L729.76,127.96 L730.42,128.01 L731.08,128.06 L731.74,128.11 L732.40,128.15 L733.06,128.20 L733.73,128.25 L734.40,128.30 L735.07,128.34 L735.74,128.39 L736.42,128.44 L737.09,128.48 L737.77,128.53 L738.45,128.57 L739.14,128.62 L739.82,128.66 L740.51,128.71 L741.20,128.75 L741.89,128.80 L742.59,128.84 L743.28,128.89 L743.98,128.93 L744.68,128.98 L745.38,129.02 L746.09,129.06 L746.80,129.11 L747.51,129.15 L748.22,129.19 L748.93,129.23 L749.65,129.28 L750.36,129.32 L751.08,129.36 L751.80,129.40 L752.53,129.44 L753.25,129.49 L753.98,129.53 L754.71,129.57 L755.45,129.61 L756.18,129.65 L756.92,129.69 L757.66,129.73 L758.40,129.77 L759.14,129.81 L759.89,129.85 L760.63,129.89 L761.38,129.93 L762.14,129.97 L762.89,130.01 L763.65,130.05 L764.40,130.09 L765.16,130.13 L765.93,130.17 L766.69,130.21 L767.46,130.25 L768.23,130.29 L769.00,130.33 L769.77,130.36 L770.55,130.40 L771.32,130.44 L772.10,130.48 L772.88,130.52 L773.67,130.55 L774.45,130.59 L775.24,130.63 L776.03,130.67 L776.83,130.71 L777.62,130.74 L778.42,130.78 L779.22,130.82 L780.02,130.85 L780.82,130.89 L781.62,130.93 L782.43,130.97 L783.24,131.00 L784.05,131.04 L784.87,131.08 L785.68,131.11 L786.50,131.15 L787.10,131.18" fill="none" stroke="#0000ff" stroke-width="1.8" stroke-linejoin="round" stroke-linecap="butt"/>
<text x="639.20" y="19.60" font-size="24.6" text-anchor="middle" font-style="normal">axial–vector coupling</text>
<path d="M601.70,279.10 L604.80,277.30" fill="none" stroke="#111" stroke-width="1.0"/>
<path d="M604.00,277.90 L605.90,277.00 L609.40,285.60 L608.80,287.90 L608.20,287.90 Z" fill="#111" stroke="none"/>
<path d="M608.70,287.80 L613.90,268.55 L630.80,268.55" fill="none" stroke="#111" stroke-width="1.05" stroke-linejoin="miter"/>
<text x="617.50" y="285.70" font-size="18" text-anchor="start" font-style="italic">s</text>
<text x="636.10" y="285.30" font-size="18" text-anchor="start" font-style="normal">(GeV)</text>
<text transform="translate(436.5,130.9) rotate(-90)" font-size="18" text-anchor="middle">FBA (%)</text>
<text x="654.90" y="210.00" font-size="18" text-anchor="start" font-style="italic">c</text>
<text x="663.35" y="214.00" font-size="13" text-anchor="start" font-style="italic">V</text>
<line x1="673.20" y1="203.20" x2="683.40" y2="203.20" stroke="#111" stroke-width="1.15"/>
<line x1="673.20" y1="207.10" x2="683.40" y2="207.10" stroke="#111" stroke-width="1.15"/>
<text x="684.50" y="210.00" font-size="18.4" text-anchor="start" font-style="normal">0,</text>
<text x="702.90" y="210.00" font-size="18" text-anchor="start" font-style="italic">c</text>
<text x="711.65" y="214.00" font-size="13" text-anchor="start" font-style="italic">A</text>
<line x1="721.20" y1="203.20" x2="731.40" y2="203.20" stroke="#111" stroke-width="1.15"/>
<line x1="721.20" y1="207.10" x2="731.40" y2="207.10" stroke="#111" stroke-width="1.15"/>
<text x="732.00" y="210.00" font-size="18.4" text-anchor="start" font-style="normal">0.026</text>
<clipPath id="clip3"><rect x="93.5" y="325.0" width="287.8" height="177.5"/></clipPath>
<line x1="99.50" y1="502.50" x2="99.50" y2="499.90" stroke="#6e6e6e" stroke-width="1"/>
<line x1="99.50" y1="325.00" x2="99.50" y2="327.60" stroke="#6e6e6e" stroke-width="1"/>
<line x1="108.70" y1="502.50" x2="108.70" y2="499.90" stroke="#6e6e6e" stroke-width="1"/>
<line x1="108.70" y1="325.00" x2="108.70" y2="327.60" stroke="#6e6e6e" stroke-width="1"/>
<line x1="117.90" y1="502.50" x2="117.90" y2="499.90" stroke="#6e6e6e" stroke-width="1"/>
<line x1="117.90" y1="325.00" x2="117.90" y2="327.60" stroke="#6e6e6e" stroke-width="1"/>
<line x1="127.10" y1="502.50" x2="127.10" y2="499.90" stroke="#6e6e6e" stroke-width="1"/>
<line x1="127.10" y1="325.00" x2="127.10" y2="327.60" stroke="#6e6e6e" stroke-width="1"/>
<line x1="136.30" y1="502.50" x2="136.30" y2="499.90" stroke="#6e6e6e" stroke-width="1"/>
<line x1="136.30" y1="325.00" x2="136.30" y2="327.60" stroke="#6e6e6e" stroke-width="1"/>
<line x1="145.50" y1="502.50" x2="145.50" y2="499.90" stroke="#6e6e6e" stroke-width="1"/>
<line x1="145.50" y1="325.00" x2="145.50" y2="327.60" stroke="#6e6e6e" stroke-width="1"/>
<line x1="154.70" y1="502.50" x2="154.70" y2="499.90" stroke="#6e6e6e" stroke-width="1"/>
<line x1="154.70" y1="325.00" x2="154.70" y2="327.60" stroke="#6e6e6e" stroke-width="1"/>
<line x1="163.90" y1="502.50" x2="163.90" y2="499.90" stroke="#6e6e6e" stroke-width="1"/>
<line x1="163.90" y1="325.00" x2="163.90" y2="327.60" stroke="#6e6e6e" stroke-width="1"/>
<line x1="173.10" y1="502.50" x2="173.10" y2="499.90" stroke="#6e6e6e" stroke-width="1"/>
<line x1="173.10" y1="325.00" x2="173.10" y2="327.60" stroke="#6e6e6e" stroke-width="1"/>
<line x1="182.30" y1="502.50" x2="182.30" y2="499.90" stroke="#6e6e6e" stroke-width="1"/>
<line x1="182.30" y1="325.00" x2="182.30" y2="327.60" stroke="#6e6e6e" stroke-width="1"/>
<line x1="191.50" y1="502.50" x2="191.50" y2="499.90" stroke="#6e6e6e" stroke-width="1"/>
<line x1="191.50" y1="325.00" x2="191.50" y2="327.60" stroke="#6e6e6e" stroke-width="1"/>
<line x1="200.70" y1="502.50" x2="200.70" y2="499.90" stroke="#6e6e6e" stroke-width="1"/>
<line x1="200.70" y1="325.00" x2="200.70" y2="327.60" stroke="#6e6e6e" stroke-width="1"/>
<line x1="209.90" y1="502.50" x2="209.90" y2="499.90" stroke="#6e6e6e" stroke-width="1"/>
<line x1="209.90" y1="325.00" x2="209.90" y2="327.60" stroke="#6e6e6e" stroke-width="1"/>
<line x1="219.10" y1="502.50" x2="219.10" y2="499.90" stroke="#6e6e6e" stroke-width="1"/>
<line x1="219.10" y1="325.00" x2="219.10" y2="327.60" stroke="#6e6e6e" stroke-width="1"/>
<line x1="228.30" y1="502.50" x2="228.30" y2="499.90" stroke="#6e6e6e" stroke-width="1"/>
<line x1="228.30" y1="325.00" x2="228.30" y2="327.60" stroke="#6e6e6e" stroke-width="1"/>
<line x1="237.50" y1="502.50" x2="237.50" y2="499.90" stroke="#6e6e6e" stroke-width="1"/>
<line x1="237.50" y1="325.00" x2="237.50" y2="327.60" stroke="#6e6e6e" stroke-width="1"/>
<line x1="246.70" y1="502.50" x2="246.70" y2="499.90" stroke="#6e6e6e" stroke-width="1"/>
<line x1="246.70" y1="325.00" x2="246.70" y2="327.60" stroke="#6e6e6e" stroke-width="1"/>
<line x1="255.90" y1="502.50" x2="255.90" y2="499.90" stroke="#6e6e6e" stroke-width="1"/>
<line x1="255.90" y1="325.00" x2="255.90" y2="327.60" stroke="#6e6e6e" stroke-width="1"/>
<line x1="265.10" y1="502.50" x2="265.10" y2="499.90" stroke="#6e6e6e" stroke-width="1"/>
<line x1="265.10" y1="325.00" x2="265.10" y2="327.60" stroke="#6e6e6e" stroke-width="1"/>
<line x1="274.30" y1="502.50" x2="274.30" y2="499.90" stroke="#6e6e6e" stroke-width="1"/>
<line x1="274.30" y1="325.00" x2="274.30" y2="327.60" stroke="#6e6e6e" stroke-width="1"/>
<line x1="283.50" y1="502.50" x2="283.50" y2="499.90" stroke="#6e6e6e" stroke-width="1"/>
<line x1="283.50" y1="325.00" x2="283.50" y2="327.60" stroke="#6e6e6e" stroke-width="1"/>
<line x1="292.70" y1="502.50" x2="292.70" y2="499.90" stroke="#6e6e6e" stroke-width="1"/>
<line x1="292.70" y1="325.00" x2="292.70" y2="327.60" stroke="#6e6e6e" stroke-width="1"/>
<line x1="301.90" y1="502.50" x2="301.90" y2="499.90" stroke="#6e6e6e" stroke-width="1"/>
<line x1="301.90" y1="325.00" x2="301.90" y2="327.60" stroke="#6e6e6e" stroke-width="1"/>
<line x1="311.10" y1="502.50" x2="311.10" y2="499.90" stroke="#6e6e6e" stroke-width="1"/>
<line x1="311.10" y1="325.00" x2="311.10" y2="327.60" stroke="#6e6e6e" stroke-width="1"/>
<line x1="320.30" y1="502.50" x2="320.30" y2="499.90" stroke="#6e6e6e" stroke-width="1"/>
<line x1="320.30" y1="325.00" x2="320.30" y2="327.60" stroke="#6e6e6e" stroke-width="1"/>
<line x1="329.50" y1="502.50" x2="329.50" y2="499.90" stroke="#6e6e6e" stroke-width="1"/>
<line x1="329.50" y1="325.00" x2="329.50" y2="327.60" stroke="#6e6e6e" stroke-width="1"/>
<line x1="338.70" y1="502.50" x2="338.70" y2="499.90" stroke="#6e6e6e" stroke-width="1"/>
<line x1="338.70" y1="325.00" x2="338.70" y2="327.60" stroke="#6e6e6e" stroke-width="1"/>
<line x1="347.90" y1="502.50" x2="347.90" y2="499.90" stroke="#6e6e6e" stroke-width="1"/>
<line x1="347.90" y1="325.00" x2="347.90" y2="327.60" stroke="#6e6e6e" stroke-width="1"/>
<line x1="357.10" y1="502.50" x2="357.10" y2="499.90" stroke="#6e6e6e" stroke-width="1"/>
<line x1="357.10" y1="325.00" x2="357.10" y2="327.60" stroke="#6e6e6e" stroke-width="1"/>
<line x1="366.30" y1="502.50" x2="366.30" y2="499.90" stroke="#6e6e6e" stroke-width="1"/>
<line x1="366.30" y1="325.00" x2="366.30" y2="327.60" stroke="#6e6e6e" stroke-width="1"/>
<line x1="375.50" y1="502.50" x2="375.50" y2="499.90" stroke="#6e6e6e" stroke-width="1"/>
<line x1="375.50" y1="325.00" x2="375.50" y2="327.60" stroke="#6e6e6e" stroke-width="1"/>
<line x1="117.90" y1="502.50" x2="117.90" y2="498.20" stroke="#6e6e6e" stroke-width="1"/>
<line x1="117.90" y1="325.00" x2="117.90" y2="329.30" stroke="#6e6e6e" stroke-width="1"/>
<text x="117.90" y="525.30" font-size="18.4" text-anchor="middle" font-style="normal">26</text>
<line x1="154.70" y1="502.50" x2="154.70" y2="498.20" stroke="#6e6e6e" stroke-width="1"/>
<line x1="154.70" y1="325.00" x2="154.70" y2="329.30" stroke="#6e6e6e" stroke-width="1"/>
<text x="154.70" y="525.30" font-size="18.4" text-anchor="middle" font-style="normal">28</text>
<line x1="191.50" y1="502.50" x2="191.50" y2="498.20" stroke="#6e6e6e" stroke-width="1"/>
<line x1="191.50" y1="325.00" x2="191.50" y2="329.30" stroke="#6e6e6e" stroke-width="1"/>
<text x="191.50" y="525.30" font-size="18.4" text-anchor="middle" font-style="normal">30</text>
<line x1="228.30" y1="502.50" x2="228.30" y2="498.20" stroke="#6e6e6e" stroke-width="1"/>
<line x1="228.30" y1="325.00" x2="228.30" y2="329.30" stroke="#6e6e6e" stroke-width="1"/>
<text x="228.30" y="525.30" font-size="18.4" text-anchor="middle" font-style="normal">32</text>
<line x1="265.10" y1="502.50" x2="265.10" y2="498.20" stroke="#6e6e6e" stroke-width="1"/>
<line x1="265.10" y1="325.00" x2="265.10" y2="329.30" stroke="#6e6e6e" stroke-width="1"/>
<text x="265.10" y="525.30" font-size="18.4" text-anchor="middle" font-style="normal">34</text>
<line x1="301.90" y1="502.50" x2="301.90" y2="498.20" stroke="#6e6e6e" stroke-width="1"/>
<line x1="301.90" y1="325.00" x2="301.90" y2="329.30" stroke="#6e6e6e" stroke-width="1"/>
<text x="301.90" y="525.30" font-size="18.4" text-anchor="middle" font-style="normal">36</text>
<line x1="338.70" y1="502.50" x2="338.70" y2="498.20" stroke="#6e6e6e" stroke-width="1"/>
<line x1="338.70" y1="325.00" x2="338.70" y2="329.30" stroke="#6e6e6e" stroke-width="1"/>
<text x="338.70" y="525.30" font-size="18.4" text-anchor="middle" font-style="normal">38</text>
<line x1="375.50" y1="502.50" x2="375.50" y2="498.20" stroke="#6e6e6e" stroke-width="1"/>
<line x1="375.50" y1="325.00" x2="375.50" y2="329.30" stroke="#6e6e6e" stroke-width="1"/>
<text x="375.50" y="525.30" font-size="18.4" text-anchor="middle" font-style="normal">40</text>
<line x1="93.50" y1="502.50" x2="96.10" y2="502.50" stroke="#6e6e6e" stroke-width="1"/>
<line x1="381.30" y1="502.50" x2="378.70" y2="502.50" stroke="#6e6e6e" stroke-width="1"/>
<line x1="93.50" y1="496.58" x2="96.10" y2="496.58" stroke="#6e6e6e" stroke-width="1"/>
<line x1="381.30" y1="496.58" x2="378.70" y2="496.58" stroke="#6e6e6e" stroke-width="1"/>
<line x1="93.50" y1="490.67" x2="96.10" y2="490.67" stroke="#6e6e6e" stroke-width="1"/>
<line x1="381.30" y1="490.67" x2="378.70" y2="490.67" stroke="#6e6e6e" stroke-width="1"/>
<line x1="93.50" y1="484.75" x2="96.10" y2="484.75" stroke="#6e6e6e" stroke-width="1"/>
<line x1="381.30" y1="484.75" x2="378.70" y2="484.75" stroke="#6e6e6e" stroke-width="1"/>
<line x1="93.50" y1="478.83" x2="96.10" y2="478.83" stroke="#6e6e6e" stroke-width="1"/>
<line x1="381.30" y1="478.83" x2="378.70" y2="478.83" stroke="#6e6e6e" stroke-width="1"/>
<line x1="93.50" y1="472.92" x2="96.10" y2="472.92" stroke="#6e6e6e" stroke-width="1"/>
<line x1="381.30" y1="472.92" x2="378.70" y2="472.92" stroke="#6e6e6e" stroke-width="1"/>
<line x1="93.50" y1="467.00" x2="96.10" y2="467.00" stroke="#6e6e6e" stroke-width="1"/>
<line x1="381.30" y1="467.00" x2="378.70" y2="467.00" stroke="#6e6e6e" stroke-width="1"/>
<line x1="93.50" y1="461.08" x2="96.10" y2="461.08" stroke="#6e6e6e" stroke-width="1"/>
<line x1="381.30" y1="461.08" x2="378.70" y2="461.08" stroke="#6e6e6e" stroke-width="1"/>
<line x1="93.50" y1="455.17" x2="96.10" y2="455.17" stroke="#6e6e6e" stroke-width="1"/>
<line x1="381.30" y1="455.17" x2="378.70" y2="455.17" stroke="#6e6e6e" stroke-width="1"/>
<line x1="93.50" y1="449.25" x2="96.10" y2="449.25" stroke="#6e6e6e" stroke-width="1"/>
<line x1="381.30" y1="449.25" x2="378.70" y2="449.25" stroke="#6e6e6e" stroke-width="1"/>
<line x1="93.50" y1="443.33" x2="96.10" y2="443.33" stroke="#6e6e6e" stroke-width="1"/>
<line x1="381.30" y1="443.33" x2="378.70" y2="443.33" stroke="#6e6e6e" stroke-width="1"/>
<line x1="93.50" y1="437.42" x2="96.10" y2="437.42" stroke="#6e6e6e" stroke-width="1"/>
<line x1="381.30" y1="437.42" x2="378.70" y2="437.42" stroke="#6e6e6e" stroke-width="1"/>
<line x1="93.50" y1="431.50" x2="96.10" y2="431.50" stroke="#6e6e6e" stroke-width="1"/>
<line x1="381.30" y1="431.50" x2="378.70" y2="431.50" stroke="#6e6e6e" stroke-width="1"/>
<line x1="93.50" y1="425.58" x2="96.10" y2="425.58" stroke="#6e6e6e" stroke-width="1"/>
<line x1="381.30" y1="425.58" x2="378.70" y2="425.58" stroke="#6e6e6e" stroke-width="1"/>
<line x1="93.50" y1="419.67" x2="96.10" y2="419.67" stroke="#6e6e6e" stroke-width="1"/>
<line x1="381.30" y1="419.67" x2="378.70" y2="419.67" stroke="#6e6e6e" stroke-width="1"/>
<line x1="93.50" y1="413.75" x2="96.10" y2="413.75" stroke="#6e6e6e" stroke-width="1"/>
<line x1="381.30" y1="413.75" x2="378.70" y2="413.75" stroke="#6e6e6e" stroke-width="1"/>
<line x1="93.50" y1="407.83" x2="96.10" y2="407.83" stroke="#6e6e6e" stroke-width="1"/>
<line x1="381.30" y1="407.83" x2="378.70" y2="407.83" stroke="#6e6e6e" stroke-width="1"/>
<line x1="93.50" y1="401.92" x2="96.10" y2="401.92" stroke="#6e6e6e" stroke-width="1"/>
<line x1="381.30" y1="401.92" x2="378.70" y2="401.92" stroke="#6e6e6e" stroke-width="1"/>
<line x1="93.50" y1="396.00" x2="96.10" y2="396.00" stroke="#6e6e6e" stroke-width="1"/>
<line x1="381.30" y1="396.00" x2="378.70" y2="396.00" stroke="#6e6e6e" stroke-width="1"/>
<line x1="93.50" y1="390.08" x2="96.10" y2="390.08" stroke="#6e6e6e" stroke-width="1"/>
<line x1="381.30" y1="390.08" x2="378.70" y2="390.08" stroke="#6e6e6e" stroke-width="1"/>
<line x1="93.50" y1="384.17" x2="96.10" y2="384.17" stroke="#6e6e6e" stroke-width="1"/>
<line x1="381.30" y1="384.17" x2="378.70" y2="384.17" stroke="#6e6e6e" stroke-width="1"/>
<line x1="93.50" y1="378.25" x2="96.10" y2="378.25" stroke="#6e6e6e" stroke-width="1"/>
<line x1="381.30" y1="378.25" x2="378.70" y2="378.25" stroke="#6e6e6e" stroke-width="1"/>
<line x1="93.50" y1="372.33" x2="96.10" y2="372.33" stroke="#6e6e6e" stroke-width="1"/>
<line x1="381.30" y1="372.33" x2="378.70" y2="372.33" stroke="#6e6e6e" stroke-width="1"/>
<line x1="93.50" y1="366.42" x2="96.10" y2="366.42" stroke="#6e6e6e" stroke-width="1"/>
<line x1="381.30" y1="366.42" x2="378.70" y2="366.42" stroke="#6e6e6e" stroke-width="1"/>
<line x1="93.50" y1="360.50" x2="96.10" y2="360.50" stroke="#6e6e6e" stroke-width="1"/>
<line x1="381.30" y1="360.50" x2="378.70" y2="360.50" stroke="#6e6e6e" stroke-width="1"/>
<line x1="93.50" y1="354.58" x2="96.10" y2="354.58" stroke="#6e6e6e" stroke-width="1"/>
<line x1="381.30" y1="354.58" x2="378.70" y2="354.58" stroke="#6e6e6e" stroke-width="1"/>
<line x1="93.50" y1="348.67" x2="96.10" y2="348.67" stroke="#6e6e6e" stroke-width="1"/>
<line x1="381.30" y1="348.67" x2="378.70" y2="348.67" stroke="#6e6e6e" stroke-width="1"/>
<line x1="93.50" y1="342.75" x2="96.10" y2="342.75" stroke="#6e6e6e" stroke-width="1"/>
<line x1="381.30" y1="342.75" x2="378.70" y2="342.75" stroke="#6e6e6e" stroke-width="1"/>
<line x1="93.50" y1="336.83" x2="96.10" y2="336.83" stroke="#6e6e6e" stroke-width="1"/>
<line x1="381.30" y1="336.83" x2="378.70" y2="336.83" stroke="#6e6e6e" stroke-width="1"/>
<line x1="93.50" y1="330.92" x2="96.10" y2="330.92" stroke="#6e6e6e" stroke-width="1"/>
<line x1="381.30" y1="330.92" x2="378.70" y2="330.92" stroke="#6e6e6e" stroke-width="1"/>
<line x1="93.50" y1="325.00" x2="96.10" y2="325.00" stroke="#6e6e6e" stroke-width="1"/>
<line x1="381.30" y1="325.00" x2="378.70" y2="325.00" stroke="#6e6e6e" stroke-width="1"/>
<line x1="93.50" y1="325.00" x2="97.80" y2="325.00" stroke="#6e6e6e" stroke-width="1"/>
<line x1="381.30" y1="325.00" x2="377.00" y2="325.00" stroke="#6e6e6e" stroke-width="1"/>
<text x="87.80" y="331.70" font-size="18.4" text-anchor="end" font-style="normal">1.20</text>
<line x1="93.50" y1="354.58" x2="97.80" y2="354.58" stroke="#6e6e6e" stroke-width="1"/>
<line x1="381.30" y1="354.58" x2="377.00" y2="354.58" stroke="#6e6e6e" stroke-width="1"/>
<text x="87.80" y="361.28" font-size="18.4" text-anchor="end" font-style="normal">1.15</text>
<line x1="93.50" y1="384.17" x2="97.80" y2="384.17" stroke="#6e6e6e" stroke-width="1"/>
<line x1="381.30" y1="384.17" x2="377.00" y2="384.17" stroke="#6e6e6e" stroke-width="1"/>
<text x="87.80" y="390.87" font-size="18.4" text-anchor="end" font-style="normal">1.10</text>
<line x1="93.50" y1="413.75" x2="97.80" y2="413.75" stroke="#6e6e6e" stroke-width="1"/>
<line x1="381.30" y1="413.75" x2="377.00" y2="413.75" stroke="#6e6e6e" stroke-width="1"/>
<text x="87.80" y="420.45" font-size="18.4" text-anchor="end" font-style="normal">1.05</text>
<line x1="93.50" y1="443.33" x2="97.80" y2="443.33" stroke="#6e6e6e" stroke-width="1"/>
<line x1="381.30" y1="443.33" x2="377.00" y2="443.33" stroke="#6e6e6e" stroke-width="1"/>
<text x="87.80" y="450.03" font-size="18.4" text-anchor="end" font-style="normal">1.00</text>
<line x1="93.50" y1="472.92" x2="97.80" y2="472.92" stroke="#6e6e6e" stroke-width="1"/>
<line x1="381.30" y1="472.92" x2="377.00" y2="472.92" stroke="#6e6e6e" stroke-width="1"/>
<text x="87.80" y="479.62" font-size="18.4" text-anchor="end" font-style="normal">0.95</text>
<line x1="93.50" y1="502.50" x2="97.80" y2="502.50" stroke="#6e6e6e" stroke-width="1"/>
<line x1="381.30" y1="502.50" x2="377.00" y2="502.50" stroke="#6e6e6e" stroke-width="1"/>
<text x="87.80" y="509.20" font-size="18.4" text-anchor="end" font-style="normal">0.90</text>
<rect x="93.5" y="325.0" width="287.8" height="177.5" fill="none" stroke="#6e6e6e" stroke-width="1"/>
<line x1="93.50" y1="443.50" x2="381.30" y2="443.50" stroke="#6c6c6c" stroke-width="1"/>
<path d="M99.10,452.72 L99.50,452.78 L100.27,452.88 L101.03,452.98 L101.79,453.08 L102.55,453.18 L103.30,453.28 L104.05,453.38 L104.80,453.48 L105.55,453.58 L106.29,453.69 L107.02,453.79 L107.76,453.89 L108.49,454.00 L109.22,454.10 L109.94,454.20 L110.66,454.31 L111.38,454.42 L112.10,454.52 L112.81,454.63 L113.52,454.74 L114.22,454.85 L114.92,454.96 L115.62,455.07 L116.32,455.18 L117.01,455.29 L117.70,455.40 L118.38,455.51 L119.06,455.63 L119.74,455.74 L120.42,455.86 L121.09,455.98 L121.76,456.10 L122.42,456.22 L123.08,456.34 L123.74,456.46 L124.40,456.58 L125.05,456.71 L125.70,456.84 L126.34,456.96 L126.98,457.09 L127.62,457.22 L128.26,457.36 L128.89,457.49 L129.52,457.63 L130.14,457.76 L130.76,457.90 L131.38,458.05 L131.99,458.19 L132.60,458.33 L133.21,458.48 L133.82,458.63 L134.42,458.78 L135.01,458.94 L135.61,459.09 L136.19,459.25 L136.78,459.41 L137.36,459.57 L137.94,459.74 L138.52,459.91 L139.09,460.08 L139.66,460.25 L140.22,460.43 L140.78,460.61 L141.34,460.79 L141.89,460.98 L142.44,461.17 L142.99,461.36 L143.53,461.55 L144.07,461.75 L144.60,461.96 L145.13,462.16 L145.66,462.37 L146.18,462.58 L146.70,462.80 L147.21,463.02 L147.73,463.25 L148.23,463.47 L148.73,463.71 L149.23,463.94 L149.73,464.18 L150.22,464.43 L150.70,464.68 L151.19,464.93 L151.66,465.19 L152.14,465.45 L152.61,465.72 L153.07,465.99 L153.53,466.27 L153.99,466.55 L154.44,466.84 L154.88,467.13 L155.33,467.43 L155.76,467.73 L156.20,468.03 L156.63,468.34 L157.05,468.66 L157.47,468.98 L157.88,469.31 L158.29,469.64 L158.70,469.98 L159.10,470.32 L159.49,470.67 L159.88,471.02 L160.27,471.38 L160.65,471.74 L161.03,472.11 L161.40,472.48 L161.77,472.86 L162.13,473.25 L162.48,473.64 L162.84,474.03 L163.18,474.43 L163.53,474.83 L163.87,475.24 L164.20,475.66 L164.53,476.08 L164.85,476.50 L165.17,476.93 L165.49,477.36 L165.80,477.80 L166.11,478.24 L166.41,478.69 L166.71,479.14 L167.00,479.60 L167.29,480.06 L167.57,480.53 L167.85,481.00 L168.13,481.47 L168.40,481.95 L168.67,482.43 L168.94,482.92 L169.20,483.41 L169.45,483.91 L169.71,484.41 L169.95,484.91 L170.20,485.42 L170.44,485.93 L170.68,486.44 L170.91,486.96 L171.14,487.49 L171.37,488.01 L171.60,488.54 L171.82,489.08 L172.04,489.62 L172.25,490.16 L172.46,490.70 L172.67,491.25 L172.87,491.80 L173.08,492.36 L173.27,492.92 L173.47,493.48 L173.66,494.05 L173.85,494.62 L174.04,495.19 L174.23,495.77 L174.41,496.35 L174.59,496.93 L174.77,497.52 L174.94,498.11 L175.11,498.70 L175.28,499.29 L175.45,499.89 L175.62,500.49 L175.78,501.10 L175.94,501.71 L176.10,502.32 L176.14,502.50" fill="none" stroke="#ff0000" stroke-width="1.7" stroke-linejoin="round" stroke-linecap="butt" stroke-dasharray="8.6 5.75" clip-path="url(#clip3)"/>
<path d="M198.63,325.00 L198.67,325.50 L198.72,326.13 L198.77,326.75 L198.83,327.37 L198.88,328.00 L198.94,328.62 L198.99,329.25 L199.04,329.88 L199.10,330.51 L199.16,331.14 L199.21,331.77 L199.27,332.41 L199.32,333.04 L199.38,333.67 L199.44,334.30 L199.49,334.94 L199.55,335.57 L199.61,336.21 L199.67,336.84 L199.73,337.47 L199.79,338.10 L199.85,338.74 L199.91,339.37 L199.97,340.00 L200.03,340.63 L200.09,341.26 L200.15,341.89 L200.22,342.52 L200.28,343.15 L200.34,343.78 L200.41,344.40 L200.47,345.03 L200.54,345.65 L200.61,346.27 L200.67,346.89 L200.74,347.51 L200.81,348.13 L200.88,348.74 L200.95,349.36 L201.02,349.97 L201.09,350.58 L201.16,351.18 L201.24,351.79 L201.31,352.39 L201.38,352.99 L201.46,353.59 L201.54,354.19 L201.61,354.78 L201.69,355.37 L201.77,355.96 L201.85,356.55 L201.93,357.13 L202.01,357.72 L202.09,358.30 L202.18,358.87 L202.26,359.45 L202.34,360.03 L202.43,360.60 L202.52,361.17 L202.61,361.73 L202.69,362.30 L202.78,362.86 L202.88,363.42 L202.97,363.98 L203.06,364.54 L203.15,365.10 L203.25,365.65 L203.35,366.20 L203.44,366.75 L203.54,367.29 L203.64,367.84 L203.74,368.38 L203.85,368.92 L203.95,369.45 L204.05,369.99 L204.16,370.52 L204.27,371.05 L204.38,371.58 L204.48,372.11 L204.60,372.63 L204.71,373.15 L204.82,373.67 L204.94,374.19 L205.05,374.71 L205.17,375.22 L205.29,375.73 L205.41,376.24 L205.53,376.75 L205.66,377.25 L205.78,377.76 L205.91,378.26 L206.04,378.76 L206.17,379.25 L206.30,379.75 L206.43,380.24 L206.56,380.73 L206.70,381.22 L206.84,381.71 L206.98,382.19 L207.12,382.67 L207.26,383.15 L207.41,383.63 L207.55,384.11 L207.70,384.58 L207.85,385.05 L208.00,385.52 L208.15,385.99 L208.31,386.46 L208.47,386.92 L208.63,387.38 L208.79,387.84 L208.95,388.30 L209.11,388.76 L209.28,389.21 L209.45,389.67 L209.62,390.12 L209.79,390.57 L209.97,391.01 L210.14,391.46 L210.32,391.90 L210.50,392.34 L210.68,392.78 L210.87,393.22 L211.05,393.66 L211.24,394.09 L211.43,394.52 L211.63,394.95 L211.82,395.38 L212.02,395.81 L212.22,396.23 L212.42,396.65 L212.63,397.07 L212.84,397.49 L213.05,397.91 L213.26,398.32 L213.47,398.73 L213.69,399.14 L213.91,399.55 L214.13,399.95 L214.36,400.35 L214.58,400.75 L214.81,401.15 L215.04,401.55 L215.28,401.94 L215.52,402.33 L215.76,402.71 L216.00,403.10 L216.25,403.48 L216.50,403.86 L216.75,404.24 L217.00,404.61 L217.26,404.98 L217.52,405.35 L217.79,405.72 L218.05,406.08 L218.32,406.44 L218.60,406.80 L218.87,407.15 L219.15,407.50 L219.43,407.85 L219.72,408.19 L220.01,408.53 L220.30,408.87 L220.59,409.21 L220.89,409.54 L221.19,409.87 L221.50,410.19 L221.80,410.51 L222.12,410.83 L222.43,411.15 L222.75,411.46 L223.07,411.77 L223.39,412.07 L223.72,412.37 L224.05,412.67 L224.38,412.96 L224.72,413.25 L225.06,413.54 L225.41,413.82 L225.75,414.10 L226.11,414.37 L226.46,414.65 L226.82,414.91 L227.18,415.18 L227.54,415.43 L227.91,415.69 L228.28,415.94 L228.66,416.19 L229.03,416.43 L229.41,416.67 L229.80,416.91 L230.19,417.14 L230.58,417.36 L230.97,417.59 L231.37,417.81 L231.77,418.02 L232.17,418.23 L232.58,418.44 L232.99,418.64 L233.40,418.84 L233.82,419.04 L234.23,419.23 L234.66,419.42 L235.08,419.61 L235.51,419.79 L235.94,419.97 L236.37,420.14 L236.81,420.32 L237.25,420.49 L237.69,420.65 L238.13,420.82 L238.58,420.98 L239.03,421.14 L239.48,421.29 L239.94,421.45 L240.40,421.60 L240.86,421.75 L241.32,421.89 L241.79,422.04 L242.26,422.18 L242.73,422.32 L243.20,422.46 L243.68,422.59 L244.15,422.72 L244.64,422.86 L245.12,422.99 L245.60,423.12 L246.09,423.24 L246.58,423.37 L247.08,423.49 L247.57,423.61 L248.07,423.73 L248.57,423.85 L249.08,423.97 L249.58,424.09 L250.09,424.20 L250.60,424.31 L251.11,424.42 L251.63,424.53 L252.15,424.64 L252.67,424.75 L253.19,424.86 L253.71,424.96 L254.24,425.06 L254.77,425.17 L255.30,425.27 L255.84,425.37 L256.37,425.46 L256.91,425.56 L257.45,425.66 L258.00,425.75 L258.54,425.84 L259.09,425.94 L259.64,426.03 L260.20,426.12 L260.75,426.21 L261.31,426.30 L261.87,426.38 L262.43,426.47 L263.00,426.55 L263.57,426.64 L264.14,426.72 L264.71,426.80 L265.28,426.88 L265.86,426.96 L266.44,427.04 L267.02,427.12 L267.60,427.20 L268.19,427.28 L268.78,427.35 L269.37,427.43 L269.96,427.50 L270.56,427.57 L271.16,427.65 L271.76,427.72 L272.36,427.79 L272.96,427.86 L273.57,427.93 L274.18,428.00 L274.79,428.07 L275.40,428.13 L276.02,428.20 L276.64,428.27 L277.26,428.33 L277.88,428.40 L278.51,428.46 L279.13,428.52 L279.76,428.59 L280.40,428.65 L281.03,428.71 L281.67,428.77 L282.31,428.83 L282.95,428.89 L283.59,428.95 L284.24,429.01 L284.89,429.07 L285.54,429.12 L286.19,429.18 L286.84,429.24 L287.50,429.29 L288.16,429.35 L288.82,429.41 L289.49,429.46 L290.15,429.51 L290.82,429.57 L291.49,429.62 L292.17,429.67 L292.84,429.73 L293.52,429.78 L294.20,429.83 L294.88,429.88 L295.57,429.93 L296.25,429.98 L296.94,430.03 L297.63,430.08 L298.33,430.13 L299.02,430.18 L299.72,430.23 L300.42,430.28 L301.13,430.33 L301.83,430.37 L302.54,430.42 L303.25,430.47 L303.96,430.52 L304.67,430.56 L305.39,430.61 L306.11,430.65 L306.83,430.70 L307.55,430.74 L308.28,430.79 L309.01,430.83 L309.74,430.88 L310.47,430.92 L311.21,430.97 L311.94,431.01 L312.68,431.05 L313.42,431.10 L314.17,431.14 L314.91,431.18 L315.66,431.22 L316.41,431.27 L317.16,431.31 L317.92,431.35 L318.68,431.39 L319.44,431.43 L320.20,431.47 L320.96,431.52 L321.73,431.56 L322.50,431.60 L323.27,431.64 L324.04,431.68 L324.82,431.72 L325.60,431.76 L326.38,431.80 L327.16,431.84 L327.94,431.88 L328.73,431.92 L329.52,431.95 L330.31,431.99 L331.10,432.03 L331.90,432.07 L332.70,432.11 L333.50,432.15 L334.30,432.19 L335.11,432.22 L335.91,432.26 L336.72,432.30 L337.54,432.34 L338.35,432.38 L339.17,432.41 L339.98,432.45 L340.81,432.49 L341.63,432.53 L342.45,432.56 L343.28,432.60 L344.11,432.64 L344.94,432.67 L345.78,432.71 L346.62,432.75 L347.45,432.78 L348.30,432.82 L349.14,432.86 L349.99,432.89 L350.83,432.93 L351.68,432.97 L352.54,433.00 L353.39,433.04 L354.25,433.07 L355.11,433.11 L355.97,433.15 L356.83,433.18 L357.70,433.22 L358.57,433.25 L359.44,433.29 L360.31,433.33 L361.19,433.36 L362.07,433.40 L362.94,433.43 L363.83,433.47 L364.71,433.50 L365.60,433.54 L366.49,433.58 L367.38,433.61 L368.27,433.65 L369.17,433.68 L370.06,433.72 L370.96,433.75 L371.87,433.79 L372.77,433.82 L373.68,433.86 L374.59,433.89 L375.50,433.93 L376.10,433.95" fill="none" stroke="#ff0000" stroke-width="1.7" stroke-linejoin="round" stroke-linecap="butt" stroke-dasharray="8.6 5.75" stroke-dashoffset="1.3" clip-path="url(#clip3)"/>
<path d="M99.10,451.92 L99.50,451.96 L100.31,452.04 L101.13,452.13 L101.93,452.21 L102.74,452.30 L103.54,452.38 L104.33,452.47 L105.12,452.55 L105.91,452.64 L106.70,452.73 L107.48,452.82 L108.26,452.91 L109.03,453.00 L109.80,453.10 L110.57,453.19 L111.33,453.28 L112.09,453.38 L112.84,453.48 L113.59,453.57 L114.34,453.67 L115.09,453.77 L115.83,453.87 L116.56,453.98 L117.30,454.08 L118.03,454.18 L118.75,454.29 L119.47,454.40 L120.19,454.50 L120.91,454.61 L121.62,454.72 L122.32,454.84 L123.03,454.95 L123.73,455.07 L124.42,455.18 L125.11,455.30 L125.80,455.42 L126.49,455.54 L127.17,455.67 L127.84,455.79 L128.52,455.92 L129.18,456.04 L129.85,456.17 L130.51,456.31 L131.17,456.44 L131.82,456.57 L132.47,456.71 L133.12,456.85 L133.76,456.99 L134.40,457.13 L135.03,457.28 L135.66,457.43 L136.29,457.58 L136.91,457.73 L137.53,457.88 L138.15,458.04 L138.76,458.20 L139.37,458.36 L139.97,458.52 L140.57,458.69 L141.16,458.85 L141.76,459.03 L142.34,459.20 L142.93,459.37 L143.51,459.55 L144.08,459.74 L144.65,459.92 L145.22,460.11 L145.78,460.30 L146.34,460.49 L146.89,460.69 L147.45,460.89 L147.99,461.09 L148.53,461.30 L149.07,461.50 L149.60,461.72 L150.13,461.93 L150.66,462.15 L151.18,462.37 L151.70,462.60 L152.21,462.83 L152.72,463.06 L153.22,463.30 L153.72,463.54 L154.21,463.79 L154.70,464.04 L155.19,464.29 L155.67,464.54 L156.15,464.80 L156.62,465.07 L157.08,465.34 L157.55,465.61 L158.01,465.89 L158.46,466.17 L158.91,466.45 L159.35,466.74 L159.79,467.03 L160.22,467.33 L160.65,467.64 L161.08,467.94 L161.50,468.25 L161.91,468.57 L162.32,468.89 L162.73,469.21 L163.13,469.54 L163.53,469.87 L163.92,470.21 L164.30,470.55 L164.68,470.90 L165.06,471.25 L165.43,471.61 L165.80,471.97 L166.16,472.33 L166.51,472.70 L166.86,473.07 L167.21,473.45 L167.55,473.83 L167.89,474.22 L168.22,474.61 L168.55,475.01 L168.87,475.41 L169.19,475.81 L169.50,476.22 L169.81,476.63 L170.11,477.04 L170.41,477.46 L170.70,477.89 L170.99,478.32 L171.28,478.75 L171.56,479.19 L171.84,479.63 L172.11,480.07 L172.38,480.52 L172.64,480.97 L172.90,481.43 L173.15,481.88 L173.40,482.35 L173.65,482.81 L173.89,483.28 L174.13,483.76 L174.37,484.24 L174.60,484.72 L174.82,485.20 L175.05,485.69 L175.27,486.18 L175.48,486.68 L175.70,487.17 L175.91,487.67 L176.11,488.18 L176.31,488.69 L176.51,489.20 L176.71,489.71 L176.90,490.23 L177.09,490.75 L177.28,491.27 L177.46,491.80 L177.64,492.33 L177.82,492.86 L177.99,493.40 L178.17,493.94 L178.33,494.48 L178.50,495.02 L178.66,495.57 L178.82,496.12 L178.98,496.67 L179.14,497.23 L179.29,497.79 L179.44,498.35 L179.59,498.91 L179.74,499.48 L179.88,500.05 L180.02,500.62 L180.16,501.20 L180.30,501.78 L180.43,502.36 L180.47,502.50" fill="none" stroke="#0000ff" stroke-width="1.8" stroke-linejoin="round" stroke-linecap="butt" clip-path="url(#clip3)"/>
<line x1="191.45" y1="325.00" x2="191.45" y2="502.50" stroke="#0000ff" stroke-width="1.5"/>
<path d="M204.38,325.00 L204.40,325.16 L204.48,325.84 L204.56,326.52 L204.63,327.20 L204.71,327.87 L204.79,328.54 L204.87,329.21 L204.95,329.88 L205.03,330.55 L205.12,331.21 L205.20,331.87 L205.28,332.53 L205.37,333.19 L205.45,333.84 L205.54,334.50 L205.63,335.15 L205.71,335.79 L205.80,336.44 L205.89,337.08 L205.98,337.72 L206.07,338.36 L206.17,338.99 L206.26,339.63 L206.35,340.26 L206.45,340.88 L206.55,341.51 L206.64,342.13 L206.74,342.75 L206.84,343.36 L206.94,343.98 L207.04,344.59 L207.14,345.19 L207.25,345.80 L207.35,346.40 L207.46,347.00 L207.57,347.59 L207.68,348.18 L207.79,348.77 L207.90,349.35 L208.01,349.93 L208.12,350.51 L208.24,351.09 L208.35,351.66 L208.47,352.22 L208.59,352.79 L208.71,353.35 L208.84,353.90 L208.96,354.46 L209.09,355.01 L209.21,355.55 L209.34,356.10 L209.47,356.64 L209.61,357.17 L209.74,357.71 L209.87,358.24 L210.01,358.76 L210.15,359.29 L210.29,359.81 L210.43,360.32 L210.58,360.84 L210.72,361.35 L210.87,361.86 L211.02,362.36 L211.17,362.86 L211.32,363.36 L211.48,363.86 L211.64,364.35 L211.79,364.84 L211.96,365.33 L212.12,365.81 L212.28,366.29 L212.45,366.77 L212.62,367.25 L212.79,367.72 L212.96,368.19 L213.13,368.66 L213.31,369.13 L213.49,369.59 L213.67,370.05 L213.85,370.51 L214.03,370.97 L214.22,371.42 L214.41,371.88 L214.60,372.33 L214.79,372.78 L214.98,373.23 L215.18,373.67 L215.38,374.12 L215.58,374.56 L215.78,375.00 L215.98,375.44 L216.19,375.88 L216.39,376.31 L216.60,376.75 L216.81,377.18 L217.03,377.61 L217.24,378.04 L217.46,378.46 L217.68,378.89 L217.91,379.31 L218.13,379.73 L218.36,380.15 L218.59,380.57 L218.82,380.98 L219.05,381.39 L219.29,381.81 L219.52,382.21 L219.77,382.62 L220.01,383.03 L220.25,383.43 L220.50,383.83 L220.75,384.23 L221.00,384.62 L221.26,385.02 L221.51,385.41 L221.77,385.80 L222.04,386.19 L222.30,386.58 L222.57,386.96 L222.84,387.34 L223.11,387.72 L223.38,388.10 L223.66,388.48 L223.94,388.85 L224.22,389.22 L224.51,389.59 L224.79,389.95 L225.08,390.32 L225.38,390.68 L225.67,391.04 L225.97,391.40 L226.27,391.75 L226.57,392.10 L226.88,392.45 L227.19,392.80 L227.50,393.15 L227.81,393.49 L228.13,393.83 L228.45,394.17 L228.77,394.51 L229.09,394.84 L229.42,395.17 L229.75,395.50 L230.08,395.83 L230.42,396.15 L230.76,396.47 L231.10,396.79 L231.44,397.11 L231.79,397.43 L232.14,397.74 L232.49,398.05 L232.84,398.36 L233.20,398.66 L233.56,398.96 L233.92,399.26 L234.28,399.56 L234.65,399.86 L235.02,400.15 L235.40,400.44 L235.77,400.73 L236.15,401.01 L236.53,401.29 L236.91,401.58 L237.30,401.85 L237.69,402.13 L238.08,402.40 L238.47,402.67 L238.87,402.94 L239.27,403.21 L239.67,403.47 L240.08,403.73 L240.49,403.99 L240.90,404.25 L241.31,404.50 L241.72,404.76 L242.14,405.01 L242.56,405.25 L242.98,405.50 L243.41,405.74 L243.84,405.98 L244.27,406.22 L244.70,406.46 L245.14,406.69 L245.58,406.92 L246.02,407.15 L246.46,407.38 L246.90,407.60 L247.35,407.83 L247.80,408.05 L248.26,408.26 L248.71,408.48 L249.17,408.69 L249.63,408.91 L250.09,409.12 L250.56,409.32 L251.03,409.53 L251.50,409.73 L251.97,409.94 L252.44,410.14 L252.92,410.33 L253.40,410.53 L253.88,410.72 L254.37,410.91 L254.85,411.10 L255.34,411.29 L255.83,411.48 L256.33,411.66 L256.82,411.85 L257.32,412.03 L257.82,412.21 L258.33,412.38 L258.83,412.56 L259.34,412.73 L259.85,412.90 L260.36,413.07 L260.88,413.24 L261.39,413.41 L261.91,413.57 L262.43,413.74 L262.96,413.90 L263.48,414.06 L264.01,414.22 L264.54,414.37 L265.07,414.53 L265.61,414.68 L266.14,414.83 L266.68,414.99 L267.23,415.14 L267.77,415.28 L268.31,415.43 L268.86,415.57 L269.41,415.72 L269.96,415.86 L270.52,416.00 L271.08,416.14 L271.63,416.28 L272.20,416.42 L272.76,416.55 L273.32,416.69 L273.89,416.82 L274.46,416.95 L275.03,417.08 L275.61,417.21 L276.18,417.34 L276.76,417.47 L277.34,417.59 L277.92,417.72 L278.51,417.84 L279.10,417.96 L279.68,418.08 L280.28,418.20 L280.87,418.32 L281.46,418.44 L282.06,418.56 L282.66,418.67 L283.26,418.79 L283.87,418.90 L284.47,419.01 L285.08,419.12 L285.69,419.23 L286.30,419.34 L286.92,419.45 L287.53,419.56 L288.15,419.67 L288.77,419.77 L289.39,419.88 L290.02,419.98 L290.64,420.08 L291.27,420.19 L291.90,420.29 L292.54,420.39 L293.17,420.49 L293.81,420.59 L294.45,420.69 L295.09,420.78 L295.73,420.88 L296.38,420.98 L297.03,421.07 L297.68,421.16 L298.33,421.26 L298.98,421.35 L299.64,421.44 L300.29,421.53 L300.95,421.62 L301.62,421.71 L302.28,421.80 L302.95,421.89 L303.61,421.98 L304.28,422.07 L304.96,422.15 L305.63,422.24 L306.31,422.32 L306.99,422.41 L307.67,422.49 L308.35,422.57 L309.03,422.66 L309.72,422.74 L310.41,422.82 L311.10,422.90 L311.79,422.98 L312.49,423.06 L313.18,423.14 L313.88,423.22 L314.58,423.30 L315.28,423.37 L315.99,423.45 L316.70,423.53 L317.41,423.60 L318.12,423.68 L318.83,423.75 L319.54,423.83 L320.26,423.90 L320.98,423.97 L321.70,424.05 L322.43,424.12 L323.15,424.19 L323.88,424.26 L324.61,424.33 L325.34,424.40 L326.07,424.47 L326.81,424.54 L327.55,424.61 L328.28,424.68 L329.03,424.75 L329.77,424.82 L330.52,424.89 L331.26,424.95 L332.01,425.02 L332.76,425.09 L333.52,425.15 L334.27,425.22 L335.03,425.28 L335.79,425.35 L336.55,425.41 L337.32,425.48 L338.08,425.54 L338.85,425.61 L339.62,425.67 L340.39,425.73 L341.17,425.79 L341.94,425.86 L342.72,425.92 L343.50,425.98 L344.28,426.04 L345.07,426.10 L345.85,426.16 L346.64,426.22 L347.43,426.28 L348.22,426.34 L349.02,426.40 L349.81,426.46 L350.61,426.52 L351.41,426.58 L352.22,426.64 L353.02,426.70 L353.83,426.76 L354.63,426.81 L355.44,426.87 L356.26,426.93 L357.07,426.98 L357.89,427.04 L358.71,427.10 L359.53,427.15 L360.35,427.21 L361.17,427.27 L362.00,427.32 L362.83,427.38 L363.66,427.43 L364.49,427.49 L365.33,427.54 L366.16,427.60 L367.00,427.65 L367.84,427.71 L368.69,427.76 L369.53,427.81 L370.38,427.87 L371.23,427.92 L372.08,427.97 L372.93,428.03 L373.78,428.08 L374.64,428.13 L375.50,428.19 L376.10,428.22" fill="none" stroke="#0000ff" stroke-width="1.8" stroke-linejoin="round" stroke-linecap="butt" clip-path="url(#clip3)"/>
<path d="M197.90,555.80 L201.00,554.00" fill="none" stroke="#111" stroke-width="1.0"/>
<path d="M200.20,554.60 L202.10,553.70 L205.60,562.30 L205.00,564.60 L204.40,564.60 Z" fill="#111" stroke="none"/>
<path d="M204.90,564.50 L210.10,545.25 L227.00,545.25" fill="none" stroke="#111" stroke-width="1.05" stroke-linejoin="miter"/>
<text x="213.70" y="562.40" font-size="18" text-anchor="start" font-style="italic">s</text>
<text x="232.30" y="562.00" font-size="18" text-anchor="start" font-style="normal">(GeV)</text>
<text x="242.20" y="484.40" font-size="18" text-anchor="start" font-style="italic">c</text>
<text x="250.65" y="488.40" font-size="13" text-anchor="start" font-style="italic">V</text>
<line x1="260.50" y1="477.60" x2="270.70" y2="477.60" stroke="#111" stroke-width="1.15"/>
<line x1="260.50" y1="481.50" x2="270.70" y2="481.50" stroke="#111" stroke-width="1.15"/>
<text x="271.80" y="484.40" font-size="18.4" text-anchor="start" font-style="normal">0.026,</text>
<text x="322.40" y="484.40" font-size="18" text-anchor="start" font-style="italic">c</text>
<text x="331.15" y="488.40" font-size="13" text-anchor="start" font-style="italic">A</text>
<line x1="340.70" y1="477.60" x2="350.90" y2="477.60" stroke="#111" stroke-width="1.15"/>
<line x1="340.70" y1="481.50" x2="350.90" y2="481.50" stroke="#111" stroke-width="1.15"/>
<text x="351.50" y="484.40" font-size="18.4" text-anchor="start" font-style="normal">0</text>
<g transform="translate(35.7,425.0) rotate(-90)"><text x="0" y="0" font-size="18" font-style="italic" text-anchor="start">R</text><text x="11.5" y="3.2" font-size="13" font-style="italic" text-anchor="start">U</text></g>
<clipPath id="clip4"><rect x="501.5" y="325.0" width="287.0" height="177.5"/></clipPath>
<line x1="507.00" y1="502.50" x2="507.00" y2="499.90" stroke="#6e6e6e" stroke-width="1"/>
<line x1="507.00" y1="325.00" x2="507.00" y2="327.60" stroke="#6e6e6e" stroke-width="1"/>
<line x1="516.20" y1="502.50" x2="516.20" y2="499.90" stroke="#6e6e6e" stroke-width="1"/>
<line x1="516.20" y1="325.00" x2="516.20" y2="327.60" stroke="#6e6e6e" stroke-width="1"/>
<line x1="525.40" y1="502.50" x2="525.40" y2="499.90" stroke="#6e6e6e" stroke-width="1"/>
<line x1="525.40" y1="325.00" x2="525.40" y2="327.60" stroke="#6e6e6e" stroke-width="1"/>
<line x1="534.60" y1="502.50" x2="534.60" y2="499.90" stroke="#6e6e6e" stroke-width="1"/>
<line x1="534.60" y1="325.00" x2="534.60" y2="327.60" stroke="#6e6e6e" stroke-width="1"/>
<line x1="543.80" y1="502.50" x2="543.80" y2="499.90" stroke="#6e6e6e" stroke-width="1"/>
<line x1="543.80" y1="325.00" x2="543.80" y2="327.60" stroke="#6e6e6e" stroke-width="1"/>
<line x1="553.00" y1="502.50" x2="553.00" y2="499.90" stroke="#6e6e6e" stroke-width="1"/>
<line x1="553.00" y1="325.00" x2="553.00" y2="327.60" stroke="#6e6e6e" stroke-width="1"/>
<line x1="562.20" y1="502.50" x2="562.20" y2="499.90" stroke="#6e6e6e" stroke-width="1"/>
<line x1="562.20" y1="325.00" x2="562.20" y2="327.60" stroke="#6e6e6e" stroke-width="1"/>
<line x1="571.40" y1="502.50" x2="571.40" y2="499.90" stroke="#6e6e6e" stroke-width="1"/>
<line x1="571.40" y1="325.00" x2="571.40" y2="327.60" stroke="#6e6e6e" stroke-width="1"/>
<line x1="580.60" y1="502.50" x2="580.60" y2="499.90" stroke="#6e6e6e" stroke-width="1"/>
<line x1="580.60" y1="325.00" x2="580.60" y2="327.60" stroke="#6e6e6e" stroke-width="1"/>
<line x1="589.80" y1="502.50" x2="589.80" y2="499.90" stroke="#6e6e6e" stroke-width="1"/>
<line x1="589.80" y1="325.00" x2="589.80" y2="327.60" stroke="#6e6e6e" stroke-width="1"/>
<line x1="599.00" y1="502.50" x2="599.00" y2="499.90" stroke="#6e6e6e" stroke-width="1"/>
<line x1="599.00" y1="325.00" x2="599.00" y2="327.60" stroke="#6e6e6e" stroke-width="1"/>
<line x1="608.20" y1="502.50" x2="608.20" y2="499.90" stroke="#6e6e6e" stroke-width="1"/>
<line x1="608.20" y1="325.00" x2="608.20" y2="327.60" stroke="#6e6e6e" stroke-width="1"/>
<line x1="617.40" y1="502.50" x2="617.40" y2="499.90" stroke="#6e6e6e" stroke-width="1"/>
<line x1="617.40" y1="325.00" x2="617.40" y2="327.60" stroke="#6e6e6e" stroke-width="1"/>
<line x1="626.60" y1="502.50" x2="626.60" y2="499.90" stroke="#6e6e6e" stroke-width="1"/>
<line x1="626.60" y1="325.00" x2="626.60" y2="327.60" stroke="#6e6e6e" stroke-width="1"/>
<line x1="635.80" y1="502.50" x2="635.80" y2="499.90" stroke="#6e6e6e" stroke-width="1"/>
<line x1="635.80" y1="325.00" x2="635.80" y2="327.60" stroke="#6e6e6e" stroke-width="1"/>
<line x1="645.00" y1="502.50" x2="645.00" y2="499.90" stroke="#6e6e6e" stroke-width="1"/>
<line x1="645.00" y1="325.00" x2="645.00" y2="327.60" stroke="#6e6e6e" stroke-width="1"/>
<line x1="654.20" y1="502.50" x2="654.20" y2="499.90" stroke="#6e6e6e" stroke-width="1"/>
<line x1="654.20" y1="325.00" x2="654.20" y2="327.60" stroke="#6e6e6e" stroke-width="1"/>
<line x1="663.40" y1="502.50" x2="663.40" y2="499.90" stroke="#6e6e6e" stroke-width="1"/>
<line x1="663.40" y1="325.00" x2="663.40" y2="327.60" stroke="#6e6e6e" stroke-width="1"/>
<line x1="672.60" y1="502.50" x2="672.60" y2="499.90" stroke="#6e6e6e" stroke-width="1"/>
<line x1="672.60" y1="325.00" x2="672.60" y2="327.60" stroke="#6e6e6e" stroke-width="1"/>
<line x1="681.80" y1="502.50" x2="681.80" y2="499.90" stroke="#6e6e6e" stroke-width="1"/>
<line x1="681.80" y1="325.00" x2="681.80" y2="327.60" stroke="#6e6e6e" stroke-width="1"/>
<line x1="691.00" y1="502.50" x2="691.00" y2="499.90" stroke="#6e6e6e" stroke-width="1"/>
<line x1="691.00" y1="325.00" x2="691.00" y2="327.60" stroke="#6e6e6e" stroke-width="1"/>
<line x1="700.20" y1="502.50" x2="700.20" y2="499.90" stroke="#6e6e6e" stroke-width="1"/>
<line x1="700.20" y1="325.00" x2="700.20" y2="327.60" stroke="#6e6e6e" stroke-width="1"/>
<line x1="709.40" y1="502.50" x2="709.40" y2="499.90" stroke="#6e6e6e" stroke-width="1"/>
<line x1="709.40" y1="325.00" x2="709.40" y2="327.60" stroke="#6e6e6e" stroke-width="1"/>
<line x1="718.60" y1="502.50" x2="718.60" y2="499.90" stroke="#6e6e6e" stroke-width="1"/>
<line x1="718.60" y1="325.00" x2="718.60" y2="327.60" stroke="#6e6e6e" stroke-width="1"/>
<line x1="727.80" y1="502.50" x2="727.80" y2="499.90" stroke="#6e6e6e" stroke-width="1"/>
<line x1="727.80" y1="325.00" x2="727.80" y2="327.60" stroke="#6e6e6e" stroke-width="1"/>
<line x1="737.00" y1="502.50" x2="737.00" y2="499.90" stroke="#6e6e6e" stroke-width="1"/>
<line x1="737.00" y1="325.00" x2="737.00" y2="327.60" stroke="#6e6e6e" stroke-width="1"/>
<line x1="746.20" y1="502.50" x2="746.20" y2="499.90" stroke="#6e6e6e" stroke-width="1"/>
<line x1="746.20" y1="325.00" x2="746.20" y2="327.60" stroke="#6e6e6e" stroke-width="1"/>
<line x1="755.40" y1="502.50" x2="755.40" y2="499.90" stroke="#6e6e6e" stroke-width="1"/>
<line x1="755.40" y1="325.00" x2="755.40" y2="327.60" stroke="#6e6e6e" stroke-width="1"/>
<line x1="764.60" y1="502.50" x2="764.60" y2="499.90" stroke="#6e6e6e" stroke-width="1"/>
<line x1="764.60" y1="325.00" x2="764.60" y2="327.60" stroke="#6e6e6e" stroke-width="1"/>
<line x1="773.80" y1="502.50" x2="773.80" y2="499.90" stroke="#6e6e6e" stroke-width="1"/>
<line x1="773.80" y1="325.00" x2="773.80" y2="327.60" stroke="#6e6e6e" stroke-width="1"/>
<line x1="783.00" y1="502.50" x2="783.00" y2="499.90" stroke="#6e6e6e" stroke-width="1"/>
<line x1="783.00" y1="325.00" x2="783.00" y2="327.60" stroke="#6e6e6e" stroke-width="1"/>
<line x1="525.40" y1="502.50" x2="525.40" y2="498.20" stroke="#6e6e6e" stroke-width="1"/>
<line x1="525.40" y1="325.00" x2="525.40" y2="329.30" stroke="#6e6e6e" stroke-width="1"/>
<text x="525.40" y="525.30" font-size="18.4" text-anchor="middle" font-style="normal">26</text>
<line x1="562.20" y1="502.50" x2="562.20" y2="498.20" stroke="#6e6e6e" stroke-width="1"/>
<line x1="562.20" y1="325.00" x2="562.20" y2="329.30" stroke="#6e6e6e" stroke-width="1"/>
<text x="562.20" y="525.30" font-size="18.4" text-anchor="middle" font-style="normal">28</text>
<line x1="599.00" y1="502.50" x2="599.00" y2="498.20" stroke="#6e6e6e" stroke-width="1"/>
<line x1="599.00" y1="325.00" x2="599.00" y2="329.30" stroke="#6e6e6e" stroke-width="1"/>
<text x="599.00" y="525.30" font-size="18.4" text-anchor="middle" font-style="normal">30</text>
<line x1="635.80" y1="502.50" x2="635.80" y2="498.20" stroke="#6e6e6e" stroke-width="1"/>
<line x1="635.80" y1="325.00" x2="635.80" y2="329.30" stroke="#6e6e6e" stroke-width="1"/>
<text x="635.80" y="525.30" font-size="18.4" text-anchor="middle" font-style="normal">32</text>
<line x1="672.60" y1="502.50" x2="672.60" y2="498.20" stroke="#6e6e6e" stroke-width="1"/>
<line x1="672.60" y1="325.00" x2="672.60" y2="329.30" stroke="#6e6e6e" stroke-width="1"/>
<text x="672.60" y="525.30" font-size="18.4" text-anchor="middle" font-style="normal">34</text>
<line x1="709.40" y1="502.50" x2="709.40" y2="498.20" stroke="#6e6e6e" stroke-width="1"/>
<line x1="709.40" y1="325.00" x2="709.40" y2="329.30" stroke="#6e6e6e" stroke-width="1"/>
<text x="709.40" y="525.30" font-size="18.4" text-anchor="middle" font-style="normal">36</text>
<line x1="746.20" y1="502.50" x2="746.20" y2="498.20" stroke="#6e6e6e" stroke-width="1"/>
<line x1="746.20" y1="325.00" x2="746.20" y2="329.30" stroke="#6e6e6e" stroke-width="1"/>
<text x="746.20" y="525.30" font-size="18.4" text-anchor="middle" font-style="normal">38</text>
<line x1="783.00" y1="502.50" x2="783.00" y2="498.20" stroke="#6e6e6e" stroke-width="1"/>
<line x1="783.00" y1="325.00" x2="783.00" y2="329.30" stroke="#6e6e6e" stroke-width="1"/>
<text x="783.00" y="525.30" font-size="18.4" text-anchor="middle" font-style="normal">40</text>
<line x1="501.50" y1="494.50" x2="504.10" y2="494.50" stroke="#6e6e6e" stroke-width="1"/>
<line x1="788.50" y1="494.50" x2="785.90" y2="494.50" stroke="#6e6e6e" stroke-width="1"/>
<line x1="501.50" y1="486.03" x2="504.10" y2="486.03" stroke="#6e6e6e" stroke-width="1"/>
<line x1="788.50" y1="486.03" x2="785.90" y2="486.03" stroke="#6e6e6e" stroke-width="1"/>
<line x1="501.50" y1="477.55" x2="504.10" y2="477.55" stroke="#6e6e6e" stroke-width="1"/>
<line x1="788.50" y1="477.55" x2="785.90" y2="477.55" stroke="#6e6e6e" stroke-width="1"/>
<line x1="501.50" y1="469.08" x2="504.10" y2="469.08" stroke="#6e6e6e" stroke-width="1"/>
<line x1="788.50" y1="469.08" x2="785.90" y2="469.08" stroke="#6e6e6e" stroke-width="1"/>
<line x1="501.50" y1="460.60" x2="504.10" y2="460.60" stroke="#6e6e6e" stroke-width="1"/>
<line x1="788.50" y1="460.60" x2="785.90" y2="460.60" stroke="#6e6e6e" stroke-width="1"/>
<line x1="501.50" y1="452.13" x2="504.10" y2="452.13" stroke="#6e6e6e" stroke-width="1"/>
<line x1="788.50" y1="452.13" x2="785.90" y2="452.13" stroke="#6e6e6e" stroke-width="1"/>
<line x1="501.50" y1="443.65" x2="504.10" y2="443.65" stroke="#6e6e6e" stroke-width="1"/>
<line x1="788.50" y1="443.65" x2="785.90" y2="443.65" stroke="#6e6e6e" stroke-width="1"/>
<line x1="501.50" y1="435.18" x2="504.10" y2="435.18" stroke="#6e6e6e" stroke-width="1"/>
<line x1="788.50" y1="435.18" x2="785.90" y2="435.18" stroke="#6e6e6e" stroke-width="1"/>
<line x1="501.50" y1="426.70" x2="504.10" y2="426.70" stroke="#6e6e6e" stroke-width="1"/>
<line x1="788.50" y1="426.70" x2="785.90" y2="426.70" stroke="#6e6e6e" stroke-width="1"/>
<line x1="501.50" y1="418.23" x2="504.10" y2="418.23" stroke="#6e6e6e" stroke-width="1"/>
<line x1="788.50" y1="418.23" x2="785.90" y2="418.23" stroke="#6e6e6e" stroke-width="1"/>
<line x1="501.50" y1="409.75" x2="504.10" y2="409.75" stroke="#6e6e6e" stroke-width="1"/>
<line x1="788.50" y1="409.75" x2="785.90" y2="409.75" stroke="#6e6e6e" stroke-width="1"/>
<line x1="501.50" y1="401.28" x2="504.10" y2="401.28" stroke="#6e6e6e" stroke-width="1"/>
<line x1="788.50" y1="401.28" x2="785.90" y2="401.28" stroke="#6e6e6e" stroke-width="1"/>
<line x1="501.50" y1="392.80" x2="504.10" y2="392.80" stroke="#6e6e6e" stroke-width="1"/>
<line x1="788.50" y1="392.80" x2="785.90" y2="392.80" stroke="#6e6e6e" stroke-width="1"/>
<line x1="501.50" y1="384.33" x2="504.10" y2="384.33" stroke="#6e6e6e" stroke-width="1"/>
<line x1="788.50" y1="384.33" x2="785.90" y2="384.33" stroke="#6e6e6e" stroke-width="1"/>
<line x1="501.50" y1="375.85" x2="504.10" y2="375.85" stroke="#6e6e6e" stroke-width="1"/>
<line x1="788.50" y1="375.85" x2="785.90" y2="375.85" stroke="#6e6e6e" stroke-width="1"/>
<line x1="501.50" y1="367.38" x2="504.10" y2="367.38" stroke="#6e6e6e" stroke-width="1"/>
<line x1="788.50" y1="367.38" x2="785.90" y2="367.38" stroke="#6e6e6e" stroke-width="1"/>
<line x1="501.50" y1="358.90" x2="504.10" y2="358.90" stroke="#6e6e6e" stroke-width="1"/>
<line x1="788.50" y1="358.90" x2="785.90" y2="358.90" stroke="#6e6e6e" stroke-width="1"/>
<line x1="501.50" y1="350.43" x2="504.10" y2="350.43" stroke="#6e6e6e" stroke-width="1"/>
<line x1="788.50" y1="350.43" x2="785.90" y2="350.43" stroke="#6e6e6e" stroke-width="1"/>
<line x1="501.50" y1="341.95" x2="504.10" y2="341.95" stroke="#6e6e6e" stroke-width="1"/>
<line x1="788.50" y1="341.95" x2="785.90" y2="341.95" stroke="#6e6e6e" stroke-width="1"/>
<line x1="501.50" y1="333.48" x2="504.10" y2="333.48" stroke="#6e6e6e" stroke-width="1"/>
<line x1="788.50" y1="333.48" x2="785.90" y2="333.48" stroke="#6e6e6e" stroke-width="1"/>
<line x1="501.50" y1="325.00" x2="504.10" y2="325.00" stroke="#6e6e6e" stroke-width="1"/>
<line x1="788.50" y1="325.00" x2="785.90" y2="325.00" stroke="#6e6e6e" stroke-width="1"/>
<line x1="501.50" y1="325.00" x2="505.80" y2="325.00" stroke="#6e6e6e" stroke-width="1"/>
<line x1="788.50" y1="325.00" x2="784.20" y2="325.00" stroke="#6e6e6e" stroke-width="1"/>
<text x="495.80" y="331.70" font-size="18.4" text-anchor="end" font-style="normal">1.10</text>
<line x1="501.50" y1="358.90" x2="505.80" y2="358.90" stroke="#6e6e6e" stroke-width="1"/>
<line x1="788.50" y1="358.90" x2="784.20" y2="358.90" stroke="#6e6e6e" stroke-width="1"/>
<text x="495.80" y="365.60" font-size="18.4" text-anchor="end" font-style="normal">1.08</text>
<line x1="501.50" y1="392.80" x2="505.80" y2="392.80" stroke="#6e6e6e" stroke-width="1"/>
<line x1="788.50" y1="392.80" x2="784.20" y2="392.80" stroke="#6e6e6e" stroke-width="1"/>
<text x="495.80" y="399.50" font-size="18.4" text-anchor="end" font-style="normal">1.06</text>
<line x1="501.50" y1="426.70" x2="505.80" y2="426.70" stroke="#6e6e6e" stroke-width="1"/>
<line x1="788.50" y1="426.70" x2="784.20" y2="426.70" stroke="#6e6e6e" stroke-width="1"/>
<text x="495.80" y="433.40" font-size="18.4" text-anchor="end" font-style="normal">1.04</text>
<line x1="501.50" y1="460.60" x2="505.80" y2="460.60" stroke="#6e6e6e" stroke-width="1"/>
<line x1="788.50" y1="460.60" x2="784.20" y2="460.60" stroke="#6e6e6e" stroke-width="1"/>
<text x="495.80" y="467.30" font-size="18.4" text-anchor="end" font-style="normal">1.02</text>
<line x1="501.50" y1="494.50" x2="505.80" y2="494.50" stroke="#6e6e6e" stroke-width="1"/>
<line x1="788.50" y1="494.50" x2="784.20" y2="494.50" stroke="#6e6e6e" stroke-width="1"/>
<text x="495.80" y="501.20" font-size="18.4" text-anchor="end" font-style="normal">1.00</text>
<rect x="501.5" y="325.0" width="287.0" height="177.5" fill="none" stroke="#6e6e6e" stroke-width="1"/>
<path d="M506.60,493.83 L507.00,493.80 L507.62,493.77 L508.25,493.73 L508.87,493.69 L509.48,493.66 L510.10,493.62 L510.71,493.58 L511.32,493.55 L511.93,493.51 L512.54,493.47 L513.14,493.44 L513.75,493.40 L514.35,493.37 L514.94,493.33 L515.54,493.30 L516.13,493.26 L516.72,493.23 L517.31,493.19 L517.90,493.16 L518.49,493.13 L519.07,493.09 L519.65,493.06 L520.23,493.02 L520.80,492.99 L521.38,492.96 L521.95,492.92 L522.52,492.89 L523.09,492.86 L523.65,492.83 L524.22,492.79 L524.78,492.76 L525.34,492.73 L525.89,492.70 L526.45,492.66 L527.00,492.63 L527.55,492.60 L528.10,492.57 L528.64,492.54 L529.19,492.50 L529.73,492.47 L530.27,492.44 L530.81,492.41 L531.34,492.38 L531.87,492.35 L532.40,492.31 L532.93,492.28 L533.46,492.25 L533.98,492.22 L534.50,492.19 L535.02,492.16 L535.54,492.13 L536.06,492.09 L536.57,492.06 L537.08,492.03 L537.59,492.00 L538.10,491.97 L538.60,491.94 L539.10,491.91 L539.60,491.88 L540.10,491.84 L540.60,491.81 L541.09,491.78 L541.58,491.75 L542.07,491.72 L542.56,491.69 L543.04,491.65 L543.53,491.62 L544.01,491.59 L544.48,491.56 L544.96,491.52 L545.44,491.49 L545.91,491.46 L546.38,491.43 L546.84,491.39 L547.31,491.36 L547.77,491.32 L548.23,491.29 L548.69,491.26 L549.15,491.22 L549.60,491.19 L550.05,491.15 L550.50,491.12 L550.95,491.08 L551.40,491.04 L551.84,491.01 L552.28,490.97 L552.72,490.93 L553.16,490.90 L553.59,490.86 L554.02,490.82 L554.45,490.78 L554.88,490.74 L555.31,490.70 L555.73,490.66 L556.15,490.62 L556.57,490.58 L556.99,490.54 L557.40,490.49 L557.82,490.45 L558.23,490.40 L558.63,490.36 L559.04,490.31 L559.44,490.27 L559.85,490.22 L560.25,490.17 L560.64,490.12 L561.04,490.08 L561.43,490.02 L561.82,489.97 L562.21,489.92 L562.59,489.87 L562.98,489.81 L563.36,489.76 L563.74,489.70 L564.11,489.65 L564.49,489.59 L564.86,489.53 L565.23,489.47 L565.60,489.40 L565.96,489.34 L566.33,489.28 L566.69,489.21 L567.05,489.14 L567.40,489.07 L567.76,489.00 L568.11,488.93 L568.46,488.86 L568.80,488.78 L569.15,488.71 L569.49,488.63 L569.83,488.55 L570.17,488.47 L570.50,488.38 L570.84,488.30 L571.17,488.21 L571.49,488.12 L571.82,488.03 L572.14,487.94 L572.46,487.84 L572.78,487.74 L573.10,487.64 L573.41,487.54 L573.72,487.43 L574.03,487.33 L574.33,487.22 L574.63,487.10 L574.93,486.99 L575.23,486.87 L575.53,486.75 L575.82,486.63 L576.11,486.50 L576.39,486.37 L576.68,486.24 L576.96,486.11 L577.24,485.97 L577.51,485.83 L577.78,485.68 L578.05,485.54 L578.32,485.39 L578.58,485.23 L578.84,485.08 L579.10,484.92 L579.36,484.75 L579.61,484.59 L579.86,484.42 L580.10,484.24 L580.34,484.07 L580.58,483.89 L580.82,483.70 L581.05,483.52 L581.28,483.33 L581.51,483.13 L581.73,482.93 L581.95,482.73 L582.17,482.53 L582.38,482.32 L582.59,482.11 L582.80,481.89 L583.00,481.67 L583.20,481.45 L583.40,481.23 L583.60,481.00 L583.79,480.77 L583.98,480.53 L584.16,480.29 L584.34,480.05 L584.52,479.81 L584.70,479.56 L584.87,479.31 L585.04,479.05 L585.21,478.80 L585.37,478.54 L585.53,478.27 L585.69,478.00 L585.85,477.74 L586.00,477.46 L586.15,477.19 L586.30,476.91 L586.44,476.63 L586.59,476.34 L586.73,476.06 L586.86,475.77 L587.00,475.48 L587.13,475.18 L587.26,474.89 L587.39,474.59 L587.51,474.28 L587.64,473.98 L587.76,473.67 L587.88,473.36 L587.99,473.04 L588.11,472.72 L588.22,472.40 L588.33,472.08 L588.44,471.75 L588.54,471.42 L588.64,471.08 L588.74,470.74 L588.84,470.39 L588.94,470.04 L589.03,469.69 L589.13,469.33 L589.22,468.97 L589.31,468.61 L589.39,468.24 L589.48,467.86 L589.56,467.49 L589.64,467.10 L589.72,466.72 L589.80,466.33 L589.87,465.93 L589.95,465.53 L590.02,465.13 L590.09,464.72 L590.17,464.31 L590.23,463.89 L590.30,463.47 L590.37,463.04 L590.43,462.61 L590.50,462.17 L590.56,461.73 L590.62,461.28 L590.68,460.83 L590.74,460.38 L590.80,459.91 L590.85,459.45 L590.91,458.98 L590.96,458.50 L591.01,458.02 L591.07,457.53 L591.12,457.04 L591.17,456.55 L591.22,456.04 L591.27,455.54 L591.31,455.03 L591.36,454.51 L591.41,453.99 L591.45,453.46 L591.49,452.93 L591.54,452.39 L591.58,451.85 L591.62,451.30 L591.66,450.75 L591.71,450.19 L591.75,449.63 L591.78,449.06 L591.82,448.49 L591.86,447.92 L591.90,447.33 L591.94,446.75 L591.97,446.15 L592.01,445.56 L592.04,444.96 L592.08,444.35 L592.11,443.74 L592.15,443.12 L592.18,442.50 L592.21,441.88 L592.24,441.25 L592.28,440.61 L592.31,439.97 L592.34,439.33 L592.37,438.68 L592.40,438.03 L592.43,437.37 L592.46,436.71 L592.49,436.04 L592.51,435.37 L592.54,434.69 L592.57,434.01 L592.60,433.32 L592.62,432.63 L592.65,431.94 L592.68,431.24 L592.70,430.54 L592.73,429.82 L592.75,429.11 L592.78,428.38 L592.80,427.66 L592.83,426.93 L592.85,426.20 L592.88,425.47 L592.90,424.75 L592.93,424.03 L592.95,423.31 L592.97,422.58 L593.00,421.84 L593.02,421.11 L593.04,420.38 L593.06,419.65 L593.09,418.92 L593.11,418.21 L593.13,417.52 L593.16,416.84 L593.18,416.18 L593.21,415.51 L593.23,414.83 L593.25,414.15 L593.28,413.49 L593.30,412.86 L593.33,412.26 L593.36,411.73 L593.39,411.26 L593.42,410.86 L593.47,410.45 L593.52,410.08 L593.57,409.81 L593.62,409.72 L593.67,409.85 L593.71,410.18 L593.75,410.61 L593.79,411.04 L593.83,411.38 L593.88,411.72 L593.93,412.06 L593.98,412.30 L594.02,412.36 L594.05,412.20 L594.08,411.85 L594.11,411.37 L594.14,410.79 L594.16,410.17 L594.18,409.53 L594.20,408.93 L594.22,408.28 L594.23,407.58 L594.25,406.82 L594.26,406.01 L594.27,405.17 L594.29,404.28 L594.30,403.36 L594.31,402.41 L594.32,401.44 L594.33,400.45 L594.34,399.45 L594.36,398.44 L594.37,397.42 L594.38,396.37 L594.39,395.29 L594.40,394.18 L594.41,393.04 L594.41,391.87 L594.42,390.67 L594.43,389.46 L594.44,388.22 L594.45,386.95 L594.46,385.67 L594.47,384.37 L594.47,383.05 L594.48,381.72 L594.49,380.37 L594.50,379.01 L594.50,377.64 L594.51,376.25 L594.52,374.85 L594.53,373.40 L594.53,371.90 L594.54,370.35 L594.55,368.77 L594.55,367.15 L594.56,365.50 L594.56,363.83 L594.57,362.13 L594.58,360.43 L594.58,358.71 L594.59,356.99 L594.59,355.27 L594.60,353.56 L594.61,351.86 L594.61,350.18 L594.62,348.52 L594.62,346.88 L594.63,345.28 L594.64,343.72 L594.64,342.19 L594.65,340.72 L594.66,339.30 L594.66,337.93 L594.67,336.60 L594.68,335.29 L594.69,333.99 L594.69,332.72 L594.70,331.46 L594.71,330.22 L594.72,329.01 L594.72,327.81 L594.73,326.63 L594.74,325.48 L594.74,325.00" fill="none" stroke="#ff0000" stroke-width="1.7" stroke-linejoin="round" stroke-linecap="butt" stroke-dasharray="8.6 5.75" clip-path="url(#clip4)"/>
<path d="M598.96,325.00 L598.96,325.72 L598.97,326.73 L598.98,327.75 L598.99,328.78 L598.99,329.82 L599.00,330.87 L599.01,331.93 L599.02,333.00 L599.02,334.07 L599.03,335.16 L599.04,336.26 L599.05,337.36 L599.05,338.48 L599.06,339.60 L599.07,340.75 L599.07,341.92 L599.08,343.11 L599.09,344.33 L599.09,345.56 L599.10,346.82 L599.11,348.09 L599.11,349.37 L599.12,350.66 L599.13,351.97 L599.13,353.28 L599.14,354.59 L599.15,355.91 L599.15,357.23 L599.16,358.55 L599.17,359.86 L599.17,361.17 L599.18,362.46 L599.18,363.75 L599.19,365.03 L599.20,366.29 L599.21,367.53 L599.21,368.76 L599.22,369.96 L599.23,371.14 L599.23,372.30 L599.24,373.44 L599.25,374.58 L599.26,375.71 L599.27,376.83 L599.27,377.94 L599.28,379.05 L599.29,380.15 L599.30,381.24 L599.31,382.32 L599.32,383.40 L599.32,384.46 L599.33,385.52 L599.34,386.57 L599.35,387.61 L599.36,388.64 L599.37,389.67 L599.38,390.68 L599.39,391.68 L599.40,392.68 L599.41,393.67 L599.42,394.64 L599.42,395.61 L599.43,396.57 L599.44,397.52 L599.45,398.46 L599.47,399.40 L599.48,400.32 L599.49,401.24 L599.50,402.15 L599.51,403.05 L599.52,403.94 L599.53,404.83 L599.54,405.71 L599.55,406.57 L599.56,407.43 L599.58,408.29 L599.59,409.13 L599.60,409.97 L599.61,410.79 L599.63,411.61 L599.64,412.43 L599.65,413.23 L599.66,414.02 L599.68,414.81 L599.69,415.58 L599.70,416.35 L599.72,417.12 L599.73,417.87 L599.75,418.62 L599.76,419.36 L599.78,420.10 L599.79,420.83 L599.81,421.56 L599.82,422.28 L599.84,422.99 L599.85,423.70 L599.87,424.40 L599.88,425.09 L599.90,425.78 L599.92,426.46 L599.93,427.13 L599.95,427.80 L599.97,428.46 L599.99,429.12 L600.00,429.78 L600.02,430.44 L600.04,431.10 L600.06,431.76 L600.08,432.42 L600.09,433.07 L600.11,433.73 L600.13,434.38 L600.15,435.03 L600.17,435.67 L600.19,436.32 L600.21,436.96 L600.23,437.60 L600.25,438.25 L600.27,438.89 L600.29,439.53 L600.31,440.18 L600.32,440.83 L600.34,441.48 L600.36,442.13 L600.39,442.78 L600.41,443.43 L600.43,444.08 L600.45,444.73 L600.47,445.38 L600.49,446.03 L600.51,446.68 L600.53,447.33 L600.55,447.98 L600.57,448.62 L600.59,449.26 L600.62,449.91 L600.64,450.55 L600.66,451.19 L600.68,451.83 L600.70,452.47 L600.73,453.11 L600.75,453.75 L600.77,454.38 L600.79,455.02 L600.82,455.65 L600.84,456.27 L600.87,456.90 L600.89,457.52 L600.91,458.14 L600.94,458.75 L600.96,459.37 L600.99,459.98 L601.01,460.59 L601.04,461.19 L601.07,461.79 L601.09,462.39 L601.12,462.99 L601.15,463.58 L601.17,464.17 L601.20,464.75 L601.23,465.33 L601.26,465.90 L601.29,466.47 L601.31,467.04 L601.34,467.60 L601.37,468.16 L601.41,468.71 L601.44,469.26 L601.47,469.81 L601.50,470.35 L601.53,470.89 L601.56,471.42 L601.60,471.94 L601.63,472.47 L601.67,472.99 L601.70,473.50 L601.74,474.01 L601.77,474.52 L601.81,475.02 L601.85,475.52 L601.88,476.01 L601.92,476.50 L601.96,476.98 L602.00,477.46 L602.04,477.93 L602.08,478.40 L602.13,478.87 L602.17,479.33 L602.21,479.78 L602.26,480.23 L602.30,480.67 L602.35,481.11 L602.40,481.54 L602.44,481.97 L602.49,482.39 L602.54,482.81 L602.59,483.23 L602.65,483.63 L602.70,484.03 L602.76,484.43 L602.81,484.82 L602.87,485.20 L602.93,485.58 L602.99,485.96 L603.05,486.32 L603.11,486.68 L603.18,487.04 L603.25,487.39 L603.32,487.73 L603.39,488.06 L603.46,488.39 L603.53,488.72 L603.61,489.03 L603.69,489.34 L603.77,489.64 L603.86,489.94 L603.94,490.23 L604.04,490.51 L604.13,490.78 L604.23,491.05 L604.33,491.31 L604.43,491.56 L604.54,491.80 L604.65,492.04 L604.76,492.26 L604.88,492.48 L605.01,492.69 L605.14,492.89 L605.27,493.09 L605.41,493.27 L605.55,493.45 L605.70,493.62 L605.85,493.78 L606.01,493.93 L606.17,494.08 L606.33,494.22 L606.49,494.36 L606.66,494.49 L606.84,494.61 L607.01,494.74 L607.19,494.86 L607.37,494.98 L607.56,495.09 L607.74,495.20 L607.93,495.31 L608.12,495.42 L608.32,495.52 L608.52,495.62 L608.72,495.71 L608.92,495.81 L609.12,495.90 L609.33,495.98 L609.54,496.07 L609.75,496.15 L609.96,496.22 L610.18,496.30 L610.40,496.37 L610.62,496.44 L610.84,496.51 L611.07,496.57 L611.30,496.64 L611.53,496.70 L611.76,496.75 L612.00,496.81 L612.23,496.86 L612.47,496.91 L612.71,496.96 L612.95,497.01 L613.20,497.05 L613.45,497.09 L613.70,497.14 L613.95,497.17 L614.20,497.21 L614.45,497.25 L614.71,497.28 L614.97,497.31 L615.23,497.34 L615.49,497.37 L615.76,497.40 L616.03,497.43 L616.30,497.45 L616.57,497.47 L616.84,497.50 L617.11,497.52 L617.39,497.53 L617.67,497.55 L617.95,497.57 L618.23,497.59 L618.52,497.60 L618.80,497.61 L619.09,497.63 L619.38,497.64 L619.67,497.65 L619.97,497.66 L620.26,497.67 L620.56,497.67 L620.86,497.68 L621.16,497.69 L621.46,497.69 L621.77,497.70 L622.08,497.70 L622.38,497.70 L622.70,497.71 L623.01,497.71 L623.32,497.71 L623.64,497.71 L623.96,497.71 L624.28,497.71 L624.60,497.71 L624.92,497.71 L625.25,497.70 L625.58,497.70 L625.91,497.70 L626.24,497.69 L626.57,497.69 L626.91,497.69 L627.24,497.68 L627.58,497.67 L627.92,497.67 L628.27,497.66 L628.61,497.65 L628.96,497.65 L629.31,497.64 L629.66,497.63 L630.01,497.62 L630.36,497.61 L630.72,497.61 L631.08,497.60 L631.44,497.59 L631.80,497.58 L632.16,497.57 L632.53,497.56 L632.90,497.55 L633.26,497.54 L633.64,497.52 L634.01,497.51 L634.38,497.50 L634.76,497.49 L635.14,497.48 L635.52,497.47 L635.90,497.46 L636.29,497.44 L636.67,497.43 L637.06,497.42 L637.45,497.41 L637.84,497.39 L638.24,497.38 L638.63,497.37 L639.03,497.36 L639.43,497.34 L639.83,497.33 L640.23,497.32 L640.64,497.30 L641.04,497.29 L641.45,497.28 L641.86,497.26 L642.28,497.25 L642.69,497.24 L643.11,497.22 L643.52,497.21 L643.94,497.19 L644.37,497.18 L644.79,497.17 L645.22,497.15 L645.64,497.14 L646.07,497.13 L646.50,497.11 L646.94,497.10 L647.37,497.08 L647.81,497.07 L648.25,497.06 L648.69,497.04 L649.13,497.03 L649.58,497.02 L650.02,497.00 L650.47,496.99 L650.92,496.98 L651.37,496.96 L651.83,496.95 L652.28,496.93 L652.74,496.92 L653.20,496.91 L653.66,496.89 L654.12,496.88 L654.59,496.87 L655.06,496.86 L655.53,496.84 L656.00,496.83 L656.47,496.82 L656.94,496.80 L657.42,496.79 L657.90,496.78 L658.38,496.77 L658.86,496.75 L659.35,496.74 L659.83,496.73 L660.32,496.72 L660.81,496.70 L661.30,496.69 L661.79,496.68 L662.29,496.67 L662.79,496.66 L663.29,496.64 L663.79,496.63 L664.29,496.62 L664.79,496.61 L665.30,496.60 L665.81,496.59 L666.32,496.58 L666.83,496.56 L667.35,496.55 L667.86,496.54 L668.38,496.53 L668.90,496.52 L669.42,496.51 L669.95,496.50 L670.47,496.49 L671.00,496.48 L671.53,496.47 L672.06,496.46 L672.59,496.45 L673.13,496.44 L673.67,496.43 L674.20,496.42 L674.74,496.41 L675.29,496.40 L675.83,496.39 L676.38,496.39 L676.93,496.38 L677.48,496.37 L678.03,496.36 L678.58,496.35 L679.14,496.34 L679.70,496.33 L680.25,496.33 L680.82,496.32 L681.38,496.31 L681.94,496.30 L682.51,496.29 L683.08,496.29 L683.65,496.28 L684.22,496.27 L684.80,496.27 L685.37,496.26 L685.95,496.25 L686.53,496.25 L687.12,496.24 L687.70,496.23 L688.29,496.23 L688.87,496.22 L689.46,496.21 L690.05,496.21 L690.65,496.20 L691.24,496.20 L691.84,496.19 L692.44,496.19 L693.04,496.18 L693.64,496.18 L694.25,496.17 L694.85,496.17 L695.46,496.16 L696.07,496.16 L696.69,496.15 L697.30,496.15 L697.92,496.15 L698.53,496.14 L699.15,496.14 L699.78,496.14 L700.40,496.13 L701.02,496.13 L701.65,496.12 L702.28,496.12 L702.91,496.12 L703.55,496.12 L704.18,496.11 L704.82,496.11 L705.46,496.11 L706.10,496.11 L706.74,496.11 L707.38,496.10 L708.03,496.10 L708.68,496.10 L709.33,496.10 L709.98,496.10 L710.63,496.09 L711.29,496.09 L711.95,496.09 L712.61,496.09 L713.27,496.09 L713.93,496.09 L714.59,496.09 L715.26,496.09 L715.93,496.09 L716.60,496.09 L717.27,496.09 L717.95,496.09 L718.62,496.09 L719.30,496.09 L719.98,496.09 L720.67,496.09 L721.35,496.10 L722.03,496.10 L722.72,496.10 L723.41,496.10 L724.10,496.10 L724.80,496.10 L725.49,496.10 L726.19,496.10 L726.89,496.11 L727.59,496.11 L728.29,496.11 L729.00,496.11 L729.70,496.12 L730.41,496.12 L731.12,496.12 L731.83,496.13 L732.55,496.13 L733.26,496.13 L733.98,496.13 L734.70,496.14 L735.42,496.14 L736.15,496.15 L736.87,496.15 L737.60,496.15 L738.33,496.16 L739.06,496.16 L739.79,496.17 L740.53,496.17 L741.26,496.18 L742.00,496.18 L742.74,496.19 L743.48,496.19 L744.23,496.20 L744.97,496.20 L745.72,496.21 L746.47,496.21 L747.22,496.22 L747.98,496.22 L748.73,496.23 L749.49,496.24 L750.25,496.24 L751.01,496.25 L751.77,496.26 L752.54,496.26 L753.31,496.27 L754.07,496.28 L754.84,496.28 L755.62,496.29 L756.39,496.30 L757.17,496.30 L757.95,496.31 L758.73,496.32 L759.51,496.33 L760.29,496.34 L761.08,496.34 L761.86,496.35 L762.65,496.36 L763.44,496.37 L764.24,496.38 L765.03,496.39 L765.83,496.39 L766.63,496.40 L767.43,496.41 L768.23,496.42 L769.04,496.43 L769.84,496.44 L770.65,496.45 L771.46,496.46 L772.27,496.47 L773.09,496.48 L773.90,496.49 L774.72,496.50 L775.54,496.51 L776.36,496.52 L777.18,496.53 L778.01,496.54 L778.84,496.55 L779.67,496.56 L780.50,496.57 L781.33,496.58 L782.16,496.59 L783.00,496.61 L783.60,496.61" fill="none" stroke="#ff0000" stroke-width="1.7" stroke-linejoin="round" stroke-linecap="butt" stroke-dasharray="8.6 5.75" stroke-dashoffset="2.3" clip-path="url(#clip4)"/>
<path d="M506.60,493.66 L507.00,493.63 L507.63,493.60 L508.27,493.56 L508.90,493.53 L509.52,493.50 L510.15,493.46 L510.77,493.43 L511.39,493.40 L512.01,493.36 L512.63,493.33 L513.24,493.30 L513.85,493.27 L514.46,493.24 L515.07,493.20 L515.67,493.17 L516.28,493.14 L516.88,493.11 L517.48,493.08 L518.07,493.05 L518.67,493.03 L519.26,493.00 L519.85,492.97 L520.44,492.94 L521.02,492.91 L521.61,492.88 L522.19,492.86 L522.76,492.83 L523.34,492.80 L523.92,492.78 L524.49,492.75 L525.06,492.73 L525.62,492.70 L526.19,492.68 L526.75,492.65 L527.31,492.63 L527.87,492.60 L528.43,492.58 L528.98,492.55 L529.53,492.53 L530.08,492.51 L530.63,492.48 L531.18,492.46 L531.72,492.44 L532.26,492.42 L532.80,492.40 L533.34,492.37 L533.87,492.35 L534.40,492.33 L534.93,492.31 L535.46,492.29 L535.99,492.27 L536.51,492.25 L537.03,492.23 L537.55,492.21 L538.06,492.19 L538.58,492.17 L539.09,492.15 L539.60,492.13 L540.11,492.11 L540.61,492.09 L541.12,492.07 L541.62,492.05 L542.12,492.03 L542.61,492.01 L543.11,491.99 L543.60,491.98 L544.09,491.96 L544.58,491.94 L545.06,491.92 L545.55,491.90 L546.03,491.88 L546.50,491.87 L546.98,491.85 L547.46,491.83 L547.93,491.81 L548.40,491.79 L548.86,491.77 L549.33,491.76 L549.79,491.74 L550.25,491.72 L550.71,491.70 L551.17,491.68 L551.62,491.66 L552.08,491.64 L552.53,491.62 L552.97,491.60 L553.42,491.58 L553.86,491.56 L554.30,491.54 L554.74,491.52 L555.18,491.50 L555.61,491.48 L556.04,491.46 L556.47,491.44 L556.90,491.42 L557.33,491.40 L557.75,491.37 L558.17,491.35 L558.59,491.33 L559.00,491.30 L559.42,491.28 L559.83,491.26 L560.24,491.23 L560.65,491.20 L561.05,491.18 L561.45,491.15 L561.85,491.12 L562.25,491.09 L562.65,491.07 L563.04,491.04 L563.43,491.00 L563.82,490.97 L564.21,490.94 L564.60,490.91 L564.98,490.87 L565.36,490.84 L565.74,490.80 L566.11,490.77 L566.49,490.73 L566.86,490.69 L567.23,490.65 L567.59,490.61 L567.96,490.56 L568.32,490.52 L568.68,490.47 L569.04,490.43 L569.39,490.38 L569.74,490.33 L570.09,490.28 L570.44,490.22 L570.79,490.17 L571.13,490.11 L571.47,490.05 L571.81,489.99 L572.15,489.93 L572.48,489.87 L572.81,489.80 L573.14,489.73 L573.47,489.66 L573.79,489.59 L574.11,489.52 L574.43,489.44 L574.75,489.36 L575.06,489.28 L575.37,489.19 L575.68,489.11 L575.99,489.02 L576.29,488.92 L576.59,488.83 L576.89,488.73 L577.19,488.63 L577.48,488.52 L577.77,488.42 L578.06,488.31 L578.34,488.19 L578.62,488.07 L578.90,487.95 L579.18,487.83 L579.45,487.70 L579.72,487.57 L579.99,487.43 L580.25,487.29 L580.51,487.15 L580.77,487.00 L581.02,486.85 L581.27,486.70 L581.52,486.54 L581.77,486.38 L582.01,486.21 L582.25,486.04 L582.48,485.86 L582.71,485.68 L582.94,485.50 L583.17,485.31 L583.39,485.12 L583.60,484.93 L583.82,484.73 L584.03,484.53 L584.24,484.32 L584.44,484.11 L584.64,483.89 L584.84,483.67 L585.03,483.45 L585.22,483.22 L585.41,482.99 L585.59,482.75 L585.77,482.52 L585.95,482.27 L586.12,482.03 L586.29,481.78 L586.46,481.52 L586.63,481.27 L586.79,481.01 L586.95,480.74 L587.10,480.48 L587.25,480.20 L587.40,479.93 L587.55,479.65 L587.69,479.37 L587.83,479.09 L587.97,478.80 L588.11,478.51 L588.24,478.22 L588.37,477.92 L588.50,477.62 L588.63,477.32 L588.75,477.02 L588.87,476.71 L588.99,476.40 L589.10,476.08 L589.22,475.76 L589.33,475.44 L589.44,475.11 L589.54,474.78 L589.65,474.44 L589.75,474.10 L589.85,473.75 L589.94,473.40 L590.04,473.05 L590.13,472.69 L590.22,472.32 L590.31,471.95 L590.39,471.57 L590.48,471.19 L590.56,470.80 L590.64,470.41 L590.72,470.01 L590.79,469.61 L590.87,469.20 L590.94,468.78 L591.01,468.36 L591.08,467.94 L591.15,467.51 L591.22,467.07 L591.28,466.63 L591.34,466.18 L591.41,465.73 L591.47,465.28 L591.53,464.82 L591.59,464.36 L591.65,463.89 L591.71,463.42 L591.76,462.95 L591.82,462.47 L591.87,461.99 L591.93,461.51 L591.98,461.03 L592.03,460.55 L592.09,460.06 L592.14,459.57 L592.19,459.08 L592.24,458.59 L592.29,458.10 L592.34,457.61 L592.39,457.11 L592.43,456.62 L592.48,456.12 L592.53,455.63 L592.58,455.13 L592.62,454.64 L592.67,454.14 L592.72,453.65 L592.76,453.15 L592.81,452.66 L592.85,452.16 L592.89,451.67 L592.94,451.18 L592.98,450.69 L593.03,450.21 L593.07,449.72 L593.11,449.23 L593.16,448.75 L593.20,448.27 L593.24,447.79 L593.28,447.32 L593.33,446.85 L593.37,446.38 L593.41,445.92 L593.45,445.46 L593.49,445.00 L593.54,444.54 L593.58,444.09 L593.62,443.64 L593.66,443.20 L593.70,442.76 L593.74,442.31 L593.78,441.87 L593.82,441.41 L593.86,440.96 L593.90,440.51 L593.94,440.06 L593.97,439.60 L594.01,439.14 L594.05,438.67 L594.08,438.19 L594.11,437.71 L594.15,437.22 L594.18,436.72 L594.21,436.22 L594.24,435.71 L594.27,435.19 L594.30,434.66 L594.33,434.12 L594.36,433.57 L594.39,433.01 L594.41,432.44 L594.44,431.87 L594.47,431.28 L594.49,430.69 L594.51,430.09 L594.54,429.48 L594.56,428.85 L594.58,428.21 L594.61,427.56 L594.63,426.91 L594.65,426.24 L594.67,425.57 L594.69,424.90 L594.71,424.23 L594.73,423.57 L594.75,422.90 L594.77,422.22 L594.79,421.53 L594.81,420.84 L594.83,420.15 L594.85,419.46 L594.87,418.78 L594.89,418.10 L594.91,417.44 L594.93,416.79 L594.95,416.16 L594.97,415.51 L594.98,414.85 L595.00,414.20 L595.02,413.57 L595.04,412.96 L595.06,412.40 L595.09,411.89 L595.11,411.44 L595.14,411.03 L595.18,410.60 L595.22,410.23 L595.26,409.97 L595.29,409.88 L595.32,410.09 L595.35,410.55 L595.38,411.13 L595.41,411.69 L595.43,412.09 L595.46,412.21 L595.48,412.07 L595.51,411.75 L595.53,411.30 L595.56,410.75 L595.58,410.13 L595.59,409.50 L595.61,408.87 L595.62,408.17 L595.63,407.37 L595.64,406.50 L595.65,405.54 L595.66,404.51 L595.67,403.41 L595.68,402.25 L595.68,401.04 L595.69,399.79 L595.70,398.49 L595.71,397.15 L595.71,395.79 L595.72,394.40 L595.72,393.00 L595.73,391.59 L595.74,390.17 L595.74,388.76 L595.75,387.32 L595.76,385.80 L595.76,384.19 L595.77,382.51 L595.77,380.76 L595.78,378.96 L595.78,377.10 L595.79,375.19 L595.79,373.25 L595.79,371.27 L595.80,369.27 L595.80,367.25 L595.81,365.21 L595.81,363.17 L595.82,361.13 L595.82,359.10 L595.83,357.09 L595.83,355.09 L595.83,353.13 L595.84,351.19 L595.84,349.31 L595.85,347.47 L595.85,345.68 L595.86,343.96 L595.86,342.31 L595.87,340.73 L595.87,339.24 L595.88,337.82 L595.89,336.44 L595.89,335.08 L595.90,333.75 L595.90,332.44 L595.91,331.16 L595.92,329.91 L595.92,328.68 L595.93,327.48 L595.94,326.31 L595.95,325.16 L595.95,325.00" fill="none" stroke="#0000ff" stroke-width="1.8" stroke-linejoin="round" stroke-linecap="butt" clip-path="url(#clip4)"/>
<path d="M599.60,325.00 L599.61,325.61 L599.62,326.38 L599.63,327.15 L599.64,327.91 L599.65,328.68 L599.66,329.45 L599.67,330.22 L599.69,330.98 L599.70,331.75 L599.71,332.51 L599.72,333.27 L599.73,334.04 L599.74,334.80 L599.76,335.56 L599.77,336.32 L599.78,337.08 L599.79,337.84 L599.80,338.59 L599.82,339.35 L599.83,340.10 L599.84,340.86 L599.86,341.61 L599.87,342.36 L599.88,343.12 L599.89,343.87 L599.91,344.62 L599.92,345.37 L599.93,346.11 L599.95,346.86 L599.96,347.61 L599.97,348.35 L599.99,349.10 L600.00,349.84 L600.02,350.58 L600.03,351.32 L600.04,352.06 L600.06,352.80 L600.07,353.54 L600.09,354.28 L600.10,355.01 L600.12,355.75 L600.13,356.48 L600.15,357.21 L600.16,357.95 L600.18,358.68 L600.19,359.41 L600.21,360.13 L600.22,360.86 L600.24,361.59 L600.26,362.31 L600.27,363.04 L600.29,363.76 L600.30,364.48 L600.32,365.20 L600.34,365.92 L600.35,366.64 L600.37,367.36 L600.39,368.07 L600.40,368.79 L600.42,369.50 L600.44,370.21 L600.46,370.92 L600.47,371.63 L600.49,372.34 L600.51,373.05 L600.53,373.75 L600.55,374.46 L600.56,375.16 L600.58,375.86 L600.60,376.56 L600.62,377.26 L600.64,377.96 L600.66,378.66 L600.68,379.35 L600.70,380.05 L600.72,380.74 L600.74,381.43 L600.76,382.12 L600.78,382.81 L600.80,383.49 L600.82,384.18 L600.84,384.86 L600.86,385.54 L600.88,386.22 L600.90,386.90 L600.92,387.58 L600.95,388.26 L600.97,388.93 L600.99,389.60 L601.01,390.28 L601.03,390.94 L601.06,391.61 L601.08,392.28 L601.10,392.94 L601.13,393.61 L601.15,394.27 L601.17,394.93 L601.20,395.59 L601.22,396.24 L601.25,396.90 L601.27,397.55 L601.30,398.20 L601.32,398.85 L601.35,399.50 L601.37,400.15 L601.40,400.79 L601.43,401.43 L601.45,402.07 L601.48,402.71 L601.51,403.35 L601.53,403.98 L601.56,404.61 L601.59,405.24 L601.62,405.87 L601.65,406.50 L601.68,407.12 L601.71,407.74 L601.74,408.36 L601.77,408.98 L601.80,409.60 L601.83,410.21 L601.86,410.83 L601.89,411.44 L601.92,412.05 L601.95,412.65 L601.98,413.26 L602.02,413.86 L602.05,414.46 L602.08,415.06 L602.12,415.66 L602.15,416.26 L602.19,416.86 L602.22,417.46 L602.25,418.05 L602.29,418.65 L602.33,419.24 L602.36,419.84 L602.40,420.43 L602.43,421.02 L602.47,421.62 L602.51,422.21 L602.54,422.81 L602.58,423.41 L602.62,424.00 L602.66,424.60 L602.70,425.20 L602.73,425.80 L602.77,426.40 L602.81,427.00 L602.85,427.60 L602.89,428.21 L602.93,428.81 L602.97,429.42 L603.01,430.02 L603.05,430.63 L603.09,431.24 L603.13,431.85 L603.17,432.47 L603.21,433.08 L603.25,433.69 L603.30,434.30 L603.34,434.91 L603.38,435.52 L603.43,436.12 L603.47,436.73 L603.51,437.34 L603.56,437.94 L603.60,438.55 L603.65,439.15 L603.69,439.75 L603.74,440.35 L603.79,440.94 L603.83,441.53 L603.88,442.11 L603.93,442.69 L603.98,443.27 L604.03,443.84 L604.08,444.42 L604.14,444.98 L604.19,445.55 L604.24,446.10 L604.30,446.66 L604.35,447.21 L604.41,447.75 L604.47,448.28 L604.52,448.82 L604.58,449.34 L604.65,449.87 L604.71,450.39 L604.77,450.90 L604.83,451.41 L604.90,451.91 L604.97,452.41 L605.03,452.90 L605.10,453.39 L605.17,453.88 L605.24,454.36 L605.32,454.83 L605.39,455.30 L605.47,455.77 L605.54,456.23 L605.62,456.69 L605.70,457.14 L605.79,457.59 L605.87,458.03 L605.95,458.47 L606.04,458.91 L606.13,459.34 L606.22,459.77 L606.31,460.20 L606.40,460.62 L606.50,461.03 L606.59,461.45 L606.69,461.86 L606.79,462.26 L606.89,462.67 L607.00,463.06 L607.11,463.46 L607.21,463.85 L607.32,464.24 L607.44,464.62 L607.55,465.00 L607.67,465.38 L607.79,465.75 L607.91,466.12 L608.03,466.48 L608.16,466.85 L608.29,467.20 L608.42,467.56 L608.55,467.91 L608.69,468.26 L608.83,468.60 L608.97,468.95 L609.11,469.28 L609.26,469.62 L609.40,469.95 L609.56,470.28 L609.71,470.61 L609.87,470.93 L610.03,471.25 L610.19,471.57 L610.35,471.88 L610.52,472.19 L610.69,472.50 L610.87,472.81 L611.04,473.11 L611.22,473.41 L611.40,473.70 L611.59,473.99 L611.78,474.28 L611.97,474.57 L612.17,474.85 L612.36,475.13 L612.57,475.40 L612.77,475.68 L612.98,475.95 L613.19,476.21 L613.40,476.48 L613.62,476.74 L613.84,476.99 L614.07,477.25 L614.29,477.50 L614.52,477.74 L614.76,477.99 L614.99,478.23 L615.24,478.47 L615.48,478.70 L615.73,478.93 L615.98,479.16 L616.23,479.39 L616.49,479.61 L616.75,479.83 L617.01,480.04 L617.28,480.26 L617.55,480.47 L617.82,480.67 L618.09,480.88 L618.37,481.08 L618.66,481.27 L618.94,481.47 L619.23,481.66 L619.52,481.85 L619.82,482.03 L620.11,482.21 L620.42,482.39 L620.72,482.57 L621.03,482.74 L621.34,482.91 L621.65,483.08 L621.97,483.24 L622.29,483.40 L622.61,483.56 L622.93,483.72 L623.26,483.87 L623.59,484.02 L623.93,484.17 L624.26,484.31 L624.60,484.45 L624.95,484.59 L625.29,484.73 L625.64,484.86 L625.99,485.00 L626.34,485.13 L626.70,485.25 L627.06,485.38 L627.42,485.50 L627.78,485.62 L628.15,485.74 L628.52,485.86 L628.89,485.97 L629.27,486.08 L629.65,486.19 L630.03,486.30 L630.41,486.40 L630.80,486.51 L631.18,486.61 L631.57,486.71 L631.97,486.81 L632.36,486.90 L632.76,487.00 L633.16,487.09 L633.57,487.18 L633.97,487.27 L634.38,487.36 L634.79,487.45 L635.21,487.53 L635.62,487.61 L636.04,487.70 L636.46,487.78 L636.88,487.85 L637.31,487.93 L637.74,488.01 L638.17,488.08 L638.60,488.16 L639.04,488.23 L639.48,488.30 L639.92,488.37 L640.36,488.44 L640.81,488.50 L641.25,488.57 L641.71,488.63 L642.16,488.70 L642.61,488.76 L643.07,488.82 L643.53,488.88 L643.99,488.94 L644.46,489.00 L644.93,489.05 L645.40,489.11 L645.87,489.16 L646.34,489.22 L646.82,489.27 L647.30,489.32 L647.78,489.38 L648.26,489.43 L648.75,489.48 L649.24,489.53 L649.73,489.57 L650.23,489.62 L650.72,489.67 L651.22,489.71 L651.72,489.76 L652.22,489.80 L652.73,489.85 L653.24,489.89 L653.75,489.93 L654.26,489.97 L654.78,490.02 L655.29,490.06 L655.81,490.10 L656.34,490.14 L656.86,490.17 L657.39,490.21 L657.92,490.25 L658.45,490.29 L658.98,490.32 L659.52,490.36 L660.06,490.39 L660.60,490.43 L661.14,490.46 L661.69,490.50 L662.24,490.53 L662.79,490.56 L663.34,490.60 L663.89,490.63 L664.45,490.66 L665.01,490.69 L665.57,490.72 L666.14,490.75 L666.71,490.78 L667.28,490.81 L667.85,490.84 L668.42,490.87 L669.00,490.90 L669.58,490.93 L670.16,490.96 L670.74,490.98 L671.33,491.01 L671.92,491.04 L672.51,491.06 L673.10,491.09 L673.69,491.12 L674.29,491.14 L674.89,491.17 L675.49,491.19 L676.10,491.22 L676.71,491.24 L677.32,491.27 L677.93,491.29 L678.54,491.32 L679.16,491.34 L679.78,491.36 L680.40,491.39 L681.02,491.41 L681.65,491.43 L682.28,491.46 L682.91,491.48 L683.54,491.50 L684.17,491.52 L684.81,491.54 L685.45,491.57 L686.09,491.59 L686.74,491.61 L687.39,491.63 L688.04,491.65 L688.69,491.67 L689.34,491.69 L690.00,491.71 L690.66,491.73 L691.32,491.75 L691.98,491.77 L692.65,491.79 L693.32,491.81 L693.99,491.83 L694.66,491.85 L695.33,491.87 L696.01,491.89 L696.69,491.91 L697.37,491.93 L698.06,491.95 L698.75,491.97 L699.43,491.99 L700.13,492.01 L700.82,492.03 L701.52,492.05 L702.22,492.07 L702.92,492.08 L703.62,492.10 L704.33,492.12 L705.03,492.14 L705.74,492.16 L706.46,492.18 L707.17,492.19 L707.89,492.21 L708.61,492.23 L709.33,492.25 L710.06,492.27 L710.78,492.29 L711.51,492.30 L712.24,492.32 L712.98,492.34 L713.71,492.36 L714.45,492.38 L715.19,492.39 L715.94,492.41 L716.68,492.43 L717.43,492.45 L718.18,492.47 L718.93,492.48 L719.69,492.50 L720.45,492.52 L721.20,492.54 L721.97,492.55 L722.73,492.57 L723.50,492.59 L724.27,492.61 L725.04,492.63 L725.81,492.64 L726.59,492.66 L727.37,492.68 L728.15,492.70 L728.93,492.71 L729.72,492.73 L730.50,492.75 L731.29,492.77 L732.09,492.79 L732.88,492.80 L733.68,492.82 L734.48,492.84 L735.28,492.86 L736.08,492.88 L736.89,492.89 L737.70,492.91 L738.51,492.93 L739.33,492.95 L740.14,492.97 L740.96,492.98 L741.78,493.00 L742.60,493.02 L743.43,493.04 L744.26,493.06 L745.09,493.07 L745.92,493.09 L746.75,493.11 L747.59,493.13 L748.43,493.15 L749.27,493.17 L750.12,493.19 L750.96,493.20 L751.81,493.22 L752.66,493.24 L753.52,493.26 L754.37,493.28 L755.23,493.30 L756.09,493.32 L756.95,493.33 L757.82,493.35 L758.69,493.37 L759.56,493.39 L760.43,493.41 L761.30,493.43 L762.18,493.45 L763.06,493.47 L763.94,493.49 L764.83,493.51 L765.71,493.53 L766.60,493.55 L767.49,493.57 L768.39,493.59 L769.28,493.61 L770.18,493.62 L771.08,493.64 L771.98,493.66 L772.89,493.68 L773.80,493.70 L774.71,493.72 L775.62,493.74 L776.53,493.76 L777.45,493.79 L778.37,493.81 L779.29,493.83 L780.21,493.85 L781.14,493.87 L782.07,493.89 L783.00,493.91 L783.60,493.92" fill="none" stroke="#0000ff" stroke-width="1.8" stroke-linejoin="round" stroke-linecap="butt" clip-path="url(#clip4)"/>
<path d="M605.30,556.40 L608.40,554.60" fill="none" stroke="#111" stroke-width="1.0"/>
<path d="M607.60,555.20 L609.50,554.30 L613.00,562.90 L612.40,565.20 L611.80,565.20 Z" fill="#111" stroke="none"/>
<path d="M612.30,565.10 L617.50,545.85 L634.40,545.85" fill="none" stroke="#111" stroke-width="1.05" stroke-linejoin="miter"/>
<text x="621.10" y="563.00" font-size="18" text-anchor="start" font-style="italic">s</text>
<text x="639.70" y="562.60" font-size="18" text-anchor="start" font-style="normal">(GeV)</text>
<g transform="translate(443.1,425.0) rotate(-90)"><text x="0" y="0" font-size="18" font-style="italic" text-anchor="start">R</text><text x="11.5" y="3.2" font-size="13" font-style="italic" text-anchor="start">U</text></g>
<text x="649.60" y="363.90" font-size="18" text-anchor="start" font-style="italic">c</text>
<text x="658.05" y="367.90" font-size="13" text-anchor="start" font-style="italic">V</text>
<line x1="667.90" y1="357.10" x2="678.10" y2="357.10" stroke="#111" stroke-width="1.15"/>
<line x1="667.90" y1="361.00" x2="678.10" y2="361.00" stroke="#111" stroke-width="1.15"/>
<text x="679.20" y="363.90" font-size="18.4" text-anchor="start" font-style="normal">0,</text>
<text x="697.60" y="363.90" font-size="18" text-anchor="start" font-style="italic">c</text>
<text x="706.35" y="367.90" font-size="13" text-anchor="start" font-style="italic">A</text>
<line x1="715.90" y1="357.10" x2="726.10" y2="357.10" stroke="#111" stroke-width="1.15"/>
<line x1="715.90" y1="361.00" x2="726.10" y2="361.00" stroke="#111" stroke-width="1.15"/>
<text x="726.70" y="363.90" font-size="18.4" text-anchor="start" font-style="normal">0.026</text>
</svg>
</body></html>
